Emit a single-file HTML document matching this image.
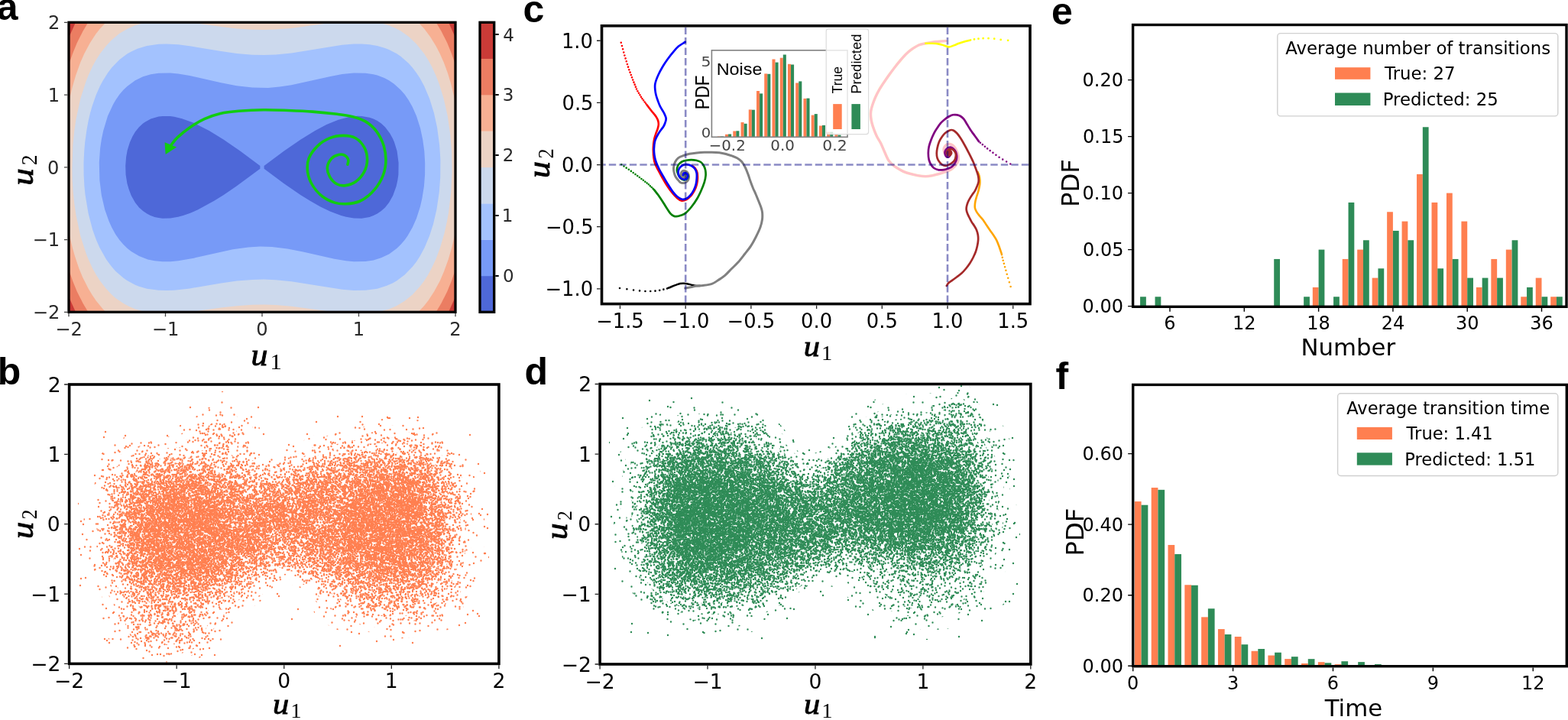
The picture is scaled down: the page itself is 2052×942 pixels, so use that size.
<!DOCTYPE html><html><head><meta charset="utf-8"><style>html,body{margin:0;padding:0;background:#fff}svg{display:block}</style></head><body><svg width="2052" height="942" viewBox="0 0 2052 942"><rect width="2052" height="942" fill="#fff"/>
<defs><path id="dt0" d="M36.5 0h0m77 4h0m-65 .5h0m13 0h0m-36 1.5h0m-6 1h0m-16.5 1h0m64 0h0m-62.5 1h0m72.5 1h0m34 3.5h0m7.5 0h0m-58.5 2h0m-57.5 .5h0m8.5 1h0m5.5 0h0m47 0h0m-36.5 .5h0m91 1h0m-57 .5h0m4.5 6.5h0m-20 1.5h0m-9.5 1.5h0m81.5 0h0m-105.5 .5h0m-8 1h0m101.5 1.5h0m-41 2h0m14.5 3.5h0m11.5 0h0m33.5 0h0m-122 1h0m131 0h0m-124 2h0m-9.5 1h0m131 0h0m-113.5 1h0m39.5 0h0m-18 3.5h0m-31.5 .5h0m80 1.5h0m-70 3.5h0m29.5 1h0m50.5 2.5h0m-1.5 3.5h0m-67 .5h0m59.5 5.5h0m3.5 1h0m-51 .5h0m-14 6h0m46 2h0m-46 1h0m18 0h0m-23.5 1h0m46 2h0m-6 2.5h0m46 1h0m-84.5 1h0m56 2h0m24.5 3h0m-21.5 .5h0m-78 1.5h0m101.5 0h0m-33 2.5h0m5.5 .5h0m-52.5 .5h0m-17 1.5h0m109.5 0h0m-7.5 .5h0m-92 4.5h0m-1 1h0m71 2h0m-57 2.5h0m-19.5 1.5h0m-7 1h0m124 1.5h0m-7 1.5h0m-80 2.5h0m-22 2h0m17 2.5h0"/><path id="dt1" d="M110 0h0m-46.5 1.5h0m-55 .5h0m102.5 0h0m-52.5 1h0m-.5 .5h0m41.5 0h0m-52.5 1h0m46.5 1h0m-94.5 2h0m127 0h0m-80.5 2.5h0m25 3.5h0m-13 1h0m10.5 0h0m3 0h0m-40.5 3h0m12.5 .5h0m24 .5h0m-29 .5h0m73.5 0h0m-42 1.5h0m-33 .5h0m79.5 1.5h0m-88 2h0m-22.5 1h0m73 2.5h0m-75 5h0m52 3h0m46 .5h0m-82 1h0m33.5 .5h0m11.5 2h0m14 1h0m-9.5 .5h0m7.5 0h0m-35 .5h0m-26 .5h0m82 1h0m-46 .5h0m5.5 0h0m-43 1h0m80.5 0h0m16.5 0h0m-64.5 1.5h0m-25 .5h0m-4 2.5h0m100.5 0h0m-111 .5h0m45.5 .5h0m62 0h0m-60 2h0m8.5 1.5h0m-14 1h0m33 0h0m-1 1.5h0m-29.5 1.5h0m-43.5 .5h0m104 .5h0m-47 1h0m58.5 2.5h0m-97 1h0m52.5 1.5h0m-46.5 .5h0m39.5 .5h0m-55 1h0m70.5 0h0m37 0h0m-.5 .5h0m-114 3h0m-1 3.5h0m43.5 .5h0m41 .5h0m-81.5 1h0m100.5 1.5h0m-13 .5h0m8.5 3h0m-88.5 .5h0m.5 3h0m57 0h0m17 0h0m-92.5 4.5h0m127 0h0m-117 1.5h0m90.5 0h0m-65 1h0m-33.5 1.5h0m106 5h0m-43.5 .5h0m-17 2h0m41.5 0h0m-20 1h0m15 .5h0m18 1h0m-98 .5h0m96 0h0m-12 2.5h0m5.5 0h0m-17.5 .5h0m-31.5 1.5h0m-13.5 1.5h0m63.5 0h0m14 3.5h0m-46.5 1.5h0m-55 .5h0m102.5 0h0"/><path id="dt2" d="M65 -2h0m-13.5 .5h0m-14.5 .5h0m12.5 2h0m1.5 0h0m72 1h0m-28 1.5h0m-52 .5h0m54 0h0m-43.5 1h0m70 .5h0m-57.5 1h0m53 1h0m-9.5 .5h0m-37.5 .5h0m42 0h0m-35 .5h0m50 0h0m-119.5 .5h0m41.5 1h0m42 .5h0m-76 .5h0m38.5 0h0m-13 .5h0m65 0h0m-99.5 .5h0m13 0h0m66 0h0m-48 1.5h0m84 .5h0m-14.5 1.5h0m-77 1h0m-26 .5h0m20 0h0m16.5 0h0m78 .5h0m-57 .5h0m6 0h0m17 .5h0m38.5 .5h0m-48.5 1.5h0m-44.5 .5h0m96.5 .5h0m2.5 0h0m-86 1h0m90 .5h0m-101.5 .5h0m99 0h0m-44 .5h0m-57.5 1.5h0m75.5 1.5h0m-93.5 1h0m61 0h0m18.5 0h0m5.5 0h0m24.5 0h0m-49.5 .5h0m34.5 0h0m-73 .5h0m27.5 0h0m9.5 .5h0m9 .5h0m38.5 .5h0m-7.5 .5h0m17 0h0m-106 2h0m40 0h0m47 0h0m-84 .5h0m68.5 0h0m-14 2h0m-9 1.5h0m-25.5 .5h0m.5 0h0m6.5 0h0m74.5 0h0m7 0h0m-111 1h0m22 .5h0m90 0h0m-69 .5h0m65.5 .5h0m-112 2h0m5.5 .5h0m67.5 0h0m-91.5 1.5h0m137 0h0m-88 1h0m32 2h0m34.5 0h0m-95 1h0m33 0h0m-13.5 .5h0m5 0h0m42 0h0m-34.5 1.5h0m-15.5 .5h0m-36 1.5h0m63.5 0h0m18.5 0h0m30 0h0m25 0h0m-78.5 2h0m44 0h0m-5 2h0m-68.5 2h0m14 .5h0m34.5 0h0m-72.5 1h0m91.5 .5h0m29 .5h0m-124 .5h0m89.5 0h0m4.5 .5h0m-27 1h0m-34 1h0m11 0h0m10.5 1h0m5 .5h0m69.5 0h0m-47.5 .5h0m26.5 0h0m-25.5 .5h0m-81 1h0m130 1.5h0m-41 .5h0m-23.5 1h0m-47.5 4h0m55.5 0h0m21 .5h0m-101 1h0m95.5 0h0m41.5 0h0m-121.5 .5h0m26 .5h0m71.5 0h0m3 .5h0m-93.5 .5h0m14.5 0h0m-29 1.5h0m47 .5h0m-14.5 1h0m-20 .5h0m101.5 0h0m-117.5 .5h0m118.5 0h0m-9 .5h0m-15 .5h0m13.5 2h0m5.5 1h0m6.5 2h0m-27 1h0m6.5 2.5h0m-87.5 .5h0m7.5 0h0m59.5 .5h0m2.5 0h0m3 0h0m-71 .5h0m117.5 0h0m-9.5 1.5h0m-94 .5h0m5.5 0h0m90.5 0h0m-123 1h0m.5 1h0m58 1.5h0m-21 1h0m3.5 0h0m41 0h0m-43 1.5h0m-13 1h0m23.5 0h0m26.5 .5h0m7 .5h0m-52 1h0m0 0h0m59 .5h0m29 0h0m-22.5 1.5h0m5 0h0m19.5 .5h0m-59 .5h0m-13.5 .5h0m-14.5 .5h0m12.5 2h0m1.5 0h0m72 1h0"/><path id="dt3" d="M19 -1.5h0m15 1h0m32.5 0h0m20.5 0h0m-52 .5h0m34 0h0m4.5 1h0m-13 1h0m28.5 0h0m-52 .5h0m27 .5h0m-33.5 1h0m9.5 0h0m-36.5 .5h0m14.5 0h0m-15.5 .5h0m6 1h0m-8 1.5h0m37 0h0m16 0h0m60 0h0m-28 .5h0m-74 .5h0m19 0h0m73 1h0m-41.5 1h0m2.5 1.5h0m11.5 0h0m-72.5 1.5h0m20.5 1.5h0m58.5 .5h0m-60 .5h0m77 0h0m-85 1.5h0m85 0h0m-63.5 .5h0m-21 .5h0m13 0h0m1.5 0h0m29.5 0h0m-15.5 .5h0m63 0h0m-13.5 1h0m-68.5 .5h0m10.5 0h0m-21 1h0m39.5 1h0m5.5 1h0m34 .5h0m-20.5 .5h0m10 .5h0m-72 1.5h0m80 0h0m5 1h0m-85 1h0m21 0h0m68.5 0h0m-86 2h0m5 .5h0m30.5 0h0m1.5 0h0m11 0h0m5.5 0h0m-53.5 .5h0m14 .5h0m54.5 0h0m-81 1h0m35 0h0m9.5 0h0m68.5 0h0m-67 .5h0m21 .5h0m-59 .5h0m55.5 0h0m-31.5 .5h0m32.5 0h0m-28 1h0m6.5 .5h0m2.5 0h0m-36 1h0m33.5 0h0m2.5 0h0m15 0h0m-56 .5h0m32.5 .5h0m53 .5h0m-63.5 .5h0m56.5 .5h0m-38 .5h0m47.5 0h0m4 2h0m-11.5 1h0m-29 1h0m6 0h0m27 .5h0m-80.5 .5h0m54 0h0m-6 .5h0m-54.5 .5h0m61 0h0m13 0h0m-16.5 .5h0m42 .5h0m-103.5 1h0m113 0h0m-63 .5h0m-23 1h0m-20 .5h0m61 0h0m-62 1h0m6.5 0h0m35 0h0m45 0h0m-64 .5h0m-19 .5h0m63 .5h0m-21.5 .5h0m31 0h0m-39.5 1h0m2 0h0m-35 .5h0m67.5 0h0m22.5 0h0m-37.5 .5h0m-.5 .5h0m5.5 1h0m36 0h0m-47.5 1.5h0m11 0h0m-61 2h0m80.5 0h0m-76.5 .5h0m52.5 1h0m45.5 0h0m-46.5 .5h0m11 1.5h0m-62 1.5h0m34.5 .5h0m-18 1h0m47 0h0m-41 .5h0m-7 .5h0m19 1h0m11 2h0m-15 1h0m19.5 .5h0m-26 1h0m50.5 0h0m-76.5 2h0m63.5 0h0m31.5 0h0m-36.5 .5h0m40.5 .5h0m-23.5 .5h0m22 1h0m5.5 0h0m-90 1h0m47 0h0m-9 .5h0m7 0h0m-53 1h0m58 0h0m-29.5 1h0m45 0h0m-47.5 .5h0m68.5 .5h0m-83.5 .5h0m2.5 0h0m51 .5h0m9 0h0m-43.5 1h0m-18 .5h0m66.5 0h0m-91 .5h0m13 0h0m63 0h0m2 0h0m35 0h0m-73 .5h0m39 0h0m11.5 2.5h0m-82 .5h0m101 0h0m-33 1h0m6.5 0h0m-72 .5h0m66 0h0m15 0h0m13 0h0m-53 1h0m-38.5 .5h0m37 0h0m4.5 .5h0m42.5 .5h0m-75 .5h0m49 0h0m27.5 0h0m-23.5 1h0m-68.5 .5h0m-2 2h0m29 0h0m43 0h0m8 .5h0m-37.5 .5h0m59 0h0m-24.5 .5h0m-81.5 1h0m90.5 0h0m22.5 0h0m-73.5 .5h0m14 0h0m22 0h0m-30 .5h0m-21 .5h0m52.5 0h0m24 0h0m8 .5h0m-41.5 .5h0m-59 .5h0m93 0h0m-53.5 1h0m2.5 .5h0m12.5 .5h0m2.5 0h0m-29.5 .5h0m-18.5 1.5h0m57 0h0m-49 1h0m-12.5 .5h0m15 1h0m56 0h0m-2.5 .5h0m-28 .5h0m33 .5h0m-62.5 1h0m7.5 0h0m33.5 0h0m32 0h0m9 0h0m-86 .5h0m18.5 0h0m-25 .5h0m16.5 .5h0m39 .5h0m8.5 .5h0m22 .5h0m-92.5 .5h0m9.5 .5h0m9 .5h0m51 0h0m-63 2h0m22.5 1h0m14 0h0m33.5 .5h0m-38 .5h0m2.5 0h0m13 1h0m-62.5 1.5h0m113 0h0m-83.5 .5h0m39 0h0m-37 .5h0m17.5 0h0m-43 .5h0m86 0h0m-29 .5h0m-2.5 1h0m-27 .5h0m32 1h0m-27.5 .5h0m-35 .5h0m32.5 0h0m80.5 0h0m-96 1.5h0m15 1h0m32.5 0h0m20.5 0h0m-52 .5h0m34 0h0m4.5 1h0m-13 1h0m28.5 0h0"/><path id="dt4" d="M30.5 -2h0m81 0h0m-51.5 .5h0m8.5 0h0m40 0h0m7.5 0h0m-38.5 .5h0m-79.5 .5h0m74 0h0m45 0h0m-.5 .5h0m-102.5 1h0m-14.5 .5h0m53.5 0h0m65.5 0h0m-88.5 .5h0m46 0h0m1.5 0h0m11.5 0h0m1.5 0h0m-48.5 .5h0m65.5 0h0m-90 .5h0m6 0h0m91 2h0m-47.5 .5h0m-36.5 .5h0m52 0h0m12 0h0m-60 1.5h0m35.5 0h0m-67 1h0m14 0h0m63 0h0m29 0h0m-89.5 .5h0m75.5 0h0m7.5 0h0m-24.5 .5h0m-56 1h0m8.5 0h0m80 0h0m5 .5h0m-95.5 .5h0m29 0h0m42.5 0h0m-39 .5h0m11.5 0h0m-17 .5h0m12 0h0m-23 .5h0m39 .5h0m14 1h0m6 0h0m-91.5 .5h0m51.5 0h0m53.5 0h0m-31.5 .5h0m-32 .5h0m39.5 0h0m-83 .5h0m119 0h0m-114.5 .5h0m86 0h0m-65.5 .5h0m88.5 .5h0m-3 .5h0m-14 .5h0m-85 .5h0m34 .5h0m-43 .5h0m60 0h0m-63 .5h0m45 0h0m74 0h0m-52 .5h0m-62.5 .5h0m28 0h0m32.5 0h0m1 0h0m21.5 .5h0m-68.5 1h0m13.5 0h0m2.5 1h0m28 0h0m38 0h0m-52 .5h0m-38 .5h0m44.5 0h0m-22 .5h0m53.5 0h0m-48 .5h0m-40 .5h0m34.5 0h0m38 0h0m7 0h0m39.5 0h0m-84.5 .5h0m61 0h0m-50.5 .5h0m49 0h0m-41.5 1.5h0m36.5 .5h0m-68.5 .5h0m-8 .5h0m42.5 0h0m36 0h0m-85 .5h0m-2 .5h0m61 .5h0m9 0h0m24 0h0m-73.5 .5h0m-15.5 .5h0m3 1h0m1.5 0h0m67 0h0m-23 .5h0m-48 .5h0m90.5 .5h0m-90 .5h0m4.5 0h0m41.5 0h0m34 0h0m16.5 0h0m-2.5 .5h0m-69 .5h0m35 0h0m38 0h0m-70 .5h0m9.5 2.5h0m3 0h0m57.5 0h0m0 0h0m-70 .5h0m63.5 0h0m-75 1h0m-20.5 .5h0m21 0h0m40.5 0h0m8 .5h0m-41 .5h0m52.5 0h0m-83.5 .5h0m20 0h0m5 0h0m27 0h0m-46 .5h0m-1 .5h0m-8.5 .5h0m119 0h0m-78 .5h0m16.5 .5h0m21 0h0m-63.5 .5h0m44 1h0m-26.5 .5h0m63.5 0h0m5.5 1h0m-91 1h0m7.5 0h0m76 0h0m15.5 .5h0m-65.5 .5h0m52.5 0h0m-55.5 .5h0m-26 .5h0m62 0h0m12.5 0h0m5 0h0m6.5 0h0m-49 .5h0m40 0h0m15 .5h0m-89.5 .5h0m14 0h0m-28 .5h0m37 .5h0m24 0h0m-37.5 .5h0m11.5 0h0m-8.5 .5h0m22.5 .5h0m-54 .5h0m10.5 0h0m98.5 0h0m5 0h0m5 0h0m-65.5 .5h0m46 0h0m11.5 0h0m-75.5 .5h0m12 0h0m2.5 0h0m12.5 .5h0m24.5 .5h0m-67.5 .5h0m53 0h0m34.5 0h0m5 0h0m-87 .5h0m87.5 .5h0m-56 .5h0m-39.5 .5h0m19.5 1h0m-11 .5h0m-8.5 1.5h0m11 0h0m28 0h0m-45.5 1h0m47.5 0h0m-12 .5h0m-13.5 .5h0m55.5 0h0m-56 .5h0m68 0h0m10 0h0m-107.5 .5h0m83 0h0m36 0h0m-109 .5h0m83.5 0h0m-85.5 1.5h0m100.5 .5h0m-31 .5h0m-54.5 .5h0m54.5 0h0m-63 .5h0m38 0h0m-47.5 .5h0m67.5 0h0m-67 .5h0m44.5 0h0m6 0h0m16.5 0h0m2 0h0m7 0h0m32.5 0h0m-106 .5h0m64.5 0h0m25.5 .5h0m-25 .5h0m-13.5 1h0m9 0h0m-16.5 1h0m59 .5h0m-33.5 .5h0m23 .5h0m-56 .5h0m48 0h0m-24.5 .5h0m-32.5 .5h0m1.5 0h0m40 1h0m0 .5h0m-51.5 .5h0m52.5 0h0m30 0h0m-88 1h0m78 0h0m-41.5 2h0m17.5 .5h0m-21.5 .5h0m-23.5 .5h0m24 0h0m-15 .5h0m14 0h0m34.5 0h0m-28.5 .5h0m-17 .5h0m61 0h0m13.5 0h0m-86.5 .5h0m36 0h0m9 0h0m-72.5 .5h0m78 0h0m-51.5 1.5h0m20.5 .5h0m20 0h0m-2.5 .5h0m7.5 0h0m7.5 .5h0m17 0h0m-43 .5h0m51.5 0h0m-80 .5h0m52.5 .5h0m-66.5 .5h0m10 .5h0m74.5 0h0m-50 1h0m24.5 1h0m25 0h0m-77 .5h0m55 0h0m21 0h0m10 .5h0m-92 .5h0m38.5 0h0m-32.5 .5h0m84.5 0h0m-30 1h0m28 0h0m-85.5 .5h0m36.5 1h0m24 0h0m7.5 0h0m-63 1h0m51.5 0h0m29 0h0m-37.5 .5h0m26 0h0m-36.5 .5h0m57.5 0h0m-100 .5h0m20.5 0h0m3.5 0h0m-23 .5h0m34 .5h0m-44 .5h0m3 0h0m3 0h0m5.5 0h0m62 0h0m38 .5h0m-14.5 .5h0m-86.5 .5h0m12 1h0m3.5 0h0m79.5 0h0m.5 0h0m-74 .5h0m30.5 .5h0m-36.5 1h0m66 0h0m-11 .5h0m-81.5 1h0m21.5 2h0m63 0h0m-54 .5h0m39 0h0m14 0h0m-62 .5h0m23.5 .5h0m33.5 0h0m-29 .5h0m-47.5 .5h0m78 .5h0m-43.5 .5h0m7.5 0h0m6 0h0m-54.5 .5h0m17.5 0h0m31.5 0h0m70 0h0m-109.5 .5h0m88 0h0m1.5 0h0m-76.5 2h0m34.5 .5h0m56.5 0h0m-55.5 1h0m13.5 1h0m-25 1.5h0m16.5 0h0m3 0h0m-45 .5h0m31 0h0m61 0h0m-14 1h0m-52 .5h0m-15 .5h0m81 0h0m-51.5 .5h0m8.5 0h0m40 0h0m7.5 0h0m-38.5 .5h0m-79.5 .5h0m74 0h0m45 0h0m-.5 .5h0m-102.5 1h0m-14.5 .5h0m53.5 0h0m65.5 0h0m-88.5 .5h0m46 0h0m1.5 0h0m11.5 0h0m1.5 0h0"/><path id="dt5" d="M50.5 -2h0m-20.5 .5h0m46.5 0h0m-65.5 1h0m1.5 .5h0m1 1h0m61 0h0m-3.5 1h0m1.5 0h0m4.5 0h0m4 0h0m-46 .5h0m-21.5 .5h0m7 0h0m8 1h0m-26.5 .5h0m41.5 0h0m17 0h0m50.5 0h0m-37 .5h0m-47.5 1h0m48 0h0m.5 0h0m-38 .5h0m23 0h0m6.5 0h0m-63 .5h0m33 0h0m25.5 0h0m30 0h0m-79.5 .5h0m6 0h0m29 0h0m28.5 0h0m15.5 0h0m-9 .5h0m16.5 0h0m-90.5 .5h0m36 0h0m-45.5 .5h0m91 0h0m18 0h0m-109 .5h0m51.5 0h0m8.5 0h0m32 0h0m14 0h0m3 0h0m-45.5 .5h0m12 0h0m-21.5 .5h0m25 0h0m-60.5 1.5h0m23 0h0m.5 0h0m21 .5h0m-56.5 .5h0m6 1h0m4 0h0m20.5 0h0m68 .5h0m-19 .5h0m3 0h0m-72 .5h0m27.5 0h0m7 0h0m-27.5 .5h0m42 0h0m32 0h0m-5 .5h0m3 0h0m-6 .5h0m-90 .5h0m17.5 0h0m33.5 0h0m35 0h0m19 0h0m4 0h0m-107 .5h0m109 0h0m-46 .5h0m10 0h0m32 0h0m-59 .5h0m9 1h0m18 0h0m7.5 .5h0m-38.5 .5h0m-33 .5h0m57 0h0m28.5 0h0m-34.5 1.5h0m15 0h0m-60.5 1h0m67 0h0m-73.5 .5h0m18.5 0h0m17.5 0h0m-35.5 .5h0m76 0h0m-56.5 .5h0m47.5 0h0m8 1h0m7 0h0m5 .5h0m-75 1h0m48.5 0h0m-41.5 1h0m29.5 0h0m30 0h0m8 0h0m6.5 .5h0m-97 1.5h0m75.5 0h0m-9 .5h0m28.5 0h0m-75.5 .5h0m8.5 0h0m36 0h0m16.5 0h0m-44.5 .5h0m4.5 0h0m26.5 .5h0m-53 .5h0m10 0h0m69.5 0h0m-92.5 .5h0m6 0h0m15.5 0h0m46.5 .5h0m-49.5 .5h0m33 0h0m1 0h0m44.5 0h0m2 0h0m-73 .5h0m30.5 0h0m18 .5h0m15.5 .5h0m10 0h0m-99 .5h0m99 0h0m-71.5 1.5h0m8 .5h0m59.5 0h0m-44.5 .5h0m18.5 0h0m11 0h0m-89.5 .5h0m109 0h0m-70.5 1h0m20 .5h0m48.5 0h0m-83 1h0m41.5 0h0m-20.5 .5h0m49 0h0m-26.5 .5h0m37.5 0h0m-65 .5h0m6.5 0h0m6.5 1h0m2.5 0h0m-40 1h0m1 .5h0m17.5 0h0m6.5 0h0m33.5 0h0m-3 .5h0m-15.5 .5h0m2.5 .5h0m22 0h0m-47.5 1h0m8 .5h0m38 0h0m-29 .5h0m-26 .5h0m25 0h0m-40.5 .5h0m1.5 0h0m14.5 0h0m7.5 0h0m21 .5h0m49.5 0h0m-84.5 .5h0m53 0h0m16 0h0m-71 .5h0m5 0h0m33 0h0m9.5 0h0m-27.5 .5h0m-25 .5h0m69 0h0m-57 .5h0m12.5 .5h0m56 .5h0m9 0h0m-52 1.5h0m3 0h0m16 .5h0m40.5 .5h0m-21.5 .5h0m-85.5 .5h0m20 0h0m21 0h0m11 0h0m57 0h0m-63 .5h0m53.5 0h0m-35.5 1h0m-53.5 .5h0m49 0h0m-27 .5h0m23.5 0h0m-28 .5h0m54.5 1h0m1.5 0h0m14.5 0h0m-79 .5h0m68.5 .5h0m-71 .5h0m5 .5h0m27 0h0m24 0h0m9.5 0h0m-55 1h0m55.5 0h0m-44.5 .5h0m42 0h0m25 0h0m-101.5 .5h0m8.5 .5h0m89.5 0h0m-102 .5h0m.5 0h0m7.5 0h0m13 0h0m88 0h0m.5 0h0m-83.5 1h0m61.5 0h0m-28.5 .5h0m21.5 0h0m-53.5 .5h0m6.5 0h0m16 0h0m3 0h0m32 0h0m-24 1h0m21.5 0h0m1.5 0h0m-22 1h0m-40 .5h0m4 .5h0m-16.5 .5h0m56.5 0h0m-32.5 .5h0m31 0h0m21.5 0h0m18.5 0h0m-37 2h0m30 .5h0m3 0h0m-97 .5h0m34.5 0h0m74.5 0h0m-95.5 1h0m-7 .5h0m68.5 0h0m-56.5 .5h0m12 .5h0m15.5 0h0m21.5 0h0m36.5 0h0m-93.5 .5h0m54 0h0m-16.5 .5h0m17 .5h0m-49 .5h0m87.5 0h0m-102 .5h0m-2.5 .5h0m4 0h0m105 0h0m-105.5 .5h0m.5 0h0m29.5 0h0m68 0h0m-12 .5h0m14 .5h0m-2 .5h0m-66 .5h0m-10.5 .5h0m36.5 0h0m38 0h0m-37 .5h0m21.5 0h0m-69 .5h0m53 0h0m-51 1h0m6.5 0h0m24.5 0h0m21.5 .5h0m-41 .5h0m-11.5 .5h0m-17.5 .5h0m13 0h0m96 0h0m-85.5 .5h0m74 0h0m-51 .5h0m18.5 0h0m23.5 .5h0m-63 .5h0m16.5 0h0m18 0h0m-45 .5h0m35.5 .5h0m-6 .5h0m20 0h0m23.5 0h0m-37 .5h0m43.5 0h0m-87.5 .5h0m0 0h0m78 .5h0m-47 .5h0m24 0h0m-10.5 .5h0m10.5 0h0m14 0h0m3.5 0h0m-63.5 .5h0m73.5 0h0m-54 1h0m23 0h0m27.5 0h0m-71.5 .5h0m33 0h0m6 0h0m-23 .5h0m37 .5h0m-45 .5h0m48 0h0m19 0h0m-6.5 .5h0m1 0h0m-83.5 .5h0m109 0h0m-74.5 1h0m49.5 0h0m-81 1h0m86 0h0m-27.5 .5h0m18.5 0h0m-28.5 .5h0m-49.5 1.5h0m35.5 0h0m35 0h0m-37 .5h0m25.5 0h0m-63.5 .5h0m48 0h0m61 0h0m-96.5 .5h0m9 .5h0m36.5 0h0m48.5 0h0m-8 .5h0m-17 .5h0m-34.5 .5h0m12.5 0h0m43.5 0h0m-50 .5h0m34.5 0h0m-77 .5h0m2.5 0h0m15.5 0h0m45 0h0m11.5 0h0m23 0h0m-73.5 .5h0m10 0h0m30 0h0m11 .5h0m-39.5 .5h0m25.5 0h0m14.5 0h0m-83 1h0m109 0h0m-15.5 .5h0m-73.5 .5h0m3 0h0m17.5 1h0m-5 .5h0m20 0h0m9.5 .5h0m22 0h0m17 0h0m-44.5 1h0m.5 0h0m22 0h0m17 0h0m-81.5 .5h0m11 0h0m3 0h0m4 .5h0m3.5 0h0m33.5 0h0m-63.5 .5h0m90 0h0m-12 2.5h0m5.5 0h0m-91 .5h0m18 0h0m12.5 0h0m69.5 0h0m-29 .5h0m-64 .5h0m15.5 0h0m54.5 0h0m7 0h0m-12 .5h0m3 0h0m-43.5 .5h0m14.5 0h0m12 0h0m-3.5 .5h0m29 0h0m-56 .5h0m12 0h0m16 0h0m45.5 0h0m-47.5 1.5h0m4 .5h0m-60 .5h0m4 0h0m2.5 0h0m102.5 0h0m-79 1.5h0m19.5 0h0m6.5 0h0m21.5 0h0m.5 1h0m28 0h0m-73 .5h0m2.5 0h0m30 0h0m-25.5 1h0m3.5 1.5h0m14.5 0h0m46 0h0m-95.5 .5h0m89.5 0h0m-39.5 .5h0m8 .5h0m-53 .5h0m3 0h0m20 0h0m15.5 0h0m-30.5 .5h0m10.5 0h0m18.5 1h0m0 1h0m-20.5 .5h0m46.5 0h0m-65.5 1h0m1.5 .5h0m1 1h0m61 0h0m-3.5 1h0m1.5 0h0m4.5 0h0m4 0h0"/><path id="dt6" d="M23.5 -2h0m106 0h0m-119 .5h0m102 0h0m22 0h0m-116.5 1h0m35 0h0m3.5 0h0m-38 .5h0m22 0h0m91.5 0h0m-129.5 .5h0m37.5 0h0m78 0h0m-85 .5h0m24 0h0m77 0h0m-109 .5h0m88 0h0m-106 .5h0m16.5 0h0m46 0h0m43 0h0m-28 .5h0m13 0h0m16.5 0h0m21 1h0m-98.5 .5h0m20 0h0m51.5 0h0m-40 .5h0m25.5 0h0m-95.5 1h0m133.5 0h0m5.5 0h0m-84.5 .5h0m63.5 0h0m-70 .5h0m36 0h0m-77.5 1h0m49 0h0m56.5 0h0m-64 .5h0m42 0h0m-87 .5h0m139 0h0m-133.5 .5h0m84.5 0h0m3.5 0h0m28.5 0h0m-113.5 .5h0m40.5 0h0m16 0h0m29.5 0h0m39.5 0h0m-131.5 .5h0m16 0h0m14.5 0h0m15 0h0m59 0h0m-104.5 .5h0m71 0h0m56.5 0h0m-75 .5h0m15 0h0m16 0h0m16.5 0h0m10 0h0m-115 .5h0m76.5 0h0m2 0h0m60.5 0h0m-118.5 .5h0m2 0h0m10 0h0m11 0h0m91 .5h0m-102 .5h0m14 0h0m4.5 0h0m32 0h0m50 0h0m-115.5 .5h0m41.5 0h0m5 .5h0m30.5 0h0m37.5 .5h0m-7 .5h0m7.5 0h0m-105.5 .5h0m-23.5 .5h0m130.5 0h0m8.5 0h0m-68.5 .5h0m8 0h0m8.5 0h0m45 0h0m-125 .5h0m117.5 0h0m-82 .5h0m81 0h0m-27.5 .5h0m-71 .5h0m27 0h0m61.5 0h0m-60 .5h0m34 0h0m-66.5 .5h0m23 0h0m14.5 0h0m18.5 0h0m41 0h0m3.5 0h0m7 0h0m-40.5 .5h0m12 0h0m-78 .5h0m80 0h0m13.5 0h0m10 0h0m-94.5 .5h0m102.5 0h0m-107 .5h0m2.5 0h0m56 0h0m5 0h0m-12 .5h0m29.5 0h0m15 0h0m-108.5 .5h0m15.5 0h0m14.5 0h0m47.5 0h0m-42.5 .5h0m31.5 0h0m-26.5 .5h0m37 1h0m-18 .5h0m13 0h0m2.5 .5h0m-36.5 .5h0m56.5 0h0m-15 .5h0m-82 .5h0m3.5 .5h0m26 0h0m-29.5 .5h0m45 0h0m-37 .5h0m12 0h0m22 0h0m2.5 0h0m32 0h0m46 0h0m-94 .5h0m16.5 0h0m48.5 0h0m15.5 0h0m3.5 .5h0m-123.5 .5h0m9.5 0h0m27 0h0m35.5 0h0m6.5 0h0m48.5 0h0m-119 .5h0m9.5 0h0m7.5 0h0m15.5 0h0m78 0h0m-119 .5h0m35 0h0m10 0h0m33.5 0h0m37 0h0m23.5 0h0m-134 .5h0m55.5 0h0m17 0h0m46.5 0h0m6.5 0h0m-124 .5h0m16 0h0m48.5 0h0m-47.5 .5h0m42.5 0h0m45.5 0h0m-25 .5h0m21.5 0h0m4 0h0m-55.5 .5h0m3 0h0m-34.5 .5h0m7.5 0h0m80.5 0h0m-87.5 .5h0m6.5 0h0m45 0h0m53 0h0m-119 .5h0m63 0h0m-25 .5h0m19.5 0h0m39 0h0m18.5 .5h0m-66 .5h0m8.5 0h0m33 0h0m-64.5 .5h0m25 0h0m56.5 0h0m-118.5 .5h0m139 0h0m-142.5 .5h0m22 0h0m32.5 0h0m44 0h0m40.5 0h0m-114 .5h0m63.5 0h0m-62.5 .5h0m31.5 0h0m49.5 0h0m9.5 .5h0m7.5 0h0m-102.5 .5h0m57 0h0m0 0h0m35 0h0m-22 .5h0m25 0h0m5.5 0h0m-103.5 .5h0m77.5 0h0m11.5 0h0m3.5 0h0m-111 .5h0m15.5 0h0m2.5 0h0m19.5 0h0m13.5 0h0m25.5 0h0m10.5 0h0m52 0h0m-94.5 .5h0m52.5 0h0m38 0h0m-68.5 .5h0m25 0h0m-83 .5h0m16.5 0h0m40.5 0h0m4.5 0h0m-3 .5h0m-20.5 .5h0m10 0h0m72 0h0m-108.5 .5h0m3.5 0h0m58.5 0h0m3.5 0h0m31 0h0m2.5 0h0m-73.5 .5h0m1.5 0h0m53 0h0m-50.5 .5h0m20.5 0h0m67.5 0h0m-116.5 .5h0m33 0h0m34 0h0m-22.5 .5h0m27 0h0m19 0h0m-95.5 .5h0m40.5 0h0m4.5 0h0m8.5 0h0m35.5 .5h0m-17 .5h0m-17 .5h0m11.5 0h0m45 0h0m-34.5 .5h0m28.5 0h0m-116 .5h0m49.5 0h0m23.5 0h0m-45 .5h0m59.5 0h0m-8.5 .5h0m.5 0h0m23.5 0h0m-78 .5h0m9 0h0m14 0h0m14 0h0m-58 .5h0m95.5 0h0m.5 0h0m-68.5 .5h0m23.5 .5h0m8 0h0m14 0h0m39 .5h0m-65.5 .5h0m62 0h0m-93 .5h0m72 0h0m25.5 0h0m2.5 0h0m-22.5 .5h0m7.5 0h0m-53 .5h0m39 0h0m25 0h0m-110 .5h0m10 0h0m21.5 0h0m-34.5 .5h0m11 0h0m7.5 0h0m.5 0h0m6.5 0h0m31 .5h0m49.5 0h0m2.5 0h0m-48.5 .5h0m2 0h0m34 0h0m-46 .5h0m16.5 1h0m1 0h0m13 0h0m-78.5 .5h0m25.5 0h0m6 0h0m3 0h0m13.5 0h0m36 .5h0m-90 .5h0m2 0h0m11 0h0m2.5 0h0m25 0h0m10.5 0h0m44.5 0h0m-58 .5h0m-37.5 .5h0m51.5 0h0m23.5 0h0m-65 .5h0m20 .5h0m74.5 0h0m-105 .5h0m17.5 0h0m121.5 0h0m-130 .5h0m29 0h0m9.5 0h0m78 0h0m-124 .5h0m6.5 0h0m12.5 0h0m37 0h0m1.5 0h0m-14.5 .5h0m81 0h0m-72.5 .5h0m-30 .5h0m18 0h0m4.5 0h0m41 0h0m15.5 0h0m28.5 0h0m-110.5 .5h0m54 0h0m.5 .5h0m-69 .5h0m41 0h0m48 0h0m9 0h0m-101.5 .5h0m23 0h0m107 0h0m-95.5 .5h0m28 0h0m-49 .5h0m25.5 0h0m18.5 0h0m19.5 0h0m35 0h0m7 0h0m-89 .5h0m16.5 0h0m28.5 0h0m5 0h0m14.5 0h0m9 0h0m-105.5 .5h0m121.5 0h0m17.5 0h0m-119 .5h0m28 0h0m-30.5 .5h0m20.5 0h0m7.5 0h0m38 0h0m43.5 0h0m-65.5 .5h0m28.5 0h0m41.5 0h0m-101 .5h0m1 0h0m31 0h0m28 0h0m44 0h0m-96.5 .5h0m23 0h0m-41 .5h0m47 0h0m31.5 0h0m34.5 0h0m-134.5 .5h0m14 0h0m32 0h0m22.5 0h0m70.5 0h0m-33 .5h0m1 0h0m24.5 0h0m-63.5 .5h0m8.5 0h0m9.5 0h0m9.5 0h0m13 0h0m-80 .5h0m1.5 0h0m30 0h0m-56 .5h0m19.5 0h0m9.5 .5h0m30 0h0m39.5 0h0m5.5 0h0m-105 .5h0m.5 0h0m42 0h0m4.5 .5h0m37 0h0m-34 .5h0m6.5 0h0m20.5 0h0m-82 .5h0m53 0h0m1.5 0h0m51.5 0h0m25 0h0m6.5 0h0m1.5 0h0m-86 .5h0m56.5 0h0m19 0h0m-54 1h0m-26 .5h0m-31.5 .5h0m.5 0h0m56 0h0m-17 .5h0m27 0h0m25 0h0m-75.5 .5h0m51 .5h0m46.5 0h0m-106 .5h0m16 0h0m5 0h0m-41 1h0m20 0h0m40 0h0m14.5 0h0m33 0h0m-34 .5h0m-57 .5h0m80.5 0h0m26.5 .5h0m8 0h0m-11.5 .5h0m2 0h0m-21.5 .5h0m2.5 .5h0m-92 .5h0m35 0h0m19 .5h0m20.5 0h0m-81 .5h0m27 0h0m87.5 0h0m-46.5 .5h0m42.5 0h0m-120 .5h0m34 0h0m60 0h0m45 0h0m-103.5 .5h0m33.5 0h0m67 0h0m-132.5 .5h0m2 0h0m0 0h0m5.5 0h0m81.5 0h0m50 0h0m-72 .5h0m9.5 0h0m13 0h0m42.5 0h0m-97 .5h0m70 0h0m-96.5 .5h0m13 0h0m75 0h0m16 .5h0m-96.5 1h0m64.5 0h0m28.5 0h0m23.5 0h0m-28.5 .5h0m-93 .5h0m5.5 0h0m.5 0h0m36.5 0h0m44.5 .5h0m11.5 0h0m20 0h0m-129 .5h0m121 0h0m18 0h0m-76.5 .5h0m33 0h0m-26.5 .5h0m21 0h0m-4.5 .5h0m-77 .5h0m6 0h0m102 0h0m2.5 0h0m-91.5 .5h0m83.5 0h0m19.5 0h0m-110.5 .5h0m91.5 0h0m8.5 .5h0m-54 .5h0m5.5 0h0m1.5 0h0m41 0h0m14 0h0m-132 .5h0m43 0h0m17 0h0m5.5 0h0m73.5 0h0m-130.5 .5h0m51 0h0m13 0h0m8.5 0h0m4.5 0h0m12 0h0m-70.5 .5h0m80.5 0h0m22 0h0m-75.5 .5h0m24.5 0h0m7.5 0h0m39 0h0m-98 .5h0m9 0h0m17 0h0m-46 .5h0m21 .5h0m65.5 0h0m8 0h0m-62 1h0m80 .5h0m-95 .5h0m50.5 0h0m4.5 0h0m37 0h0m-79.5 .5h0m89.5 0h0m-120.5 .5h0m1.5 0h0m95.5 0h0m2 0h0m-79.5 .5h0m106 0h0m-119 .5h0m102 0h0m22 0h0m-116.5 1h0m35 0h0m3.5 0h0m-38 .5h0m22 0h0m91.5 0h0m-129.5 .5h0m37.5 0h0m78 0h0m-85 .5h0m24 0h0m77 0h0m-109 .5h0m88 0h0m-106 .5h0m16.5 0h0m46 0h0m43 0h0"/><path id="dt7" d="M9 -2h0m22.5 .5h0m9 0h0m13 0h0m12 0h0m1 0h0m14.5 0h0m16.5 0h0m-81 .5h0m19.5 0h0m38 0h0m8.5 0h0m-79.5 .5h0m21.5 0h0m68 0h0m18.5 0h0m4 0h0m3.5 0h0m-61.5 .5h0m33 0h0m25.5 0h0m-94.5 .5h0m13.5 0h0m8.5 0h0m-33 .5h0m100 0h0m-88.5 .5h0m22.5 0h0m60 0h0m-105 1h0m54.5 0h0m2.5 0h0m30 0h0m36 0h0m-114.5 .5h0m81 0h0m28 0h0m-79.5 .5h0m46 0h0m-68.5 .5h0m36 0h0m26 0h0m11.5 0h0m6.5 0h0m15 0h0m-71.5 .5h0m20.5 0h0m25.5 0h0m12 0h0m7 0h0m9.5 0h0m-111 .5h0m33 0h0m90 0h0m-104 .5h0m3.5 0h0m14 0h0m13.5 0h0m-46.5 .5h0m75.5 .5h0m-71 .5h0m36.5 0h0m65.5 0h0m-44 .5h0m17 0h0m3.5 .5h0m-69.5 .5h0m13 0h0m15 0h0m52 0h0m-10.5 .5h0m1.5 0h0m19 0h0m-100.5 .5h0m57 0h0m52 0h0m1.5 0h0m2 0h0m-40 .5h0m34 0h0m-102 .5h0m51.5 0h0m4 0h0m43 0h0m-66 .5h0m7.5 0h0m32 0h0m13 0h0m-7.5 .5h0m6.5 0h0m12.5 0h0m-77.5 .5h0m86 0h0m-90.5 1h0m71.5 0h0m.5 0h0m-64 .5h0m6 0h0m18 0h0m52 0h0m-43 .5h0m41 0h0m-79.5 .5h0m1.5 0h0m13.5 0h0m14.5 0h0m1.5 0h0m3 0h0m-12.5 .5h0m10 0h0m-54.5 .5h0m70 0h0m5 0h0m-72 .5h0m36.5 0h0m29.5 0h0m13.5 0h0m15 0h0m2 0h0m6.5 0h0m-108 .5h0m20 0h0m8.5 0h0m-32 1.5h0m62.5 0h0m22.5 0h0m11 0h0m18.5 0h0m8.5 0h0m-103.5 .5h0m2.5 0h0m64 0h0m0 0h0m-80.5 .5h0m2 0h0m1 0h0m6.5 0h0m39 0h0m3.5 0h0m-16 .5h0m18.5 0h0m0 .5h0m2 0h0m46.5 0h0m-101.5 .5h0m74 0h0m-83.5 .5h0m16.5 0h0m71.5 0h0m35 0h0m-113 .5h0m18.5 .5h0m8 0h0m-33 .5h0m123 0h0m-110 .5h0m4 0h0m14 0h0m12 0h0m29.5 0h0m27 0h0m-56.5 .5h0m72 0h0m-96.5 .5h0m67 0h0m20.5 0h0m-108.5 .5h0m55.5 0h0m32 0h0m7 0h0m15 0h0m13.5 0h0m-85 .5h0m2 0h0m3.5 0h0m33 0h0m-66 .5h0m27 0h0m26 0h0m28 0h0m-33 .5h0m42 0h0m8.5 0h0m-108.5 .5h0m41 0h0m15.5 0h0m7 0h0m59.5 0h0m-107 .5h0m8 0h0m1.5 0h0m37.5 0h0m.5 0h0m34.5 0h0m-69.5 .5h0m19.5 0h0m-37.5 .5h0m43 0h0m21.5 0h0m27 0h0m-92 .5h0m25 0h0m41.5 0h0m-42.5 .5h0m79 0h0m-113.5 .5h0m36 0h0m60 0h0m27 0h0m-109 .5h0m52 0h0m9 0h0m-26 .5h0m46.5 0h0m-79 .5h0m7.5 0h0m18 0h0m26 0h0m1.5 0h0m11 0h0m16 0h0m-75.5 .5h0m11.5 0h0m38 0h0m-68 .5h0m44 0h0m7 0h0m36 0h0m36 0h0m-108 .5h0m7 0h0m11 0h0m52 0h0m-37.5 .5h0m46.5 0h0m-89.5 1h0m28.5 0h0m3 0h0m2 0h0m16.5 0h0m-21.5 .5h0m26.5 0h0m18 0h0m7.5 0h0m-25 .5h0m25.5 0h0m-52 .5h0m21.5 0h0m2.5 0h0m44.5 0h0m.5 0h0m9.5 0h0m-93.5 .5h0m11 0h0m68.5 0h0m3 .5h0m9.5 0h0m-108 .5h0m114.5 0h0m-105 .5h0m22 0h0m15 0h0m10.5 0h0m13 0h0m-46 .5h0m34.5 0h0m27 0h0m10.5 0h0m-52 .5h0m17 0h0m10.5 0h0m-44 .5h0m11 .5h0m69.5 0h0m6 0h0m-120.5 .5h0m32 0h0m28 0h0m63 0h0m-119.5 .5h0m123 0h0m-111.5 .5h0m12.5 0h0m-2 .5h0m66.5 0h0m1 0h0m12 0h0m11.5 0h0m-9 .5h0m-92.5 .5h0m35 0h0m13 0h0m-12 .5h0m16 0h0m33 0h0m20 0h0m-116.5 .5h0m4.5 0h0m27 0h0m8 0h0m65 0h0m18.5 0h0m-101.5 .5h0m1 0h0m0 .5h0m58 0h0m5 0h0m22.5 .5h0m-74 .5h0m18 0h0m10.5 0h0m4 0h0m4 0h0m1.5 0h0m-60 .5h0m12 0h0m10.5 0h0m15 0h0m1 0h0m29.5 0h0m37 0h0m-105 .5h0m6 0h0m38 0h0m20 0h0m8 0h0m32.5 0h0m-65.5 .5h0m5 0h0m8.5 0h0m12 0h0m23 0h0m7.5 0h0m-44.5 .5h0m21.5 0h0m11.5 0h0m-87 .5h0m5 0h0m30.5 0h0m56 0h0m-96 .5h0m55.5 0h0m16 0h0m40.5 0h0m-109.5 .5h0m93.5 0h0m-34.5 1h0m8 0h0m-19.5 .5h0m56.5 0h0m-49.5 .5h0m-27 .5h0m11.5 0h0m31 0h0m-57.5 .5h0m30.5 0h0m18.5 0h0m47.5 0h0m-109.5 .5h0m.5 0h0m39.5 0h0m-46.5 .5h0m33 0h0m19 0h0m44.5 0h0m26.5 0h0m-64.5 .5h0m-49 .5h0m108 0h0m-80 .5h0m72 0h0m5 0h0m-68.5 .5h0m54 0h0m16.5 0h0m3 0h0m-60.5 .5h0m24 0h0m11 0h0m8 0h0m-65 .5h0m34 0h0m15 0h0m21 0h0m-98 .5h0m22 0h0m20 0h0m37 0h0m30 0h0m-88.5 .5h0m60.5 0h0m23.5 0h0m-32 .5h0m19.5 0h0m11.5 0h0m-110 .5h0m70 0h0m-74 .5h0m27.5 0h0m1 0h0m37 0h0m6 0h0m22 0h0m29.5 0h0m-123.5 .5h0m60 0h0m32 0h0m8.5 0h0m21 0h0m1.5 0h0m-82 .5h0m15 0h0m18.5 0h0m21.5 0h0m13 0h0m-107.5 1h0m21.5 0h0m13 0h0m15 0h0m5.5 0h0m60.5 0h0m7.5 0h0m-104 .5h0m1 0h0m14 0h0m8.5 0h0m-26.5 .5h0m10.5 0h0m15.5 0h0m35.5 0h0m-44.5 .5h0m49.5 0h0m15 0h0m-35.5 .5h0m40 0h0m-87 .5h0m90.5 0h0m-94.5 .5h0m73.5 0h0m-83 .5h0m26 0h0m66 0h0m31 0h0m-18.5 .5h0m5.5 0h0m-74.5 .5h0m35 0h0m6 0h0m-24.5 .5h0m5 0h0m22.5 0h0m-23.5 1h0m60 0h0m-119 .5h0m32 0h0m6.5 0h0m17 0h0m21 0h0m31.5 0h0m15 0h0m-77 .5h0m37 0h0m-50.5 .5h0m3 0h0m46.5 0h0m11.5 0h0m27 0h0m-117 .5h0m11.5 0h0m21 .5h0m2 0h0m4.5 0h0m12 0h0m22.5 0h0m42 0h0m-90.5 .5h0m49.5 0h0m32 0h0m-83.5 .5h0m20.5 0h0m68 0h0m-89.5 .5h0m87 0h0m-57 .5h0m24 0h0m5.5 0h0m30.5 0h0m-6 .5h0m-59.5 .5h0m59 .5h0m-43 .5h0m21 0h0m-73 .5h0m70 0h0m9 0h0m-93 .5h0m3 0h0m102.5 0h0m17.5 0h0m3 0h0m-95.5 .5h0m44 0h0m-70 .5h0m15 0h0m58.5 0h0m8 .5h0m13.5 0h0m-71.5 .5h0m2.5 0h0m70 0h0m-58 .5h0m72.5 0h0m5 0h0m-3.5 .5h0m4 0h0m-105 .5h0m2.5 0h0m87.5 0h0m11.5 0h0m-87.5 .5h0m51.5 0h0m37.5 0h0m-95.5 .5h0m9 0h0m9.5 0h0m18 0h0m36.5 0h0m-23.5 .5h0m30 0h0m-86 .5h0m18 0h0m40 0h0m19.5 0h0m-88.5 .5h0m96.5 0h0m-33.5 .5h0m2.5 0h0m5.5 0h0m-68 .5h0m19 0h0m68.5 0h0m0 0h0m-80.5 1h0m14.5 0h0m38.5 0h0m37.5 0h0m-82.5 .5h0m10.5 0h0m74 0h0m-105 .5h0m123 0h0m-100 .5h0m15 0h0m1 0h0m47.5 0h0m-20 .5h0m10 0h0m-76 .5h0m52 0h0m7 0h0m16.5 0h0m9.5 0h0m19 .5h0m-98 .5h0m18.5 0h0m7 0h0m7.5 0h0m50.5 .5h0m-16 .5h0m32.5 0h0m10 0h0m-111 .5h0m35 0h0m20.5 0h0m-46 .5h0m16.5 0h0m-6 .5h0m32.5 0h0m5.5 0h0m-34.5 .5h0m0 0h0m39.5 0h0m-66 .5h0m52.5 0h0m14 0h0m17 0h0m4 0h0m-92.5 .5h0m28.5 0h0m17 0h0m14.5 0h0m19 0h0m16.5 0h0m11 0h0m.5 0h0m1 0h0m10.5 0h0m4.5 0h0m-86 .5h0m8 0h0m25 0h0m31 0h0m-75 .5h0m5.5 0h0m18.5 0h0m19.5 0h0m8 0h0m-48 .5h0m27 0h0m8.5 0h0m38.5 0h0m-74 .5h0m26.5 0h0m30 0h0m19 0h0m-49 .5h0m52 0h0m12.5 0h0m-82 .5h0m46 0h0m-43.5 .5h0m9.5 0h0m3.5 0h0m18.5 0h0m6 .5h0m4.5 0h0m-35 .5h0m37.5 0h0m-66 .5h0m63 0h0m2.5 .5h0m-28.5 .5h0m24 0h0m-.5 .5h0m17 0h0m-39 1h0m13 0h0m5.5 0h0m-47.5 .5h0m3 0h0m-27.5 .5h0m24 0h0m23.5 0h0m-25.5 .5h0m75 .5h0m3.5 0h0m-103 .5h0m3 0h0m55.5 0h0m1.5 0h0m16 0h0m37.5 0h0m9.5 0h0m-66.5 .5h0m24 0h0m21.5 0h0m-91 .5h0m106 0h0m-64 .5h0m47 0h0m-29 .5h0m22.5 0h0m20 0h0m-117 .5h0m60.5 0h0m4 0h0m58.5 0h0m-119.5 .5h0m37 0h0m14 0h0m72 0h0m-62.5 .5h0m30 0h0m23 0h0m-50 .5h0m25 0h0m2 0h0m-88 .5h0m61 0h0m7.5 0h0m6 0h0m26 0h0m-84 .5h0m66 0h0m13 0h0m-85 .5h0m6 0h0m-6.5 .5h0m33 0h0m32 0h0m8 0h0m29.5 0h0m-95.5 .5h0m60.5 0h0m.5 0h0m13.5 0h0m-59 .5h0m1.5 0h0m45.5 0h0m5.5 0h0m23.5 0h0m-59.5 .5h0m10.5 0h0m50.5 0h0m-85 .5h0m44 0h0m1 0h0m-5.5 .5h0m-17 .5h0m5.5 0h0m1 0h0m42 0h0m1.5 0h0m-49 .5h0m-18.5 .5h0m56.5 0h0m2 0h0m6 0h0m4.5 .5h0m-11.5 .5h0m-14 .5h0m22 0h0m8 0h0m-73.5 .5h0m30 0h0m-64 .5h0m18.5 0h0m80.5 0h0m19.5 0h0m4.5 0h0m-20.5 .5h0m-67.5 .5h0m34 0h0m27.5 0h0m-96.5 .5h0m50 0h0m14.5 0h0m16.5 0h0m26.5 0h0m15.5 0h0m-122 .5h0m51.5 0h0m71.5 0h0m-114 .5h0m6.5 0h0m46 0h0m21 0h0m7.5 0h0m-79 .5h0m10.5 0h0m58 0h0m4.5 0h0m-73 .5h0m40 0h0m19.5 0h0m15.5 0h0m-5 .5h0m7.5 0h0m-57 .5h0m63 .5h0m6 0h0m12 0h0m-106.5 .5h0m10.5 0h0m65.5 0h0m12.5 0h0m-97.5 .5h0m39.5 0h0m64.5 0h0m19 0h0m-74.5 .5h0m8 0h0m23 0h0m-68.5 .5h0m22.5 .5h0m9 0h0m13 0h0m12 0h0m1 0h0m14.5 0h0m16.5 0h0m-81 .5h0m19.5 0h0m38 0h0m8.5 0h0m-79.5 .5h0m21.5 0h0m68 0h0m18.5 0h0m4 0h0m3.5 0h0m-61.5 .5h0m33 0h0m25.5 0h0m-94.5 .5h0m13.5 0h0m8.5 0h0m-33 .5h0m100 0h0m-88.5 .5h0m22.5 0h0m60 0h0"/><path id="dt8" d="M27 -2h0m56 0h0m6.5 0h0m-40.5 .5h0m51.5 0h0m-90.5 .5h0m10 0h0m21 0h0m4 0h0m35.5 0h0m29.5 0h0m-109 .5h0m23 0h0m94 0h0m-96 .5h0m25 0h0m47 0h0m-57 .5h0m29.5 0h0m14.5 0h0m22 0h0m-104 .5h0m24.5 0h0m92.5 0h0m-94.5 .5h0m-22.5 .5h0m29 0h0m1 0h0m1.5 0h0m24.5 0h0m32.5 0h0m28.5 0h0m-112.5 .5h0m39 0h0m3 0h0m5.5 0h0m45.5 0h0m-44.5 .5h0m11 0h0m30 0h0m-87.5 .5h0m76 0h0m-60 .5h0m13.5 0h0m33 0h0m2 0h0m18.5 0h0m16 0h0m5.5 0h0m1 0h0m-82 .5h0m25 0h0m4 0h0m18.5 0h0m20.5 0h0m-69.5 .5h0m6 0h0m33.5 0h0m23 0h0m-54 .5h0m17.5 0h0m26.5 0h0m-49 .5h0m28.5 0h0m15.5 0h0m20.5 0h0m-45 .5h0m62 0h0m-105 .5h0m34 0h0m.5 0h0m55.5 0h0m-80.5 .5h0m14.5 0h0m6 0h0m18.5 0h0m1 0h0m2.5 0h0m16.5 0h0m37.5 0h0m-98 .5h0m24 0h0m1 0h0m8.5 0h0m29.5 0h0m10.5 0h0m7 0h0m18.5 0h0m-61 .5h0m11.5 0h0m5 0h0m-69 .5h0m31.5 0h0m11 0h0m16.5 0h0m8 0h0m15 0h0m35 0h0m-98 .5h0m2.5 0h0m2 0h0m20 0h0m15 0h0m2 0h0m9 0h0m3.5 0h0m10.5 0h0m25 0h0m-99.5 .5h0m16.5 0h0m41.5 0h0m37.5 0h0m-95.5 .5h0m10.5 0h0m60 0h0m-79 .5h0m2.5 0h0m43 0h0m6.5 0h0m28 0h0m37 0h0m-99.5 .5h0m8.5 0h0m4 0h0m14 0h0m55.5 0h0m-40.5 .5h0m2.5 0h0m-16 .5h0m11 0h0m10 0h0m41 0h0m-78.5 .5h0m18.5 0h0m25 0h0m11 0h0m17 0h0m1.5 0h0m-63 .5h0m0 0h0m65.5 0h0m8.5 0h0m-107.5 .5h0m2 0h0m35 0h0m46.5 0h0m2.5 0h0m11.5 0h0m6.5 0h0m-101 .5h0m5 0h0m17 0h0m73 0h0m3 0h0m5.5 0h0m-71 .5h0m1 0h0m8 0h0m26 0h0m-62 .5h0m32.5 0h0m39.5 0h0m-7.5 .5h0m18.5 0h0m5.5 0h0m-17.5 .5h0m-80.5 .5h0m3.5 0h0m42 0h0m-44.5 .5h0m15.5 0h0m9 0h0m20.5 0h0m4.5 0h0m54 0h0m-89 .5h0m39 0h0m11.5 0h0m15 0h0m1.5 0h0m-39.5 .5h0m19.5 0h0m6 0h0m34.5 0h0m-102.5 .5h0m4 0h0m49 0h0m18 0h0m25.5 0h0m5.5 0h0m4 0h0m-84.5 .5h0m22 0h0m45.5 0h0m-21.5 .5h0m-40 .5h0m63.5 0h0m-83.5 .5h0m7 0h0m81.5 0h0m.5 0h0m4 0h0m-14 .5h0m16.5 0h0m-92.5 .5h0m.5 0h0m2.5 0h0m92.5 0h0m-104.5 1h0m6.5 0h0m5.5 0h0m47 .5h0m42 0h0m-91 .5h0m11.5 0h0m-4 .5h0m15 0h0m6.5 0h0m19.5 0h0m11.5 0h0m5 0h0m0 0h0m18 0h0m-28.5 .5h0m2 0h0m-35 .5h0m21 0h0m11 0h0m14 0h0m8 0h0m-90.5 .5h0m50.5 0h0m7 0h0m25 .5h0m-83 .5h0m8 0h0m26 0h0m6 0h0m11.5 0h0m25 0h0m2 0h0m22.5 0h0m-98 .5h0m38 0h0m12 0h0m9 0h0m18 0h0m22 0h0m7 0h0m-106.5 .5h0m75 0h0m-45 .5h0m31.5 0h0m23.5 0h0m4.5 0h0m-91 .5h0m29 0h0m4.5 0h0m0 0h0m49.5 0h0m-67 .5h0m5 0h0m3.5 0h0m12 0h0m31 0h0m9.5 0h0m1 0h0m-83.5 .5h0m5.5 0h0m69.5 0h0m18.5 0h0m10 0h0m13.5 0h0m-111 .5h0m33.5 0h0m8.5 0h0m0 0h0m-43 .5h0m7.5 0h0m25 0h0m31.5 0h0m12 0h0m25 0h0m1 0h0m6.5 0h0m-92 .5h0m9 0h0m14.5 0h0m8 0h0m8 0h0m6.5 0h0m24 .5h0m11.5 0h0m-92 .5h0m31 0h0m32 0h0m32 0h0m9 0h0m-104 .5h0m11 0h0m23 0h0m-16.5 .5h0m31.5 0h0m5.5 0h0m29 0h0m-81.5 .5h0m14.5 0h0m1 0h0m33.5 0h0m4.5 0h0m13 0h0m14.5 0h0m20 0h0m-94 .5h0m32 0h0m28.5 0h0m-49.5 .5h0m5 0h0m14 0h0m11 0h0m1.5 .5h0m17.5 0h0m29 0h0m-96.5 .5h0m9 0h0m31.5 0h0m-41.5 .5h0m63 0h0m1.5 0h0m23.5 0h0m-59 .5h0m71 0h0m4.5 0h0m-94 .5h0m1 0h0m6.5 0h0m7.5 0h0m4.5 0h0m50 0h0m-19 .5h0m-32.5 .5h0m36 0h0m4.5 0h0m22 0h0m-98 .5h0m-1.5 .5h0m27 0h0m3.5 0h0m21 0h0m65.5 0h0m-111.5 .5h0m23 0h0m33.5 0h0m1.5 0h0m-53.5 .5h0m15 0h0m-25.5 .5h0m21.5 0h0m32.5 0h0m17 0h0m7.5 0h0m18 0h0m2.5 0h0m1.5 0h0m16.5 0h0m-86.5 .5h0m24 .5h0m13.5 0h0m8.5 0h0m0 0h0m-8 .5h0m21.5 0h0m3 0h0m6 0h0m-65.5 .5h0m1 0h0m9 0h0m33 0h0m6.5 0h0m-62 .5h0m79.5 0h0m-95.5 .5h0m24.5 0h0m12.5 0h0m8.5 0h0m14.5 0h0m46.5 0h0m-102 .5h0m52.5 0h0m30 0h0m0 0h0m16 0h0m-95.5 .5h0m26.5 0h0m30.5 .5h0m11.5 0h0m8.5 0h0m-79 .5h0m29.5 0h0m13.5 0h0m17 0h0m-42 .5h0m24.5 0h0m23.5 0h0m11 0h0m-89 .5h0m25.5 0h0m4.5 0h0m87 0h0m-111.5 .5h0m.5 0h0m19.5 0h0m29.5 0h0m44.5 0h0m-71.5 .5h0m14 0h0m17 0h0m55.5 0h0m-112.5 .5h0m.5 0h0m68 0h0m21 0h0m27.5 0h0m.5 0h0m-120.5 .5h0m54.5 0h0m5.5 0h0m57 0h0m-47 .5h0m-61 .5h0m24 0h0m15.5 0h0m23.5 0h0m9.5 0h0m-81 .5h0m37.5 0h0m33.5 0h0m36.5 0h0m4.5 0h0m1.5 0h0m3.5 0h0m-112.5 .5h0m13.5 0h0m53.5 0h0m27.5 0h0m-65 .5h0m22.5 0h0m3.5 0h0m17.5 0h0m-71.5 .5h0m88 0h0m-53 .5h0m14.5 0h0m39.5 0h0m1 0h0m4 0h0m-98 .5h0m7 0h0m.5 0h0m19 0h0m35 0h0m35 0h0m20.5 0h0m-102.5 .5h0m19.5 0h0m54 0h0m-64.5 .5h0m27 0h0m30.5 0h0m17 0h0m-68 .5h0m-3.5 .5h0m44 0h0m30 0h0m-83.5 .5h0m50.5 0h0m15.5 0h0m21 0h0m3 0h0m-16 1h0m6.5 0h0m-57 1h0m14 0h0m8.5 0h0m5 0h0m9.5 0h0m3.5 0h0m-57 .5h0m44.5 0h0m29.5 0h0m-100.5 .5h0m13 0h0m34.5 0h0m6 0h0m3.5 0h0m35 0h0m7.5 0h0m17.5 0h0m-105 .5h0m49 0h0m9.5 0h0m36 0h0m-32 .5h0m34.5 0h0m-84 .5h0m59 0h0m30.5 0h0m-108.5 .5h0m4.5 0h0m5.5 0h0m6 0h0m79 0h0m-95 .5h0m63.5 0h0m8 0h0m-57.5 .5h0m39 0h0m28 0h0m11 0h0m.5 0h0m-90.5 .5h0m7.5 0h0m8.5 0h0m19 0h0m1.5 0h0m25.5 0h0m2.5 0h0m25.5 0h0m-95.5 .5h0m66.5 0h0m0 0h0m29.5 0h0m14 0h0m7 0h0m-113.5 .5h0m27.5 0h0m14 0h0m45.5 0h0m19 0h0m-105 .5h0m12.5 0h0m69.5 0h0m24.5 0h0m-98 .5h0m37.5 0h0m23 0h0m4 0h0m1.5 0h0m31.5 0h0m1 0h0m-84.5 .5h0m3 0h0m25 0h0m52 0h0m-91 .5h0m29.5 0h0m4 0h0m-37 .5h0m62 0h0m-69.5 .5h0m35 0h0m64.5 .5h0m2 0h0m-91.5 .5h0m3 0h0m19.5 0h0m6.5 0h0m36.5 0h0m-37.5 .5h0m11.5 0h0m44 0h0m12.5 0h0m-81.5 .5h0m5 0h0m.5 0h0m-4 1h0m10.5 0h0m29 0h0m-20.5 .5h0m54 0h0m-71 .5h0m13 0h0m16 0h0m25 0h0m0 0h0m-29 .5h0m37 0h0m-64 .5h0m69 0h0m0 0h0m-97 .5h0m32 0h0m20.5 0h0m5 0h0m24.5 0h0m-80.5 .5h0m9 0h0m1 0h0m67 0h0m8.5 0h0m15.5 0h0m-58 .5h0m11.5 0h0m2.5 0h0m13 0h0m23 0h0m.5 0h0m-92.5 .5h0m5.5 0h0m18.5 0h0m26.5 0h0m38.5 0h0m-79.5 .5h0m6.5 0h0m7 0h0m13 0h0m14 0h0m28.5 0h0m17.5 0h0m-77.5 .5h0m4.5 0h0m2.5 0h0m1 0h0m40 0h0m5.5 0h0m1.5 0h0m5 0h0m-23.5 .5h0m8.5 0h0m-11.5 .5h0m27.5 0h0m15 0h0m-.5 .5h0m-44 .5h0m6.5 0h0m29.5 0h0m-51 .5h0m6.5 0h0m-19.5 .5h0m10 0h0m44.5 0h0m-83 .5h0m13 0h0m16.5 0h0m60 0h0m19.5 0h0m8 0h0m-103 .5h0m12.5 0h0m68 0h0m-91 .5h0m38.5 0h0m15 0h0m4 0h0m44.5 0h0m2.5 0h0m-48.5 .5h0m23 0h0m21.5 0h0m-103.5 .5h0m117 0h0m-110.5 .5h0m33 0h0m32 0h0m8 0h0m11.5 0h0m-40 .5h0m12.5 0h0m3.5 0h0m23.5 0h0m23.5 0h0m-111.5 .5h0m21.5 0h0m.5 0h0m28 0h0m43 0h0m-61 .5h0m18 0h0m6.5 0h0m22 0h0m-77.5 .5h0m32.5 0h0m31.5 0h0m22.5 0h0m-86.5 .5h0m5.5 0h0m15.5 0h0m23 0h0m-40.5 .5h0m13 0h0m.5 .5h0m61.5 0h0m2 0h0m18 0h0m2.5 0h0m1 0h0m-106.5 .5h0m84.5 0h0m14.5 0h0m.5 0h0m17.5 0h0m-99 .5h0m4.5 0h0m-5 .5h0m39 0h0m19.5 0h0m23.5 0h0m-67.5 .5h0m5 0h0m2 0h0m-34.5 .5h0m43.5 0h0m17 0h0m18.5 0h0m16 0h0m-95.5 .5h0m5 0h0m20 0h0m42.5 0h0m3.5 0h0m15.5 0h0m-51 .5h0m20 0h0m14 0h0m-58 .5h0m7 0h0m37 0h0m3 0h0m9.5 0h0m24 0h0m-24 .5h0m1.5 0h0m-47 .5h0m18.5 0h0m56 0h0m-84 .5h0m32.5 0h0m34.5 0h0m5 0h0m-78 .5h0m10.5 0h0m4.5 0h0m9 0h0m1.5 0h0m45 .5h0m33 .5h0m-106 .5h0m16 0h0m5.5 0h0m61.5 0h0m1 0h0m9.5 0h0m-84 .5h0m8.5 0h0m64.5 0h0m16 0h0m-104 .5h0m13 0h0m7.5 0h0m78.5 0h0m18 0h0m-119.5 .5h0m29.5 0h0m12 0h0m75.5 0h0m-97 .5h0m13.5 0h0m68 0h0m-102.5 .5h0m13 0h0m14.5 0h0m50 0h0m9 0h0m4 0h0m26.5 0h0m-85.5 .5h0m0 0h0m19.5 0h0m10 0h0m21.5 .5h0m-14.5 .5h0m7 0h0m14 0h0m26.5 0h0m-97.5 .5h0m26.5 0h0m9 0h0m5 0h0m36 0h0m10.5 0h0m-95 .5h0m84 0h0m3.5 0h0m-80 1h0m2 0h0m35 0h0m15.5 0h0m6 0h0m18.5 0h0m-71 .5h0m.5 0h0m6 0h0m-28.5 .5h0m3.5 0h0m16 0h0m2.5 0h0m25.5 0h0m59 0h0m5.5 0h0m1.5 0h0m3.5 0h0m-110 .5h0m20 0h0m36 0h0m40.5 0h0m-100.5 .5h0m32.5 0h0m2.5 0h0m24.5 0h0m6.5 0h0m6.5 0h0m9.5 0h0m5.5 0h0m16.5 0h0m-37 .5h0m.5 0h0m1 0h0m6 0h0m-64.5 .5h0m16.5 0h0m58 0h0m-32 .5h0m-35.5 .5h0m90 0h0m-60.5 .5h0m40 0h0m-83 .5h0m14.5 0h0m2 0h0m35.5 0h0m-57 .5h0m36.5 0h0m26 0h0m13.5 0h0m37 0h0m4 0h0m-105.5 .5h0m17 0h0m10.5 0h0m37 0h0m-63 .5h0m5.5 0h0m2 0h0m45 0h0m18.5 0h0m24.5 0h0m-88.5 .5h0m50.5 0h0m4.5 0h0m25 0h0m-91.5 .5h0m59 0h0m2 0h0m-69 .5h0m2 0h0m62.5 0h0m.5 0h0m18 0h0m19 0h0m15 0h0m-92.5 .5h0m39.5 0h0m44.5 0h0m-101.5 .5h0m2 0h0m86.5 0h0m-38 .5h0m24 0h0m-59 .5h0m45 0h0m15 0h0m14 0h0m10 0h0m-70.5 .5h0m26.5 0h0m43 .5h0m-76.5 .5h0m59 0h0m-16 .5h0m23 0h0m9.5 0h0m-102.5 .5h0m27 0h0m25.5 0h0m12.5 0h0m29 0h0m2 0h0m10.5 0h0m-82 .5h0m22.5 0h0m17.5 0h0m31 0h0m14.5 0h0m-91.5 .5h0m8 0h0m5 0h0m1.5 0h0m41.5 0h0m27 0h0m8 0h0m-101.5 .5h0m68 0h0m2.5 0h0m18 0h0m-95.5 .5h0m58 0h0m-16 .5h0m-24.5 .5h0m7 0h0m15 0h0m27.5 0h0m30 0h0m-67.5 .5h0m77.5 0h0m-74 .5h0m28.5 0h0m3.5 0h0m40.5 0h0m-75.5 .5h0m-8 .5h0m8.5 0h0m14 0h0m19.5 0h0m6.5 .5h0m2 0h0m-76.5 .5h0m5 0h0m7.5 0h0m36 0h0m6 0h0m15 0h0m30.5 0h0m17 0h0m-47 .5h0m28 0h0m-91.5 .5h0m10 0h0m35.5 0h0m-45.5 .5h0m103 0h0m-88 .5h0m27.5 0h0m7.5 0h0m11 0h0m2.5 0h0m-27 .5h0m10 .5h0m14 0h0m-31 .5h0m57 .5h0m7.5 .5h0m-103.5 .5h0m24.5 0h0m23.5 0h0m26.5 0h0m12.5 0h0m30 0h0m-73.5 .5h0m37.5 0h0m4 0h0m5.5 0h0m16 0h0m-64.5 .5h0m3.5 0h0m2.5 0h0m26.5 0h0m1.5 0h0m-63 .5h0m9.5 0h0m46.5 0h0m5.5 0h0m-62 .5h0m4.5 0h0m41 0h0m49.5 0h0m5 0h0m-91 .5h0m71 0h0m18 0h0m-109 .5h0m34 0h0m4.5 0h0m1 0h0m77.5 0h0m-113 .5h0m47 0h0m1.5 0h0m-13 .5h0m2.5 0h0m21 0h0m35 0h0m-85.5 .5h0m29.5 0h0m2 0h0m22.5 0h0m21.5 0h0m-75 .5h0m67.5 0h0m24 0h0m-106 .5h0m117 0h0m-106.5 .5h0m29.5 0h0m4 0h0m12 0h0m45.5 0h0m2 0h0m-100.5 .5h0m2 0h0m32 0h0m12 0h0m8.5 0h0m62.5 0h0m-114 .5h0m98 0h0m-82 .5h0m16.5 .5h0m15.5 0h0m11.5 .5h0m44 0h0m-82 .5h0m32.5 0h0m6.5 0h0m47 0h0m1.5 0h0m-104.5 .5h0m23 0h0m29 0h0m-62 .5h0m49 0h0m66.5 0h0m1.5 0h0m-88.5 .5h0m56 0h0m6.5 0h0m-40.5 .5h0m51.5 0h0m-90.5 .5h0m10 0h0m21 0h0m4 0h0m35.5 0h0m29.5 0h0m-109 .5h0m23 0h0m94 0h0m-96 .5h0m25 0h0m47 0h0m-57 .5h0m29.5 0h0m14.5 0h0m22 0h0m-104 .5h0m24.5 0h0m92.5 0h0m-94.5 .5h0m-22.5 .5h0m29 0h0m1 0h0m1.5 0h0m24.5 0h0m32.5 0h0m28.5 0h0"/><path id="dt9" d="M9 -2h0m67 0h0m11.5 0h0m-73 .5h0m23 0h0m-9.5 .5h0m34.5 0h0m25.5 0h0m5 0h0m2 0h0m1.5 0h0m9 0h0m-83 .5h0m.5 0h0m64 0h0m37 0h0m-98 .5h0m15 0h0m19.5 0h0m37.5 0h0m18 0h0m-106.5 .5h0m7 0h0m8 0h0m11.5 0h0m4 0h0m3 0h0m4.5 0h0m30.5 0h0m12 0h0m-82 .5h0m12 0h0m29.5 0h0m34.5 0h0m34.5 0h0m-100 .5h0m33 0h0m12.5 0h0m4 0h0m4.5 0h0m-72.5 .5h0m13 0h0m10.5 0h0m31 0h0m8.5 0h0m43.5 0h0m7 0h0m15.5 0h0m-122 .5h0m7 0h0m6 0h0m1 0h0m1.5 0h0m28 0h0m28 0h0m38.5 0h0m9.5 0h0m-118 .5h0m1.5 0h0m0 0h0m20 0h0m38 0h0m3 0h0m-53.5 .5h0m6 0h0m27 0h0m49 0h0m-90.5 .5h0m1 0h0m8.5 0h0m7 0h0m14 0h0m48.5 0h0m0 0h0m35 0h0m-57.5 .5h0m53.5 0h0m2 0h0m2 0h0m-100 .5h0m10.5 0h0m29 0h0m1 0h0m29 0h0m12.5 0h0m21 0h0m-97 .5h0m23.5 0h0m60.5 0h0m-113 .5h0m1 0h0m51 0h0m17.5 0h0m16 0h0m43.5 0h0m1 0h0m-111 .5h0m33.5 0h0m1 0h0m3 0h0m-47.5 .5h0m36.5 0h0m18.5 0h0m24.5 0h0m26 0h0m-107 .5h0m60 0h0m14.5 0h0m30 0h0m-80.5 .5h0m40.5 0h0m38 0h0m.5 0h0m-93 .5h0m11 0h0m14 0h0m15.5 0h0m33.5 0h0m1 0h0m22 0h0m-65.5 .5h0m40 0h0m-89.5 .5h0m78.5 0h0m4.5 0h0m13.5 0h0m15 0h0m4.5 0h0m10 0h0m3 0h0m-128 .5h0m6.5 0h0m9.5 0h0m23.5 0h0m84.5 0h0m5 0h0m-105 .5h0m16.5 0h0m14.5 0h0m27.5 0h0m17 0h0m-81.5 .5h0m19.5 0h0m22.5 0h0m30 0h0m7 0h0m2.5 0h0m8.5 0h0m-91 .5h0m16.5 0h0m0 0h0m3.5 0h0m76.5 0h0m9.5 0h0m-119.5 .5h0m0 0h0m38 0h0m6 0h0m2.5 0h0m3 0h0m6 0h0m4.5 0h0m62 0h0m-109.5 .5h0m1 0h0m38.5 0h0m24.5 0h0m-72.5 .5h0m19 0h0m17 0h0m10.5 0h0m3.5 0h0m22 0h0m7.5 0h0m13 0h0m4 0h0m10 0h0m8.5 0h0m3 0h0m-126.5 .5h0m18 0h0m0 0h0m26 0h0m55 0h0m0 0h0m6 0h0m4 0h0m9 0h0m3.5 0h0m7.5 0h0m-121.5 .5h0m68.5 0h0m25 0h0m-61.5 .5h0m18.5 0h0m49 0h0m3.5 0h0m15 0h0m-123.5 .5h0m95 0h0m0 0h0m11 0h0m14.5 0h0m8.5 0h0m-125 .5h0m7 0h0m2.5 0h0m3 0h0m40 0h0m23.5 0h0m14 0h0m20.5 0h0m-105 .5h0m0 0h0m81.5 0h0m26 0h0m-113 .5h0m4.5 0h0m4.5 0h0m10.5 0h0m63 0h0m21 0h0m-90 .5h0m55 0h0m12.5 0h0m6.5 0h0m18.5 0h0m-109 .5h0m.5 0h0m42 0h0m0 0h0m7.5 0h0m24 0h0m11.5 0h0m17.5 0h0m19 0h0m.5 0h0m-73.5 .5h0m-45 .5h0m15 0h0m35 0h0m15.5 0h0m14 0h0m31.5 0h0m-115 .5h0m46.5 0h0m8.5 0h0m18.5 0h0m24 0h0m-44 .5h0m-50.5 .5h0m58 0h0m42 0h0m7 0h0m9 0h0m-117.5 .5h0m5 0h0m12 0h0m61 0h0m6 0h0m16.5 0h0m18 0h0m3 0h0m-104.5 .5h0m8 0h0m48 0h0m37 0h0m2 0h0m-80.5 .5h0m7.5 0h0m33.5 0h0m19 0h0m23 0h0m-117 .5h0m42.5 0h0m18.5 0h0m2 0h0m0 0h0m14 0h0m9 0h0m2 0h0m41 0h0m-131.5 .5h0m85.5 0h0m19.5 0h0m16 0h0m8 0h0m-128.5 .5h0m56 0h0m15.5 0h0m0 0h0m57.5 0h0m-72.5 .5h0m3 0h0m4 0h0m-58 .5h0m2.5 0h0m32 0h0m24.5 0h0m5.5 0h0m9.5 0h0m15 0h0m1 0h0m5.5 0h0m7.5 0h0m-82.5 .5h0m9 0h0m47 0h0m13.5 0h0m23 0h0m-106 .5h0m5 0h0m3.5 0h0m4 0h0m78 0h0m3.5 0h0m15.5 0h0m-115 .5h0m7 0h0m24.5 0h0m1.5 0h0m28.5 0h0m12 0h0m12.5 0h0m6 .5h0m6 0h0m-10.5 .5h0m10.5 0h0m.5 0h0m-62 .5h0m13 0h0m16 0h0m43 0h0m-97.5 .5h0m21 0h0m36.5 0h0m20 0h0m-93 .5h0m94 0h0m35 0h0m-117 .5h0m8.5 0h0m2.5 0h0m9.5 0h0m4.5 0h0m3.5 0h0m29 0h0m1 0h0m2 0h0m.5 0h0m3.5 0h0m2.5 0h0m42.5 0h0m-52.5 .5h0m4.5 0h0m4.5 0h0m8.5 0h0m32 0h0m3.5 0h0m-92 .5h0m19.5 0h0m22 0h0m22.5 0h0m-83 .5h0m6.5 0h0m6.5 0h0m28 0h0m20.5 0h0m-31 .5h0m35 0h0m37.5 0h0m-101.5 .5h0m33 0h0m-41.5 .5h0m1.5 0h0m27 0h0m5 0h0m21 0h0m20 0h0m7 0h0m25 0h0m-92.5 .5h0m13.5 0h0m2.5 0h0m-32 .5h0m.5 0h0m3 0h0m11.5 0h0m34.5 0h0m31 0h0m-77.5 .5h0m17 0h0m10.5 0h0m4 0h0m10.5 0h0m11 0h0m39 0h0m27.5 0h0m-79 .5h0m4 0h0m29.5 0h0m5.5 0h0m33 0h0m-92 .5h0m58.5 0h0m3 0h0m30.5 0h0m1 0h0m6 0h0m-98 .5h0m12 0h0m1.5 0h0m22.5 0h0m47 0h0m-112.5 .5h0m36 0h0m93 0h0m-119 .5h0m28 0h0m.5 0h0m13.5 0h0m6.5 0h0m40 0h0m23.5 0h0m-84 .5h0m24.5 0h0m17.5 0h0m-70.5 .5h0m13 0h0m11.5 0h0m13.5 0h0m5.5 0h0m37 0h0m18.5 0h0m6.5 0h0m3 0h0m-114 .5h0m18 0h0m24 0h0m4.5 0h0m13.5 0h0m11.5 0h0m6.5 0h0m30.5 0h0m7 0h0m4 0h0m-101.5 .5h0m8 0h0m46.5 0h0m10.5 0h0m18.5 0h0m18.5 0h0m-91.5 .5h0m1.5 0h0m16.5 0h0m21.5 0h0m0 0h0m1.5 0h0m20.5 0h0m-81.5 .5h0m36 .5h0m-49.5 .5h0m23.5 0h0m10 0h0m4 0h0m16 0h0m4.5 0h0m10.5 0h0m40.5 0h0m2 0h0m8.5 0h0m9.5 0h0m-103.5 .5h0m35.5 0h0m9.5 0h0m1.5 0h0m12 0h0m24 0h0m-107.5 .5h0m10 0h0m69 0h0m24 0h0m26 0h0m-126 .5h0m27 0h0m22 0h0m1 0h0m0 0h0m38.5 0h0m9.5 0h0m31 0h0m-107 .5h0m1.5 0h0m1.5 0h0m2 0h0m30 0h0m55 0h0m-110 .5h0m5 0h0m92 0h0m0 0h0m-80 .5h0m48.5 0h0m1.5 0h0m34.5 0h0m-104 .5h0m6.5 0h0m9.5 0h0m2 0h0m91.5 0h0m19.5 0h0m-105.5 .5h0m11.5 0h0m34.5 0h0m15.5 0h0m12.5 0h0m-63 .5h0m18.5 0h0m39.5 0h0m-85 .5h0m1.5 0h0m41.5 0h0m-47 .5h0m4.5 0h0m3.5 0h0m5 0h0m71.5 0h0m.5 0h0m1 0h0m19.5 0h0m1 0h0m-100.5 .5h0m4.5 0h0m28 0h0m1 0h0m12.5 0h0m5 0h0m-58 .5h0m9.5 0h0m2.5 0h0m57 0h0m5 0h0m30 0h0m15 0h0m-86.5 .5h0m6 0h0m78.5 0h0m-115 .5h0m97.5 0h0m15 0h0m-50 .5h0m6 0h0m35.5 0h0m.5 0h0m15 0h0m-125 .5h0m10.5 0h0m5 0h0m38 0h0m10 0h0m3.5 0h0m11 0h0m4 0h0m.5 0h0m9 0h0m37.5 0h0m-112.5 .5h0m16.5 0h0m24 0h0m11.5 0h0m5 0h0m-42.5 .5h0m7 0h0m4.5 0h0m29.5 0h0m22.5 0h0m11 0h0m1 0h0m18.5 0h0m-94 .5h0m9 0h0m29 0h0m3 0h0m11 0h0m2 0h0m16.5 0h0m4 0h0m1.5 0h0m2.5 0h0m4 0h0m-69 .5h0m21.5 0h0m59 0h0m-85 .5h0m4 0h0m4.5 0h0m22.5 0h0m.5 0h0m45 0h0m2 0h0m-96 .5h0m4.5 0h0m7.5 0h0m21 0h0m5 0h0m12.5 0h0m17.5 0h0m13 0h0m3 0h0m1.5 0h0m4 0h0m4 0h0m2.5 0h0m-83 .5h0m47.5 0h0m7.5 0h0m11.5 0h0m-98 .5h0m45.5 0h0m6 0h0m1 0h0m56.5 0h0m1 0h0m-85.5 .5h0m74 0h0m6.5 0h0m2.5 0h0m14.5 0h0m-97.5 .5h0m7 0h0m19.5 0h0m64 0h0m6 0h0m-86.5 .5h0m2.5 0h0m4 0h0m1 0h0m26.5 0h0m39.5 0h0m-104 .5h0m34.5 0h0m11 0h0m12 0h0m8 0h0m5 0h0m-21 .5h0m56.5 0h0m-109 .5h0m56.5 0h0m5 0h0m27 0h0m31 0h0m-117 .5h0m24 0h0m-15 .5h0m4.5 0h0m9 0h0m66 0h0m24 0h0m5 0h0m-81 .5h0m1.5 0h0m29.5 0h0m43 0h0m6 0h0m-83 .5h0m0 0h0m45.5 0h0m36 0h0m-105.5 .5h0m24 0h0m52 0h0m-58 .5h0m32.5 0h0m41.5 0h0m15.5 0h0m-103.5 .5h0m5.5 0h0m68.5 0h0m.5 0h0m11 0h0m1.5 0h0m11.5 0h0m-72.5 .5h0m1.5 0h0m54.5 0h0m0 0h0m16 0h0m-101.5 1h0m3 0h0m21 0h0m54.5 0h0m28 0h0m-114.5 .5h0m19 0h0m65 0h0m0 0h0m4 0h0m-99.5 .5h0m2 0h0m12.5 0h0m4.5 0h0m85.5 0h0m12.5 0h0m12 0h0m2 0h0m-36 .5h0m19 0h0m-106.5 .5h0m31 0h0m44 0h0m-66 .5h0m15.5 0h0m3 0h0m72.5 0h0m-58.5 .5h0m-15.5 .5h0m2.5 0h0m57.5 0h0m23 0h0m-104.5 .5h0m65 0h0m25.5 0h0m-102 .5h0m4 0h0m5 0h0m1 0h0m5.5 0h0m37.5 0h0m76 0h0m-104.5 1h0m43 0h0m-64.5 .5h0m8.5 0h0m39 0h0m26.5 0h0m16 0h0m3 0h0m10 0h0m26 0h0m-100.5 .5h0m32 0h0m5 0h0m18 0h0m-85 .5h0m29.5 0h0m18 0h0m24.5 0h0m4 0h0m16.5 0h0m6 0h0m21.5 0h0m9 0h0m-68 .5h0m-15 .5h0m4 0h0m-39 .5h0m47.5 0h0m1 0h0m6 0h0m13 0h0m-74 .5h0m9.5 0h0m40 0h0m3 0h0m67.5 0h0m-111.5 .5h0m14.5 0h0m9 0h0m31 0h0m1.5 0h0m33.5 0h0m13.5 0h0m-83.5 .5h0m19.5 0h0m.5 0h0m16.5 0h0m3 0h0m-55.5 .5h0m99.5 0h0m3 0h0m-113.5 .5h0m19 0h0m56.5 0h0m33 0h0m-97.5 .5h0m58.5 0h0m17 0h0m.5 0h0m-55 .5h0m55 0h0m30 0h0m-124 .5h0m16.5 0h0m6.5 0h0m55.5 0h0m23.5 0h0m27 0h0m-68 .5h0m10.5 0h0m21 0h0m2 0h0m7 0h0m-91 .5h0m15.5 0h0m0 0h0m24 0h0m5.5 0h0m25.5 0h0m4 0h0m7.5 0h0m20.5 0h0m-101.5 .5h0m8 0h0m27 0h0m5 0h0m24.5 0h0m23.5 0h0m8.5 0h0m-92 .5h0m10.5 0h0m33.5 0h0m21 0h0m2.5 0h0m11.5 0h0m4.5 0h0m-44.5 .5h0m2.5 0h0m19.5 0h0m-52.5 .5h0m7.5 0h0m21 0h0m68 0h0m-118 .5h0m26 0h0m2 0h0m12 0h0m0 0h0m0 0h0m65.5 0h0m23.5 0h0m-118 .5h0m11.5 0h0m30.5 0h0m26 0h0m14.5 0h0m3 0h0m-72 .5h0m48.5 0h0m2.5 0h0m6.5 0h0m33 0h0m7 0h0m-120.5 .5h0m4 0h0m11.5 0h0m23 0h0m2 0h0m77.5 0h0m-95 .5h0m15 0h0m8 0h0m31.5 0h0m30 0h0m13.5 0h0m-98.5 .5h0m2.5 0h0m52 0h0m36.5 0h0m5.5 0h0m-121 .5h0m11 0h0m10 0h0m95.5 0h0m2 0h0m10.5 0h0m-58.5 .5h0m-43.5 .5h0m21 0h0m15.5 0h0m46 0h0m3.5 0h0m-14 .5h0m8.5 0h0m14.5 0h0m-110 .5h0m0 0h0m29 0h0m48.5 0h0m20.5 0h0m-100 .5h0m24.5 0h0m12.5 0h0m18 0h0m12 0h0m19 0h0m3.5 0h0m25 0h0m-105.5 .5h0m20 0h0m.5 0h0m22.5 0h0m1 0h0m30 0h0m12 0h0m13.5 0h0m1 0h0m-102 .5h0m3 0h0m74 0h0m12.5 0h0m-98.5 .5h0m3 0h0m45 0h0m52.5 0h0m-101.5 .5h0m4.5 0h0m18 0h0m4 0h0m73.5 0h0m7 0h0m6 0h0m4.5 0h0m-125 .5h0m0 0h0m72 0h0m37.5 0h0m3 0h0m6 0h0m1.5 0h0m9 0h0m0 0h0m-82 .5h0m37.5 0h0m2.5 0h0m37 0h0m-74 .5h0m1 0h0m21 0h0m28 0h0m2 0h0m22 0h0m-23 .5h0m10 0h0m5.5 0h0m-75.5 .5h0m48 0h0m9 0h0m-98 .5h0m.5 0h0m13.5 0h0m71.5 0h0m8.5 0h0m14 0h0m10.5 0h0m10.5 0h0m.5 0h0m-126.5 .5h0m57 0h0m50.5 0h0m-113 .5h0m25 0h0m8 0h0m16 0h0m60.5 0h0m19.5 0h0m-92.5 .5h0m5 0h0m22.5 0h0m17 0h0m3.5 0h0m-76.5 .5h0m1.5 0h0m.5 0h0m2.5 0h0m20.5 0h0m11 0h0m62 0h0m19 0h0m-117 .5h0m.5 0h0m67 0h0m34.5 0h0m-67 .5h0m60.5 0h0m-88 .5h0m19.5 0h0m38.5 0h0m3 0h0m4.5 0h0m9 0h0m11 0h0m-44 .5h0m35.5 0h0m7.5 0h0m-93 .5h0m19 0h0m20.5 0h0m17 0h0m22.5 0h0m14.5 0h0m6 0h0m-84 .5h0m5.5 0h0m18 0h0m5 0h0m44.5 0h0m-95 .5h0m7 0h0m2 0h0m1 0h0m67 0h0m36.5 0h0m15.5 0h0m-76.5 .5h0m20 0h0m13 0h0m9.5 0h0m12 0h0m12.5 0h0m-82.5 .5h0m12.5 0h0m22.5 0h0m14 0h0m-12 .5h0m25.5 0h0m2 0h0m8 0h0m4 0h0m-66 .5h0m2 0h0m37.5 0h0m34.5 0h0m-41.5 .5h0m10.5 0h0m-86 .5h0m16 0h0m13.5 0h0m57.5 0h0m1.5 0h0m16.5 0h0m5 0h0m-92.5 .5h0m20 0h0m69 0h0m-110.5 .5h0m43.5 0h0m65 0h0m10 0h0m10.5 0h0m-71 .5h0m29 0h0m2.5 0h0m32 0h0m-116.5 .5h0m11.5 0h0m3 0h0m13.5 0h0m1 0h0m26.5 0h0m51.5 0h0m-87.5 .5h0m.5 0h0m54 0h0m30 0h0m5 0h0m-95 .5h0m32 0h0m37 0h0m28.5 0h0m-118 .5h0m98 0h0m3 0h0m2 0h0m26 0h0m-117.5 .5h0m8 0h0m16 0h0m14 0h0m36.5 0h0m16 0h0m26.5 0h0m-127 .5h0m4 0h0m5.5 0h0m19 0h0m12.5 0h0m1 0h0m35.5 0h0m31 0h0m4.5 0h0m16 0h0m-102.5 .5h0m14 0h0m19.5 0h0m58 0h0m-105.5 .5h0m42.5 0h0m.5 0h0m15 0h0m5.5 0h0m16 0h0m34.5 0h0m-108.5 .5h0m5.5 0h0m72 0h0m-82 .5h0m7.5 0h0m78.5 0h0m16.5 0h0m-106.5 .5h0m55 0h0m-58 .5h0m3.5 0h0m14 0h0m102.5 0h0m-104.5 .5h0m17.5 0h0m21.5 0h0m13.5 0h0m2 0h0m7.5 0h0m-47.5 .5h0m10 0h0m3 0h0m32.5 0h0m0 0h0m6.5 0h0m3.5 .5h0m2 0h0m12 0h0m-92.5 .5h0m13.5 0h0m36 0h0m37 0h0m25.5 0h0m-43 .5h0m11 0h0m9 0h0m-98.5 .5h0m2 0h0m6.5 0h0m12.5 0h0m2 0h0m2.5 0h0m-13.5 .5h0m6.5 0h0m13 0h0m1.5 0h0m72 0h0m-86.5 .5h0m34 0h0m12.5 0h0m9.5 0h0m15.5 0h0m11.5 0h0m10 0h0m-95.5 .5h0m65 0h0m9 0h0m10.5 0h0m.5 0h0m.5 0h0m8 0h0m-102.5 .5h0m5 0h0m9 0h0m25.5 0h0m56.5 0h0m5.5 0h0m-92.5 .5h0m2.5 0h0m10.5 0h0m64 0h0m8.5 0h0m-86.5 .5h0m66.5 0h0m1 0h0m1 0h0m38 0h0m-116 .5h0m67 0h0m11.5 0h0m-73 .5h0m23 0h0m-9.5 .5h0m34.5 0h0m25.5 0h0m5 0h0m2 0h0m1.5 0h0m9 0h0m-83 .5h0m.5 0h0m64 0h0m37 0h0m-98 .5h0m15 0h0m19.5 0h0m37.5 0h0m18 0h0m-106.5 .5h0m7 0h0m8 0h0m11.5 0h0m4 0h0m3 0h0m4.5 0h0m30.5 0h0m12 0h0m-82 .5h0m12 0h0m29.5 0h0m34.5 0h0m34.5 0h0m-100 .5h0m33 0h0m12.5 0h0m4 0h0m4.5 0h0m-72.5 .5h0m13 0h0m10.5 0h0m31 0h0m8.5 0h0m43.5 0h0m7 0h0m15.5 0h0"/><path id="dt10" d="M4 -2h0m29 0h0m45 0h0m0 0h0m20.5 0h0m-96 .5h0m1.5 0h0m9.5 0h0m31.5 0h0m-46 .5h0m44 0h0m6.5 0h0m8 0h0m52.5 0h0m-95.5 .5h0m13 0h0m8.5 0h0m34 0h0m14.5 0h0m7.5 0h0m-79.5 .5h0m15.5 0h0m29.5 0h0m23 0h0m12 0h0m13.5 0h0m-97.5 .5h0m15 0h0m0 0h0m17.5 0h0m11.5 0h0m47.5 0h0m-69 .5h0m7 0h0m37 0h0m6 0h0m19 0h0m5 0h0m-96 .5h0m11 0h0m6.5 0h0m55.5 0h0m15 0h0m-96.5 .5h0m4.5 0h0m65 0h0m5.5 0h0m12 0h0m8.5 0h0m2.5 0h0m13 0h0m-113.5 .5h0m1.5 0h0m109.5 0h0m1.5 0h0m-112.5 .5h0m35 0h0m1 0h0m24 0h0m.5 0h0m19.5 0h0m22 0h0m8.5 0h0m.5 0h0m-90.5 .5h0m38 0h0m14 0h0m5.5 0h0m12.5 0h0m-89.5 .5h0m15 0h0m13.5 0h0m9.5 0h0m22.5 0h0m10.5 0h0m12.5 0h0m1.5 0h0m21.5 0h0m4.5 0h0m-52.5 .5h0m23.5 0h0m1 0h0m-79.5 .5h0m4 0h0m10.5 0h0m19 0h0m46.5 0h0m14 0h0m-62 .5h0m23 0h0m51 0h0m-107.5 .5h0m8.5 0h0m13.5 0h0m18 0h0m23 0h0m21 0h0m1.5 0h0m18 0h0m7.5 0h0m-99 .5h0m46.5 0h0m5.5 0h0m8 0h0m14.5 0h0m-52.5 .5h0m69.5 0h0m3 0h0m-109.5 .5h0m95 0h0m16 0h0m-102 .5h0m16 0h0m12 0h0m12 0h0m38.5 0h0m3.5 0h0m-79.5 .5h0m7.5 0h0m6 0h0m11 0h0m14.5 0h0m26 0h0m-72 .5h0m12.5 0h0m23.5 0h0m33.5 0h0m12 0h0m19.5 0h0m-75 .5h0m24 0h0m39 0h0m4 0h0m1.5 0h0m-91.5 .5h0m72.5 0h0m-80 .5h0m5.5 0h0m17 0h0m5 0h0m11.5 0h0m9 0h0m33 0h0m4.5 0h0m4.5 0h0m14.5 0h0m.5 0h0m6 0h0m-103.5 .5h0m6.5 0h0m24.5 0h0m16.5 0h0m9 0h0m3.5 0h0m4 0h0m4 0h0m0 0h0m25.5 0h0m-94 .5h0m16 0h0m70.5 0h0m-92 .5h0m2.5 0h0m1.5 0h0m20 0h0m16.5 0h0m6 0h0m33 0h0m14.5 0h0m3.5 0h0m13.5 0h0m2.5 0h0m-73 .5h0m4 0h0m39.5 0h0m1.5 0h0m12 0h0m6 0h0m-58.5 .5h0m35.5 0h0m9 0h0m8.5 0h0m11 0h0m-104 .5h0m1 0h0m19.5 0h0m36 0h0m17 0h0m-48.5 .5h0m7.5 0h0m21.5 0h0m12 0h0m24.5 0h0m-70.5 .5h0m9.5 0h0m31.5 0h0m8 0h0m7 0h0m18.5 0h0m2.5 0h0m1.5 0h0m-86 .5h0m1 0h0m4 0h0m19.5 0h0m9 0h0m10.5 0h0m3 0h0m0 0h0m8.5 0h0m17 0h0m5.5 0h0m-95.5 .5h0m17 0h0m52.5 0h0m6 0h0m32.5 0h0m3 0h0m-107 .5h0m13 0h0m24.5 0h0m51 0h0m14 0h0m-105.5 .5h0m34.5 0h0m30 0h0m15 0h0m3.5 0h0m28 0h0m-105.5 .5h0m8 0h0m38 0h0m12 0h0m11 0h0m-69.5 .5h0m4 0h0m2.5 0h0m7.5 0h0m32 0h0m.5 0h0m6.5 0h0m47.5 0h0m-66 .5h0m49 0h0m-90 .5h0m26.5 0h0m.5 0h0m28 0h0m8 0h0m1.5 0h0m3 0h0m7 0h0m17 0h0m10 0h0m8 0h0m1.5 0h0m-95.5 .5h0m3 0h0m4.5 0h0m33.5 0h0m3.5 0h0m29.5 0h0m-50 .5h0m2 0h0m26 0h0m12.5 0h0m8 0h0m16.5 0h0m-88 .5h0m3 0h0m3.5 0h0m43 0h0m4.5 0h0m23 0h0m-73 .5h0m15.5 0h0m34.5 0h0m37.5 0h0m-105.5 .5h0m70 0h0m6 0h0m11.5 0h0m11.5 0h0m5.5 0h0m6.5 0h0m-108 .5h0m15 0h0m2.5 0h0m17 0h0m9 0h0m-6.5 .5h0m7.5 0h0m31.5 0h0m-73.5 .5h0m2.5 0h0m51.5 0h0m28.5 0h0m6 0h0m1.5 0h0m-88 .5h0m2.5 0h0m.5 0h0m22.5 0h0m13.5 0h0m20 0h0m21 0h0m2 0h0m14.5 0h0m-68.5 .5h0m1 0h0m.5 0h0m2 0h0m12.5 0h0m20.5 0h0m17.5 0h0m17 0h0m-93.5 .5h0m6 0h0m5.5 0h0m14.5 0h0m11.5 0h0m45.5 0h0m-92.5 .5h0m4.5 0h0m3 0h0m.5 0h0m4 0h0m4 0h0m25.5 0h0m30 0h0m.5 0h0m4.5 0h0m-77 .5h0m39 0h0m28.5 0h0m10.5 0h0m7 0h0m7.5 0h0m-96 .5h0m31.5 0h0m.5 0h0m32 0h0m47 0h0m-111 .5h0m0 0h0m22.5 0h0m18 0h0m55.5 0h0m15 0h0m0 0h0m-96.5 .5h0m34 0h0m6 0h0m10.5 0h0m16 0h0m2.5 0h0m-85 .5h0m2.5 0h0m19.5 0h0m3.5 0h0m36 0h0m1.5 0h0m24.5 0h0m12 0h0m9 0h0m2.5 0h0m2.5 0h0m-80 .5h0m9 0h0m41 0h0m6.5 0h0m-79.5 .5h0m9.5 0h0m0 0h0m7 0h0m0 0h0m3.5 0h0m75.5 0h0m-83.5 .5h0m67 0h0m-82 .5h0m5 0h0m.5 0h0m31.5 0h0m4 0h0m11 0h0m25 0h0m1 0h0m-58.5 .5h0m4.5 0h0m11.5 0h0m5.5 0h0m20 0h0m22.5 0h0m9 0h0m1.5 0h0m-100.5 .5h0m3.5 0h0m12.5 0h0m.5 0h0m1 0h0m1 0h0m53.5 0h0m39 0h0m-83 .5h0m10 0h0m25.5 0h0m26.5 0h0m13 0h0m-89 .5h0m11.5 0h0m47.5 0h0m14 0h0m-86 .5h0m12.5 0h0m85 0h0m4.5 0h0m9 0h0m-114.5 .5h0m33 0h0m7 0h0m29 0h0m38.5 0h0m3.5 0h0m-77.5 .5h0m18 0h0m12 0h0m25.5 0h0m9 0h0m-96 .5h0m5.5 0h0m23.5 0h0m51 0h0m8 0h0m23 0h0m-92 .5h0m14 0h0m4 0h0m54.5 0h0m-71.5 .5h0m.5 0h0m3.5 0h0m12 0h0m8 0h0m5.5 0h0m18 0h0m-59.5 .5h0m4 0h0m24 0h0m-17.5 .5h0m3.5 0h0m3 0h0m4.5 0h0m0 0h0m2.5 0h0m.5 0h0m15 0h0m7 0h0m50.5 0h0m-101 .5h0m31 0h0m27 0h0m32 0h0m-43.5 .5h0m7 0h0m17 0h0m16 0h0m3.5 0h0m-86 .5h0m3.5 0h0m35.5 0h0m16 0h0m15 0h0m20 0h0m-85.5 .5h0m1 0h0m46.5 0h0m0 0h0m22 0h0m7.5 0h0m10.5 0h0m-89 .5h0m10 0h0m3.5 0h0m1 0h0m32.5 0h0m30 0h0m11.5 0h0m-88.5 .5h0m2 0h0m23 0h0m5.5 0h0m24.5 0h0m5 0h0m-32 .5h0m2 0h0m32 0h0m12 0h0m-58 .5h0m3.5 0h0m2 0h0m14.5 0h0m17 0h0m-60 .5h0m27.5 0h0m12.5 0h0m6.5 0h0m28.5 0h0m6.5 0h0m4 0h0m-53.5 .5h0m23.5 0h0m19 0h0m21 0h0m8 0h0m-65.5 .5h0m6.5 0h0m23 0h0m14.5 0h0m15 0h0m-98.5 .5h0m36.5 0h0m15 0h0m11.5 0h0m1.5 0h0m9 0h0m5 0h0m3.5 0h0m8 0h0m-87 .5h0m32.5 0h0m22 0h0m-60.5 .5h0m10 0h0m17 0h0m6 0h0m15 0h0m15.5 0h0m5.5 0h0m11.5 0h0m.5 0h0m10 0h0m20 0h0m-106.5 .5h0m22 0h0m11 0h0m6 0h0m35.5 0h0m-61.5 .5h0m5.5 0h0m4 0h0m13 0h0m68 0h0m-108.5 .5h0m69.5 0h0m2.5 0h0m22 0h0m17 0h0m-108.5 .5h0m36 0h0m8.5 0h0m34 0h0m8.5 0h0m17.5 0h0m6.5 0h0m-104.5 .5h0m6 0h0m16 0h0m23.5 0h0m13.5 0h0m20.5 0h0m11 0h0m6 0h0m-106 .5h0m.5 0h0m12 0h0m8.5 0h0m12.5 0h0m67.5 0h0m7.5 0h0m2.5 0h0m.5 0h0m-39.5 .5h0m9.5 0h0m-76 .5h0m8.5 0h0m3.5 0h0m7.5 0h0m7 0h0m4.5 0h0m9 0h0m28.5 0h0m-66 .5h0m37 0h0m6 0h0m20 0h0m10 0h0m-51 .5h0m12.5 0h0m19.5 0h0m32.5 0h0m-35 .5h0m27.5 0h0m13 0h0m2.5 0h0m-79.5 .5h0m5.5 0h0m10.5 0h0m5 0h0m23.5 0h0m-37.5 .5h0m14 0h0m10 0h0m2 0h0m7 0h0m-55.5 .5h0m5 0h0m24 0h0m10.5 0h0m34 0h0m2 0h0m1.5 0h0m11.5 0h0m13.5 0h0m-92.5 .5h0m7 0h0m14.5 0h0m13 0h0m28.5 0h0m2 0h0m13.5 0h0m-83 .5h0m26 0h0m11 0h0m13.5 0h0m5 0h0m2 0h0m8 0h0m3 0h0m27.5 0h0m1 0h0m-79 .5h0m36.5 0h0m15 0h0m6 0h0m1 0h0m8 0h0m9.5 0h0m-58.5 .5h0m-26 .5h0m40 0h0m10 0h0m14.5 0h0m-28 .5h0m45 0h0m5 0h0m-103.5 .5h0m9.5 0h0m11 0h0m9 0h0m24 0h0m15.5 0h0m18 0h0m-60 .5h0m23 0h0m5.5 0h0m33 0h0m7 0h0m-91.5 .5h0m22.5 0h0m23 0h0m2 0h0m3.5 0h0m25.5 0h0m8.5 0h0m12 0h0m-96.5 .5h0m2.5 0h0m10.5 0h0m15.5 0h0m6.5 0h0m14 0h0m13 0h0m-70.5 .5h0m24.5 0h0m4 0h0m8.5 0h0m74 0h0m-53.5 .5h0m2 0h0m17.5 0h0m8 0h0m-86 .5h0m8.5 0h0m18 0h0m24 0h0m6 0h0m25.5 0h0m5.5 0h0m5 0h0m1 0h0m15 0h0m2.5 0h0m-85.5 .5h0m35.5 .5h0m38 0h0m-46.5 .5h0m20.5 0h0m4.5 0h0m15.5 0h0m3.5 0h0m3 0h0m-66 .5h0m35 0h0m-68.5 .5h0m11 0h0m.5 0h0m18 0h0m17.5 0h0m.5 0h0m6.5 0h0m26.5 0h0m20.5 0h0m10 0h0m-31 .5h0m-57.5 .5h0m19.5 0h0m-4.5 .5h0m69 0h0m-76.5 .5h0m40 0h0m39 0h0m0 0h0m-106.5 .5h0m28 0h0m31 0h0m25 0h0m10 0h0m12.5 0h0m4.5 0h0m-102.5 .5h0m33 0h0m11 0h0m2.5 0h0m30.5 0h0m10 0h0m-65 .5h0m32.5 0h0m21.5 0h0m-72 .5h0m6.5 0h0m18 0h0m28.5 0h0m8.5 0h0m23.5 0h0m-51.5 .5h0m12.5 0h0m1 0h0m8.5 0h0m0 0h0m22.5 0h0m0 0h0m2.5 0h0m14 0h0m-101 .5h0m29 0h0m11 0h0m26.5 0h0m9 0h0m8 0h0m-84 .5h0m15 0h0m3.5 0h0m1 0h0m1.5 0h0m37.5 0h0m42.5 0h0m-97.5 .5h0m2 0h0m17 0h0m3.5 0h0m-16.5 .5h0m45 0h0m12 0h0m20.5 0h0m11 0h0m-91.5 .5h0m28 0h0m34 0h0m28.5 0h0m-93.5 .5h0m2 0h0m5.5 0h0m21.5 0h0m22.5 0h0m16 0h0m11 0h0m1.5 0h0m-78.5 .5h0m17.5 0h0m21.5 0h0m3 0h0m-38.5 .5h0m4 0h0m7 0h0m2.5 0h0m2 0h0m37.5 0h0m7.5 0h0m5 0h0m-82 .5h0m4 0h0m40 0h0m38 0h0m29 0h0m-87.5 .5h0m4.5 0h0m23 0h0m14.5 0h0m27 0h0m5 0h0m-75 .5h0m6.5 0h0m3 0h0m22 0h0m32 0h0m-75.5 .5h0m17.5 0h0m6.5 0h0m45 0h0m4 0h0m4 0h0m22.5 0h0m-80 .5h0m46.5 0h0m.5 0h0m19 0h0m2.5 0h0m-71.5 .5h0m12.5 0h0m15 0h0m53.5 0h0m-75 .5h0m5.5 0h0m11 0h0m27.5 0h0m10.5 0h0m1 0h0m-65 .5h0m8.5 0h0m12 0h0m19 0h0m16 0h0m13.5 0h0m4 0h0m10.5 0h0m-107.5 .5h0m16 0h0m11.5 0h0m21 0h0m24 0h0m3 0h0m8 0h0m4 0h0m23.5 0h0m-108 .5h0m14 0h0m3.5 0h0m39 0h0m8 0h0m20 0h0m26.5 0h0m-98.5 .5h0m44 0h0m12 0h0m7.5 0h0m-64.5 .5h0m4 0h0m15.5 0h0m10.5 0h0m11 0h0m-12.5 .5h0m15.5 0h0m13.5 0h0m34.5 0h0m-79 .5h0m14.5 0h0m20.5 0h0m29 0h0m7.5 0h0m-88 .5h0m31 0h0m6.5 0h0m10 0h0m10.5 0h0m21.5 0h0m10.5 0h0m-68.5 .5h0m4.5 0h0m27.5 0h0m20 0h0m-62 .5h0m27.5 0h0m12 0h0m4.5 0h0m16.5 0h0m13.5 0h0m-90 .5h0m13.5 0h0m17 0h0m20 0h0m19 0h0m19 0h0m3 0h0m-88.5 .5h0m4 0h0m39.5 0h0m6 0h0m-19 .5h0m37.5 0h0m-65 .5h0m12.5 0h0m1 0h0m19 0h0m2 0h0m8.5 0h0m17 0h0m23 0h0m15 0h0m-110.5 .5h0m5 0h0m45.5 0h0m16.5 0h0m44 0h0m-106.5 .5h0m6.5 0h0m30 0h0m18 0h0m25.5 0h0m.5 0h0m12 0h0m-89 .5h0m16 0h0m37 0h0m17.5 0h0m19 0h0m-35 .5h0m10.5 0h0m4 0h0m-73 .5h0m20.5 0h0m26 0h0m7 0h0m5 0h0m10 0h0m31.5 0h0m11 0h0m-110.5 .5h0m11.5 0h0m1.5 0h0m6 0h0m63 0h0m9.5 0h0m2 0h0m-59.5 .5h0m-5.5 .5h0m5 0h0m19 0h0m46 0h0m4 0h0m-101 .5h0m23.5 0h0m39 0h0m32 0h0m6.5 0h0m0 0h0m-35 .5h0m4.5 0h0m22.5 0h0m-87.5 .5h0m5 0h0m24 0h0m2 0h0m4.5 0h0m-47 .5h0m2.5 0h0m11 0h0m.5 0h0m20 0h0m7 0h0m41.5 0h0m28.5 0h0m2.5 0h0m-105 .5h0m26 0h0m5 0h0m19.5 0h0m6 0h0m9 0h0m13.5 0h0m20 0h0m-97.5 .5h0m17 0h0m8.5 0h0m32 0h0m37 0h0m-62 .5h0m11 0h0m5.5 0h0m27 0h0m22 0h0m-75 .5h0m16.5 0h0m9 0h0m6 0h0m-33 .5h0m16 0h0m40.5 0h0m1 0h0m5.5 0h0m3.5 0h0m-72.5 .5h0m17 0h0m7 0h0m7.5 0h0m15.5 0h0m28 0h0m3 0h0m0 0h0m-62.5 .5h0m13 0h0m34.5 0h0m-80.5 .5h0m14 0h0m36.5 0h0m39.5 0h0m11.5 0h0m-82 .5h0m11 0h0m6 0h0m1.5 0h0m3 0h0m18 0h0m26 0h0m12.5 0h0m-90 .5h0m29 0h0m-31 .5h0m23.5 0h0m3 0h0m8 0h0m24 0h0m4.5 0h0m9.5 0h0m14.5 0h0m9.5 0h0m-97 .5h0m24.5 0h0m37 0h0m14.5 0h0m12.5 0h0m3 0h0m-27 .5h0m2.5 0h0m13.5 0h0m1.5 0h0m-81.5 .5h0m2 0h0m10 0h0m4.5 0h0m3.5 0h0m22.5 0h0m24.5 0h0m11 0h0m1 0h0m7 0h0m6 0h0m-104 .5h0m11.5 0h0m26.5 0h0m10 0h0m11.5 0h0m15.5 0h0m36 0h0m-112.5 .5h0m5 0h0m24 0h0m28 0h0m36.5 0h0m17.5 0h0m-109.5 .5h0m21 0h0m8 0h0m.5 0h0m11.5 0h0m14 0h0m19 0h0m10.5 0h0m26.5 0h0m-85.5 .5h0m5 0h0m19 0h0m10.5 0h0m20 0h0m26.5 0h0m-45.5 .5h0m21.5 0h0m6 0h0m13 0h0m-49 .5h0m-51 .5h0m36.5 0h0m5.5 0h0m12.5 0h0m56.5 0h0m-97.5 .5h0m4 0h0m5 0h0m1 0h0m13.5 0h0m46.5 0h0m-53 .5h0m24.5 0h0m6.5 0h0m9 0h0m6 0h0m3 0h0m14 0h0m-86 .5h0m2.5 0h0m44 0h0m4.5 0h0m1.5 0h0m39 0h0m-95 .5h0m2 0h0m17 0h0m7.5 0h0m57.5 0h0m6 0h0m12.5 0h0m-108.5 .5h0m49 0h0m40 0h0m22 0h0m-93.5 .5h0m40.5 0h0m12 0h0m-57.5 .5h0m43.5 0h0m3.5 0h0m2.5 0h0m16 0h0m2 0h0m-76.5 .5h0m7 0h0m42.5 0h0m52.5 0h0m-23 .5h0m9 0h0m5.5 0h0m10 0h0m-101.5 .5h0m14.5 0h0m38.5 0h0m8 0h0m1 0h0m11.5 0h0m11 0h0m1.5 0h0m-55.5 .5h0m22.5 0h0m15 0h0m1 0h0m16.5 0h0m9.5 0h0m4.5 0h0m-13 .5h0m4.5 0h0m6 0h0m6.5 0h0m-61.5 .5h0m19 0h0m6 0h0m4.5 0h0m24 0h0m-69 .5h0m8.5 0h0m11.5 0h0m2 0h0m8 0h0m7 0h0m14 0h0m18.5 0h0m-56 .5h0m19.5 0h0m4 0h0m9 0h0m4.5 0h0m5.5 0h0m-85.5 .5h0m15 0h0m77.5 0h0m1 0h0m2.5 0h0m9.5 0h0m5.5 0h0m-92 .5h0m9 0h0m0 0h0m1.5 0h0m9 0h0m56.5 0h0m-98.5 .5h0m37.5 0h0m5 0h0m20 0h0m29.5 0h0m12 0h0m7 0h0m-106 .5h0m19.5 0h0m22.5 0h0m38 0h0m12.5 0h0m-71 .5h0m12 0h0m24 0h0m25 0h0m-83.5 .5h0m11 0h0m15 0h0m49.5 0h0m.5 0h0m12 0h0m23 0h0m-90.5 .5h0m19 0h0m20.5 0h0m3.5 0h0m26.5 0h0m5 0h0m7.5 0h0m-92.5 .5h0m15.5 0h0m25.5 0h0m20 0h0m15.5 0h0m-76.5 .5h0m.5 0h0m28.5 0h0m6 0h0m23.5 0h0m-67.5 .5h0m29.5 0h0m16.5 0h0m5 .5h0m29 0h0m3.5 0h0m-76 .5h0m3.5 0h0m42.5 0h0m13.5 0h0m28 0h0m8.5 0h0m-92 .5h0m3.5 0h0m2.5 0h0m22 0h0m35 0h0m7.5 0h0m9 0h0m3.5 0h0m-91.5 .5h0m.5 0h0m24.5 0h0m-13.5 .5h0m12.5 0h0m48 0h0m2 0h0m-37 .5h0m30 0h0m25.5 0h0m-76.5 .5h0m-24 .5h0m10 0h0m27.5 0h0m1.5 0h0m24 0h0m13.5 0h0m10.5 0h0m.5 0h0m23.5 0h0m-100 .5h0m14.5 0h0m6.5 0h0m13.5 0h0m5.5 0h0m17 0h0m7 0h0m25 0h0m.5 0h0m2.5 0h0m6 0h0m-87.5 .5h0m27 0h0m-16 .5h0m29.5 0h0m16 0h0m17.5 0h0m10 0h0m-58 .5h0m33 0h0m-79.5 .5h0m3 0h0m8 0h0m19.5 0h0m21.5 0h0m5 0h0m5 0h0m28 0h0m21 0h0m3 0h0m-105 .5h0m8.5 0h0m6 0h0m2.5 0h0m7 0h0m6.5 0h0m12.5 0h0m2 0h0m10.5 0h0m6 0h0m15 0h0m-85 .5h0m6.5 0h0m26 0h0m56 0h0m22.5 0h0m-75 .5h0m19 0h0m19.5 .5h0m6.5 0h0m28 0h0m-96.5 .5h0m41 0h0m25.5 0h0m-65 .5h0m5 0h0m9 0h0m3 0h0m8 0h0m29 0h0m23.5 0h0m17.5 0h0m-81 .5h0m4.5 0h0m19.5 0h0m7.5 0h0m3.5 0h0m12.5 0h0m11.5 0h0m-59 .5h0m10 0h0m26 0h0m-43 .5h0m47 0h0m37.5 0h0m-104.5 .5h0m51.5 0h0m1.5 0h0m23 0h0m13 0h0m4.5 0h0m17.5 0h0m-105.5 .5h0m20.5 0h0m52 0h0m5.5 0h0m.5 0h0m15.5 0h0m-102 .5h0m22 0h0m74.5 0h0m7.5 0h0m.5 0h0m6.5 0h0m-110.5 .5h0m2 0h0m21 0h0m1.5 0h0m84 0h0m2.5 0h0m2 0h0m-83.5 .5h0m26 0h0m18.5 0h0m13.5 0h0m8.5 0h0m-73 .5h0m0 0h0m9 0h0m41.5 0h0m18 0h0m14 0h0m-86 .5h0m6.5 0h0m31.5 0h0m1.5 0h0m-16.5 .5h0m16.5 0h0m13 0h0m9 0h0m16.5 0h0m-90.5 .5h0m40.5 0h0m7.5 0h0m22 0h0m-66.5 .5h0m4 0h0m84 0h0m3 0h0m-99 .5h0m23 0h0m14 0h0m39.5 0h0m19 0h0m9 0h0m6.5 0h0m-99.5 .5h0m71 0h0m14 0h0m1.5 0h0m-92.5 .5h0m63 0h0m.5 0h0m.5 0h0m-21 .5h0m8.5 0h0m28.5 0h0m22 0h0m-106.5 .5h0m6 0h0m8 0h0m5.5 0h0m7.5 0h0m3 0h0m2 0h0m9.5 0h0m20.5 0h0m14.5 0h0m11.5 0h0m4 0h0m19 0h0m-99.5 .5h0m2.5 0h0m15.5 0h0m29.5 0h0m13.5 0h0m16.5 0h0m-91.5 .5h0m11.5 0h0m0 0h0m6 0h0m13 0h0m6 0h0m14.5 0h0m29.5 0h0m6.5 0h0m5 0h0m8 0h0m11 0h0m-82.5 .5h0m2.5 0h0m26 0h0m2 0h0m6 0h0m34.5 0h0m3.5 0h0m5 0h0m.5 0h0m-97 .5h0m18.5 0h0m5 0h0m5 0h0m8.5 0h0m34.5 0h0m1.5 0h0m6 0h0m11.5 0h0m5.5 0h0m-103 .5h0m29 0h0m45 0h0m0 0h0m20.5 0h0m-96 .5h0m1.5 0h0m9.5 0h0m31.5 0h0m-46 .5h0m44 0h0m6.5 0h0m8 0h0m52.5 0h0m-95.5 .5h0m13 0h0m8.5 0h0m34 0h0m14.5 0h0m7.5 0h0m-79.5 .5h0m15.5 0h0m29.5 0h0m23 0h0m12 0h0m13.5 0h0m-97.5 .5h0m15 0h0m0 0h0m17.5 0h0m11.5 0h0m47.5 0h0m-69 .5h0m7 0h0m37 0h0m6 0h0m19 0h0m5 0h0m-96 .5h0m11 0h0m6.5 0h0m55.5 0h0m15 0h0m-96.5 .5h0m4.5 0h0m65 0h0m5.5 0h0m12 0h0m8.5 0h0m2.5 0h0m13 0h0"/><path id="dt11" d="M13 -2h0m6 0h0m-19.5 .5h0m12 0h0m4.5 0h0m6 0h0m22.5 0h0m39.5 0h0m5 0h0m4 0h0m25 0h0m3 0h0m2.5 0h0m9 0h0m-115 .5h0m2.5 0h0m1 0h0m2.5 0h0m9 0h0m48 0h0m21 0h0m14.5 0h0m-63.5 .5h0m11.5 0h0m20 0h0m1.5 0h0m8.5 0h0m29 0h0m-90 .5h0m45.5 0h0m1 0h0m3.5 0h0m16.5 0h0m25.5 0h0m5 0h0m-117.5 .5h0m27 0h0m13.5 0h0m13.5 0h0m27.5 0h0m2.5 0h0m2 0h0m31 0h0m-111 .5h0m60 0h0m4 0h0m5 0h0m31.5 0h0m.5 0h0m-120.5 .5h0m0 0h0m2 0h0m38.5 0h0m14 0h0m40 0h0m30 0h0m4 0h0m4.5 0h0m0 0h0m2 0h0m-95.5 .5h0m35 0h0m9 0h0m11.5 0h0m30 0h0m1 0h0m-95 .5h0m12 0h0m12 0h0m33.5 0h0m21.5 0h0m5.5 0h0m-91 .5h0m.5 0h0m5 0h0m2.5 0h0m8.5 0h0m13 0h0m8 0h0m6.5 0h0m6.5 0h0m-76 .5h0m4 0h0m35.5 0h0m17 0h0m38 0h0m10.5 0h0m0 0h0m8.5 0h0m6 0h0m5.5 0h0m6.5 0h0m1.5 0h0m4 0h0m-121.5 .5h0m11 0h0m3.5 0h0m5 0h0m2 0h0m8 0h0m15.5 0h0m18.5 0h0m1.5 0h0m2.5 0h0m0 0h0m.5 0h0m9 0h0m16.5 0h0m0 0h0m18 0h0m-119.5 .5h0m15.5 0h0m46 0h0m0 0h0m3.5 0h0m17 0h0m22.5 0h0m-103.5 .5h0m5.5 0h0m11 0h0m24.5 0h0m49.5 0h0m5.5 0h0m-95.5 .5h0m16.5 0h0m5.5 0h0m4 0h0m44.5 0h0m11.5 0h0m14.5 0h0m1 0h0m10 0h0m-102 .5h0m52.5 0h0m5.5 0h0m1.5 0h0m8 0h0m27.5 0h0m.5 0h0m-109.5 .5h0m4 0h0m19.5 0h0m5.5 0h0m22.5 0h0m62.5 0h0m10 0h0m6.5 0h0m2.5 0h0m-133.5 .5h0m83 0h0m23 0h0m8 0h0m2 0h0m17 0h0m-49 .5h0m30.5 0h0m2.5 0h0m-85 .5h0m16.5 0h0m20 0h0m19.5 0h0m20.5 0h0m12 0h0m-72 .5h0m5 0h0m19 0h0m7 0h0m-46.5 .5h0m1 0h0m2 0h0m.5 0h0m1.5 0h0m7.5 0h0m26.5 0h0m13.5 0h0m8.5 0h0m36.5 0h0m-92.5 .5h0m22 0h0m10 0h0m5 0h0m2.5 0h0m8 0h0m35.5 0h0m3.5 0h0m-84 .5h0m48.5 0h0m-84 .5h0m3 0h0m4.5 0h0m19 0h0m3.5 0h0m9.5 0h0m15.5 0h0m5.5 0h0m11 0h0m34 0h0m3 0h0m1 0h0m3 0h0m-77.5 .5h0m5 0h0m32 0h0m6 0h0m8 0h0m1 0h0m8 0h0m9.5 0h0m12.5 0h0m6.5 0h0m-108.5 .5h0m56.5 0h0m5 0h0m-61 .5h0m42 0h0m5 0h0m26 0h0m11.5 0h0m3.5 0h0m-106.5 .5h0m7 0h0m10 0h0m23 0h0m7 0h0m13.5 0h0m7 0h0m8 0h0m26 0h0m5.5 0h0m15.5 0h0m10.5 0h0m-122.5 .5h0m1.5 0h0m18 0h0m6 0h0m9.5 0h0m51.5 0h0m-98.5 .5h0m7 0h0m27 0h0m6.5 0h0m22 0h0m21 0h0m13 0h0m27.5 0h0m1 0h0m8 0h0m-131 .5h0m20 0h0m7 0h0m9.5 0h0m56.5 0h0m8 0h0m13 0h0m1.5 0h0m4.5 0h0m.5 0h0m12.5 0h0m-128 .5h0m.5 0h0m11.5 0h0m1.5 0h0m50.5 0h0m3 0h0m2.5 0h0m15 0h0m16.5 0h0m7.5 0h0m4.5 0h0m-92 .5h0m6.5 0h0m56 0h0m1.5 0h0m14.5 0h0m2 0h0m21 0h0m-129.5 .5h0m5.5 0h0m36 0h0m6 0h0m5 0h0m7 0h0m1 0h0m25 0h0m14 0h0m24.5 0h0m9 0h0m-130.5 .5h0m28.5 0h0m13 0h0m12.5 0h0m14 0h0m7.5 0h0m10.5 0h0m.5 0h0m6 0h0m40.5 0h0m-134 .5h0m5 0h0m38.5 0h0m36 0h0m26 0h0m4.5 0h0m11 0h0m.5 0h0m0 0h0m11.5 0h0m-125 .5h0m2.5 0h0m9.5 0h0m28 0h0m6.5 0h0m12.5 0h0m5.5 0h0m15 0h0m8.5 0h0m6.5 0h0m3.5 0h0m-106.5 .5h0m11 0h0m6 0h0m16.5 0h0m18 0h0m6.5 0h0m.5 0h0m2.5 0h0m25.5 0h0m4.5 0h0m34.5 0h0m7.5 0h0m-134 .5h0m8 0h0m1 0h0m4 0h0m5 0h0m23 0h0m24 0h0m13 0h0m5 0h0m.5 0h0m7 0h0m28.5 0h0m14 0h0m-113 .5h0m3.5 0h0m7.5 0h0m8.5 0h0m44.5 0h0m11 0h0m6.5 0h0m2.5 0h0m16 0h0m-118.5 .5h0m2 0h0m5 0h0m20 0h0m3 0h0m5 0h0m9.5 0h0m11 0h0m9 0h0m15.5 0h0m6.5 0h0m9 0h0m3 0h0m10.5 0h0m24 0h0m2 0h0m-134.5 .5h0m39 0h0m6.5 0h0m20 0h0m53.5 0h0m14 0h0m-128.5 .5h0m48.5 0h0m2.5 0h0m.5 0h0m0 0h0m10 0h0m1.5 0h0m13.5 0h0m2 0h0m1 0h0m3 0h0m3.5 0h0m33.5 0h0m-119 .5h0m4.5 0h0m5.5 0h0m9.5 0h0m10.5 0h0m15.5 0h0m12 0h0m15 0h0m5.5 0h0m26.5 0h0m16 0h0m-120 .5h0m1 0h0m75.5 0h0m.5 0h0m15 0h0m17 0h0m-103.5 .5h0m16.5 0h0m8.5 0h0m34 0h0m2 0h0m16 0h0m6.5 0h0m25.5 0h0m-112 .5h0m0 0h0m8 0h0m10.5 0h0m3 0h0m8 0h0m21.5 0h0m45.5 0h0m-102.5 .5h0m12 0h0m2 0h0m39.5 0h0m10 0h0m27 0h0m24.5 0h0m4 0h0m1 0h0m-104.5 .5h0m40.5 0h0m18.5 0h0m35.5 0h0m16 0h0m-98.5 .5h0m15 0h0m10 0h0m45 0h0m19.5 0h0m2 0h0m4.5 0h0m-118 .5h0m3.5 0h0m23.5 0h0m5 0h0m28.5 0h0m18 0h0m4.5 0h0m4 0h0m10.5 0h0m3.5 0h0m14 0h0m-114 .5h0m3.5 0h0m13.5 0h0m38 0h0m8.5 0h0m16 0h0m25.5 0h0m3 0h0m-76.5 .5h0m52 0h0m2.5 0h0m14 0h0m15 0h0m.5 0h0m-115 .5h0m21.5 0h0m2.5 0h0m7 0h0m1.5 0h0m15 0h0m4.5 0h0m.5 0h0m8 0h0m21 0h0m36.5 0h0m-122.5 .5h0m3 0h0m4.5 0h0m9.5 0h0m15 0h0m11 0h0m6.5 0h0m47 0h0m28.5 0h0m.5 0h0m-58 .5h0m5 0h0m23 0h0m1.5 0h0m7 0h0m1.5 0h0m9.5 0h0m-111 .5h0m5 0h0m10.5 0h0m5.5 0h0m22.5 0h0m6.5 0h0m9.5 0h0m17.5 0h0m12.5 0h0m-94 .5h0m9.5 0h0m1.5 0h0m7 0h0m2 0h0m17 0h0m18.5 0h0m.5 0h0m18.5 0h0m6.5 0h0m29 0h0m-116.5 .5h0m8.5 0h0m28.5 0h0m15.5 0h0m1.5 0h0m2.5 0h0m41.5 0h0m15 0h0m1.5 0h0m2 0h0m16.5 0h0m-46 .5h0m1 0h0m-42.5 .5h0m16 0h0m35 0h0m34.5 0h0m-73 .5h0m7 0h0m16.5 0h0m2 0h0m34 0h0m11.5 0h0m-114.5 .5h0m20 0h0m8 0h0m4 0h0m15.5 0h0m28.5 0h0m-75.5 .5h0m45.5 0h0m7.5 0h0m1 0h0m3.5 0h0m9 0h0m3.5 0h0m30.5 0h0m-110 .5h0m57.5 0h0m55.5 0h0m-16.5 .5h0m9 0h0m5 0h0m4.5 0h0m11.5 0h0m-117.5 .5h0m0 0h0m30 0h0m4.5 0h0m9.5 0h0m19.5 0h0m19 0h0m1 0h0m-94.5 .5h0m2 0h0m11 0h0m8 0h0m9.5 0h0m1.5 0h0m19.5 0h0m4.5 0h0m5.5 0h0m9 0h0m1.5 0h0m1.5 0h0m3 0h0m38.5 0h0m18 0h0m-124 .5h0m26.5 0h0m4 0h0m10 0h0m.5 0h0m2.5 0h0m18 0h0m1.5 0h0m5 0h0m9 0h0m10.5 0h0m9 0h0m-98.5 .5h0m91.5 0h0m-100 .5h0m2.5 0h0m4.5 0h0m26.5 0h0m27.5 0h0m29.5 0h0m1.5 0h0m7 0h0m14.5 0h0m.5 0h0m19 0h0m-111 .5h0m28.5 0h0m4 0h0m9 0h0m31 0h0m3 0h0m.5 0h0m.5 0h0m17 0h0m-116.5 .5h0m10.5 0h0m10 0h0m24 0h0m8 0h0m14 0h0m7 0h0m6.5 0h0m40.5 0h0m8.5 0h0m4 0h0m-127 .5h0m2 0h0m4.5 0h0m21 0h0m5.5 0h0m1.5 0h0m4 0h0m0 0h0m2.5 0h0m1 0h0m5.5 0h0m38.5 0h0m5.5 0h0m1.5 0h0m7.5 0h0m19.5 0h0m-105 .5h0m14.5 0h0m16.5 0h0m16 0h0m14.5 0h0m3 0h0m5.5 0h0m11 0h0m-96 .5h0m21 0h0m15.5 0h0m9 0h0m1 0h0m14.5 0h0m37 0h0m12 0h0m11 0h0m-121 .5h0m3 0h0m39.5 0h0m12.5 0h0m64 0h0m4.5 0h0m-125 .5h0m2.5 0h0m5.5 0h0m1.5 0h0m25 0h0m9.5 0h0m12 0h0m24.5 0h0m42.5 0h0m-124.5 .5h0m15.5 0h0m10.5 0h0m82.5 0h0m11.5 0h0m.5 0h0m12.5 0h0m-134.5 .5h0m11 0h0m25 0h0m16 0h0m9 0h0m34 0h0m5.5 0h0m25.5 0h0m7 0h0m-129 .5h0m12 0h0m16 0h0m57 0h0m18.5 0h0m-87.5 .5h0m6 0h0m7.5 0h0m13 0h0m2.5 0h0m14 0h0m36 0h0m4.5 0h0m26 0h0m-112 .5h0m6 0h0m1 0h0m6 0h0m29.5 0h0m6.5 0h0m0 0h0m1 0h0m2.5 0h0m11 0h0m19.5 0h0m4.5 0h0m-107.5 .5h0m18.5 0h0m25 0h0m23 0h0m4 0h0m8 0h0m17.5 0h0m3.5 0h0m15 0h0m6.5 0h0m12 0h0m-132 .5h0m16 0h0m4 0h0m18 0h0m45.5 0h0m25.5 0h0m22 0h0m2 0h0m-103 .5h0m8 0h0m13.5 0h0m36 0h0m16 0h0m26.5 0h0m1.5 0h0m-127.5 .5h0m42.5 0h0m12.5 0h0m13.5 0h0m47.5 0h0m9.5 0h0m2 0h0m-129.5 .5h0m3.5 0h0m42 0h0m5.5 0h0m30 0h0m3 0h0m14 0h0m13.5 0h0m21.5 0h0m-55 .5h0m6 0h0m25.5 0h0m12 0h0m1.5 0h0m4.5 0h0m1.5 0h0m-98 .5h0m25.5 0h0m21 0h0m.5 0h0m7.5 0h0m6 0h0m2.5 0h0m-70.5 .5h0m38 0h0m22.5 0h0m17.5 0h0m12 0h0m2 0h0m9 0h0m-122.5 .5h0m31 0h0m47 0h0m14 0h0m8.5 0h0m1 0h0m18 0h0m4.5 0h0m-111 .5h0m10 0h0m28 0h0m14 0h0m23 0h0m12 0h0m16 0h0m5 0h0m-27 .5h0m.5 0h0m.5 0h0m13 0h0m5 0h0m-87.5 .5h0m.5 0h0m5.5 0h0m21.5 0h0m14.5 0h0m4.5 0h0m24.5 0h0m1.5 0h0m18 0h0m-105.5 .5h0m8.5 0h0m7.5 0h0m20.5 0h0m26 0h0m10.5 0h0m10.5 0h0m19.5 0h0m5.5 0h0m-111.5 .5h0m1 0h0m6.5 0h0m21.5 0h0m15 0h0m16 0h0m36 0h0m11.5 0h0m-103.5 .5h0m8.5 0h0m2 0h0m16 0h0m65 0h0m5 0h0m2 0h0m-102.5 .5h0m5 0h0m1.5 0h0m2 0h0m16.5 0h0m10.5 0h0m3 0h0m18 0h0m38 0h0m-104 .5h0m2 0h0m11.5 0h0m14 0h0m11.5 0h0m45.5 0h0m25.5 0h0m4 0h0m5.5 0h0m2 0h0m6 0h0m5.5 0h0m-108 .5h0m10.5 0h0m6.5 0h0m4 0h0m27.5 0h0m4.5 0h0m8 0h0m11.5 0h0m9.5 0h0m9 0h0m7.5 0h0m-114 .5h0m32.5 0h0m22 0h0m10.5 0h0m15.5 0h0m-91.5 .5h0m16 0h0m4.5 0h0m1.5 0h0m36.5 0h0m59.5 0h0m15 0h0m-133 .5h0m9.5 0h0m25.5 0h0m74 0h0m.5 0h0m20 0h0m3.5 0h0m-106 .5h0m19 0h0m15 0h0m3 0h0m5.5 0h0m24 0h0m-76.5 .5h0m1.5 0h0m2.5 0h0m1.5 0h0m5.5 0h0m29.5 0h0m.5 0h0m17.5 0h0m24.5 0h0m14 0h0m6 0h0m10.5 0h0m-123.5 .5h0m1.5 0h0m5.5 0h0m15.5 0h0m9.5 0h0m16 0h0m37 0h0m9 0h0m19.5 0h0m-111.5 .5h0m5 0h0m27 0h0m8.5 0h0m15 0h0m16.5 0h0m48.5 0h0m-130.5 .5h0m4.5 0h0m18 0h0m43.5 0h0m5 0h0m2.5 0h0m3.5 0h0m31.5 0h0m15 0h0m2.5 0h0m1 0h0m6 0h0m-127.5 .5h0m.5 0h0m15 0h0m1.5 0h0m3 0h0m1.5 0h0m24.5 0h0m9 0h0m11 0h0m1 0h0m9.5 0h0m6 0h0m3 0h0m1 0h0m4.5 0h0m31.5 0h0m4 0h0m-101 .5h0m26.5 0h0m18 0h0m15 0h0m13 0h0m4.5 0h0m.5 0h0m-87.5 .5h0m4 0h0m28 0h0m8 0h0m2.5 0h0m7 0h0m28.5 0h0m.5 0h0m.5 0h0m1.5 0h0m24.5 0h0m-122 .5h0m9.5 0h0m1 0h0m8.5 0h0m2.5 0h0m24 0h0m3 0h0m14 0h0m16 0h0m-79 .5h0m10 0h0m69 0h0m5 0h0m11.5 0h0m1.5 0h0m8.5 0h0m27.5 0h0m-126 .5h0m8.5 0h0m15.5 0h0m2 0h0m16 0h0m11.5 0h0m11 0h0m1 0h0m30.5 0h0m23 0h0m-127.5 .5h0m17 0h0m6 0h0m53.5 0h0m14 0h0m3 0h0m10.5 0h0m29 0h0m-134 .5h0m.5 0h0m6 0h0m23.5 0h0m13.5 0h0m8.5 0h0m1 0h0m40.5 0h0m21 0h0m7 0h0m11.5 0h0m.5 0h0m-126.5 .5h0m14 0h0m7.5 0h0m38 0h0m6.5 0h0m11.5 0h0m13 0h0m5 0h0m0 0h0m16.5 0h0m-107 .5h0m52 0h0m-14 .5h0m9.5 0h0m2.5 0h0m1 0h0m30 0h0m5 0h0m23 0h0m-122 .5h0m1.5 0h0m3.5 0h0m19 0h0m10 0h0m10 0h0m13.5 0h0m15.5 0h0m41 0h0m19 0h0m1.5 0h0m-123.5 .5h0m14.5 0h0m3.5 0h0m20 0h0m43 0h0m12 0h0m14.5 0h0m-107.5 .5h0m10 0h0m99.5 0h0m-94 .5h0m16.5 0h0m17 0h0m9 0h0m2 0h0m7 0h0m6 0h0m41 0h0m5.5 0h0m-126.5 .5h0m2.5 0h0m36.5 0h0m5.5 0h0m9.5 0h0m45 0h0m-98.5 .5h0m9 0h0m28 0h0m4 0h0m13.5 0h0m19 0h0m6 0h0m12.5 0h0m.5 0h0m15 0h0m18.5 0h0m-119 .5h0m32.5 0h0m7.5 0h0m0 0h0m4.5 0h0m24.5 0h0m10 0h0m-65 .5h0m14.5 0h0m10.5 0h0m5.5 0h0m23.5 0h0m4.5 0h0m3 0h0m40 0h0m-116 .5h0m2 0h0m17.5 0h0m14.5 0h0m12.5 0h0m7.5 0h0m32 0h0m17 0h0m.5 0h0m-113.5 .5h0m81.5 0h0m12.5 0h0m19 0h0m20 0h0m-120.5 .5h0m1 0h0m20 0h0m42 0h0m53 0h0m2 0h0m-113.5 .5h0m30.5 0h0m7.5 0h0m.5 0h0m27.5 0h0m42.5 0h0m-116.5 .5h0m20 0h0m10 0h0m31.5 0h0m48.5 0h0m-112.5 .5h0m18 0h0m3 0h0m7.5 0h0m12.5 0h0m9.5 0h0m3.5 0h0m0 0h0m14 0h0m7.5 0h0m14.5 0h0m26.5 0h0m7 0h0m-117 .5h0m51.5 0h0m3 0h0m17 0h0m10 0h0m9 0h0m13.5 0h0m5 0h0m1 0h0m-106.5 .5h0m0 0h0m27.5 0h0m32 0h0m54 0h0m-109.5 .5h0m8 0h0m2 0h0m18 0h0m10.5 0h0m5 0h0m21 0h0m10.5 0h0m10 0h0m7.5 0h0m-66.5 .5h0m32.5 0h0m5.5 0h0m14.5 0h0m-65 .5h0m3.5 .5h0m10 0h0m5 0h0m2.5 0h0m5 0h0m11 0h0m9 0h0m3.5 0h0m42.5 0h0m-126 .5h0m7 0h0m1.5 0h0m6.5 0h0m5.5 0h0m.5 0h0m4.5 0h0m32.5 0h0m16 0h0m11.5 0h0m1.5 0h0m5.5 0h0m5.5 0h0m0 0h0m35 0h0m-134.5 .5h0m25.5 0h0m17 0h0m59 0h0m1 0h0m13.5 0h0m7 0h0m10 0h0m-73.5 .5h0m.5 0h0m23.5 0h0m24 0h0m-102.5 .5h0m13 0h0m25 0h0m14 0h0m20.5 0h0m9 0h0m-83.5 .5h0m15 0h0m13.5 0h0m7 0h0m1 0h0m30.5 0h0m7 0h0m14.5 0h0m44.5 0h0m-130.5 .5h0m3.5 0h0m49 0h0m24 0h0m17.5 0h0m23.5 0h0m-113 .5h0m3 0h0m41 0h0m34.5 0h0m1.5 0h0m2 0h0m5 0h0m-97 .5h0m20 0h0m15.5 0h0m14 0h0m10 0h0m50 0h0m11.5 0h0m12 0h0m-95 .5h0m5.5 0h0m3.5 0h0m16 0h0m18 0h0m20.5 0h0m19.5 0h0m-106.5 .5h0m3.5 0h0m13.5 0h0m4.5 0h0m8.5 0h0m3 0h0m26.5 0h0m13.5 0h0m12 0h0m11 0h0m3.5 0h0m-88.5 .5h0m11.5 0h0m9 0h0m15 0h0m47 0h0m-93.5 .5h0m1.5 0h0m16.5 0h0m23 0h0m1.5 0h0m19 0h0m2 0h0m13 0h0m3.5 0h0m35 0h0m-129 .5h0m.5 0h0m5.5 0h0m15 0h0m8 0h0m13.5 0h0m14 0h0m18 0h0m13.5 0h0m13 0h0m20 0h0m12 0h0m.5 0h0m-129.5 .5h0m5 0h0m21 0h0m45.5 0h0m8 0h0m16.5 0h0m5 0h0m1.5 0h0m2.5 0h0m16 0h0m-120 .5h0m.5 0h0m8.5 0h0m7 0h0m18 0h0m2.5 0h0m1.5 0h0m15 0h0m4.5 0h0m7 0h0m6 0h0m35.5 0h0m16.5 0h0m3 0h0m-114.5 .5h0m22 0h0m20.5 0h0m0 0h0m3.5 0h0m0 0h0m1 0h0m42.5 0h0m15.5 0h0m-101 .5h0m3.5 0h0m38 0h0m.5 0h0m13 0h0m23 0h0m8.5 0h0m0 0h0m14.5 0h0m-120.5 .5h0m1.5 0h0m4 0h0m13 0h0m.5 0h0m16.5 0h0m12.5 0h0m5 0h0m77 0h0m3 0h0m1.5 0h0m-134 .5h0m9 0h0m1 0h0m4 0h0m93 0h0m0 0h0m2 0h0m1 0h0m3.5 0h0m2.5 0h0m17 0h0m-111.5 .5h0m17 0h0m5.5 0h0m23 0h0m28.5 0h0m14.5 0h0m15 0h0m-90 .5h0m20.5 0h0m33 0h0m29.5 0h0m11 0h0m-124 .5h0m35 0h0m10 0h0m39 0h0m7.5 0h0m4 0h0m25 0h0m-93 .5h0m6.5 0h0m17 0h0m4 0h0m52 0h0m8 0h0m-117.5 .5h0m11.5 0h0m14 0h0m20.5 0h0m24.5 0h0m0 0h0m20 0h0m42.5 0h0m-130.5 .5h0m4.5 0h0m33.5 0h0m24 0h0m8.5 0h0m.5 0h0m4.5 0h0m-78 .5h0m46 0h0m12 0h0m9.5 0h0m3 0h0m3 0h0m23 0h0m1 0h0m35.5 0h0m-112 .5h0m27 0h0m24 0h0m17.5 0h0m8 0h0m13.5 0h0m10.5 0h0m2 0h0m-106 .5h0m9.5 0h0m36 0h0m12.5 0h0m8 0h0m2 0h0m17.5 0h0m1 0h0m-107.5 .5h0m26.5 0h0m4 0h0m17.5 0h0m46.5 0h0m38.5 0h0m-104 .5h0m19 0h0m15.5 0h0m38 0h0m.5 0h0m5 0h0m-58.5 .5h0m3 0h0m10 0h0m1.5 0h0m21.5 0h0m2 0h0m5.5 0h0m5 0h0m3 0h0m5.5 0h0m11.5 0h0m-86.5 .5h0m11 0h0m20.5 0h0m21.5 0h0m10.5 0h0m33 0h0m2 0h0m-126 .5h0m1.5 0h0m69 0h0m24.5 0h0m38 0h0m-111.5 .5h0m7.5 0h0m25 0h0m.5 0h0m3 0h0m14.5 0h0m19.5 0h0m6 0h0m4.5 0h0m-88 .5h0m14.5 0h0m1.5 0h0m22 0h0m26.5 0h0m6.5 0h0m35.5 0h0m-118 .5h0m10 0h0m27 0h0m10 0h0m11 0h0m2.5 0h0m.5 0h0m41.5 0h0m19.5 0h0m4.5 0h0m-117.5 .5h0m37 0h0m37 0h0m5 0h0m2 0h0m24.5 0h0m-104.5 .5h0m15.5 0h0m24.5 0h0m9 0h0m1.5 0h0m1 0h0m22 0h0m11 0h0m23 0h0m-108.5 .5h0m6 0h0m44 0h0m7 0h0m0 0h0m41 0h0m-96 .5h0m3.5 0h0m26.5 0h0m7 0h0m52.5 0h0m9 0h0m3 0h0m-105 .5h0m22 0h0m2.5 0h0m.5 0h0m4.5 0h0m18 0h0m6.5 0h0m4 0h0m2 0h0m17.5 0h0m7.5 0h0m6 0h0m-102.5 .5h0m7.5 0h0m26 0h0m25.5 0h0m32 0h0m1.5 0h0m17 0h0m.5 0h0m3 0h0m1.5 0h0m2.5 0h0m16 0h0m-89 .5h0m21.5 0h0m18.5 0h0m.5 0h0m14.5 0h0m-80.5 .5h0m20.5 0h0m25 0h0m9 0h0m24.5 0h0m1 0h0m5 0h0m5 0h0m3.5 0h0m12.5 0h0m-104.5 .5h0m1.5 0h0m1.5 0h0m15.5 0h0m5 0h0m20 0h0m1 0h0m10.5 0h0m9.5 0h0m4 0h0m-42.5 .5h0m15 0h0m7.5 0h0m6 0h0m1.5 0h0m0 0h0m17 0h0m7 0h0m6.5 0h0m4.5 0h0m7.5 0h0m5.5 0h0m-109 .5h0m8.5 0h0m33 0h0m38 0h0m29 0h0m-121 .5h0m3.5 0h0m56.5 0h0m20.5 0h0m27.5 0h0m2 0h0m12 0h0m-118.5 .5h0m37.5 0h0m3.5 0h0m10.5 0h0m.5 0h0m14 0h0m9 0h0m1.5 0h0m.5 0h0m42.5 0h0m-70 .5h0m2 0h0m51.5 0h0m-96 .5h0m40.5 0h0m19 0h0m14.5 0h0m-70.5 .5h0m33.5 0h0m.5 0h0m6.5 0h0m19.5 0h0m6.5 0h0m10 0h0m29 0h0m-108.5 .5h0m14.5 0h0m.5 0h0m1.5 0h0m3 0h0m18.5 0h0m0 0h0m10 0h0m23.5 0h0m-73.5 .5h0m5 0h0m13.5 0h0m1 0h0m14.5 0h0m18.5 0h0m2.5 0h0m15 0h0m36 0h0m-109 .5h0m37.5 0h0m4 0h0m40 0h0m30 0h0m-107.5 .5h0m24.5 0h0m25 0h0m26.5 0h0m22.5 0h0m-107 .5h0m2.5 0h0m7.5 0h0m45.5 0h0m21.5 0h0m17 0h0m12 0h0m.5 0h0m3 0h0m3 0h0m.5 0h0m0 0h0m8.5 0h0m-126.5 .5h0m29.5 0h0m0 0h0m25 0h0m4 0h0m25 0h0m12.5 0h0m1.5 0h0m3.5 0h0m9.5 0h0m9.5 0h0m13 0h0m-133.5 .5h0m40 0h0m21 0h0m21.5 0h0m2 0h0m20.5 0h0m7.5 0h0m20.5 0h0m-129.5 .5h0m63.5 0h0m57 0h0m12.5 0h0m-130 .5h0m18 0h0m8 0h0m28 0h0m14.5 0h0m7.5 0h0m-52 .5h0m.5 0h0m5.5 0h0m19 0h0m24 0h0m.5 0h0m20.5 0h0m6.5 0h0m-106 .5h0m6 0h0m49 0h0m31 0h0m47 0h0m-134.5 .5h0m27 0h0m12.5 0h0m52.5 0h0m8 0h0m5.5 0h0m5 0h0m5 0h0m8 0h0m2 0h0m3.5 0h0m4 0h0m-114 .5h0m4.5 0h0m40.5 0h0m7 0h0m23 0h0m.5 0h0m35.5 0h0m-129.5 .5h0m1 0h0m19 0h0m5 0h0m12 0h0m0 0h0m2 0h0m19.5 0h0m21 0h0m3.5 0h0m15 0h0m11.5 0h0m2.5 0h0m8 0h0m13 0h0m1 0h0m-115 .5h0m49.5 0h0m56 0h0m7 0h0m-121 .5h0m14.5 0h0m12 0h0m10 0h0m10 0h0m14.5 0h0m2 0h0m1.5 0h0m5 0h0m2.5 0h0m2 0h0m22.5 0h0m6 0h0m5.5 0h0m2.5 0h0m-120.5 .5h0m18.5 0h0m.5 0h0m29 0h0m17.5 0h0m.5 0h0m.5 0h0m33.5 0h0m7 0h0m2 0h0m7.5 0h0m16.5 0h0m-131 .5h0m4.5 0h0m6.5 0h0m2 0h0m38 0h0m34.5 0h0m10 0h0m12.5 0h0m8.5 0h0m9.5 0h0m7 0h0m-117.5 .5h0m25.5 0h0m37.5 0h0m23 0h0m.5 0h0m10 0h0m12 0h0m-124.5 .5h0m5.5 0h0m4 0h0m2.5 0h0m5 0h0m20.5 0h0m1 0h0m36 0h0m4 0h0m37.5 0h0m17 0h0m-119 .5h0m31 0h0m36.5 0h0m12.5 0h0m10.5 0h0m25.5 0h0m-121.5 .5h0m19 0h0m6 0h0m5.5 0h0m13.5 0h0m1 0h0m2 0h0m27.5 0h0m2 0h0m-76 .5h0m32 0h0m10.5 0h0m32 0h0m11 0h0m26.5 0h0m-110 .5h0m13.5 0h0m2 0h0m25 0h0m13 0h0m.5 0h0m0 0h0m27.5 0h0m26.5 0h0m5.5 0h0m-121 .5h0m14 0h0m7.5 0h0m16 0h0m11.5 0h0m11 0h0m1 0h0m6 0h0m11 0h0m7.5 0h0m-85 .5h0m23 0h0m8 0h0m5 0h0m1.5 0h0m14 0h0m5.5 0h0m17 0h0m32 0h0m-85 .5h0m28 0h0m27 0h0m-79.5 .5h0m6.5 0h0m29.5 0h0m4.5 0h0m2.5 0h0m90 0h0m-123.5 .5h0m9.5 0h0m10 0h0m5.5 0h0m11.5 0h0m1 0h0m66 0h0m-92 .5h0m28 0h0m1 0h0m57 0h0m-98 .5h0m22.5 0h0m60 0h0m9 0h0m1.5 0h0m.5 0h0m12.5 0h0m-97.5 .5h0m11 0h0m5 0h0m16 0h0m7 0h0m14.5 0h0m2 0h0m3 0h0m16.5 0h0m16.5 0h0m.5 0h0m4.5 0h0m7 0h0m-118 .5h0m26 0h0m4.5 0h0m14 0h0m17 0h0m32.5 0h0m-64.5 .5h0m12.5 0h0m3 0h0m1.5 0h0m4.5 0h0m0 0h0m46 0h0m3.5 0h0m-89.5 .5h0m14.5 0h0m8.5 0h0m15.5 0h0m7 0h0m8.5 0h0m9.5 0h0m1 0h0m48 0h0m-110.5 .5h0m12 0h0m44 0h0m-35.5 .5h0m35.5 0h0m15 0h0m16.5 0h0m4.5 0h0m-59.5 .5h0m11 0h0m6 0h0m14 0h0m43.5 0h0m-109.5 .5h0m47.5 0h0m.5 0h0m4.5 0h0m.5 0h0m10 0h0m6 0h0m4.5 0h0m1.5 0h0m19.5 0h0m7.5 0h0m-98 .5h0m10.5 0h0m35.5 0h0m14 0h0m2 0h0m31 0h0m-111.5 .5h0m6 0h0m9.5 0h0m5 0h0m2.5 0h0m13.5 0h0m4.5 0h0m16.5 0h0m1 0h0m8 0h0m15 0h0m13 0h0m22.5 0h0m16 0h0m-100 .5h0m31 0h0m8.5 0h0m2 0h0m10.5 0h0m17.5 0h0m8 0h0m-111.5 .5h0m10 0h0m9.5 0h0m11.5 0h0m4 0h0m3.5 0h0m0 0h0m3.5 0h0m9 0h0m7.5 0h0m10.5 0h0m17 0h0m12.5 0h0m10 0h0m19 0h0m0 0h0m5.5 0h0m-117 .5h0m70 0h0m.5 0h0m1.5 0h0m-74 .5h0m6 0h0m-19.5 .5h0m12 0h0m4.5 0h0m6 0h0m22.5 0h0m39.5 0h0m5 0h0m4 0h0m25 0h0m3 0h0m2.5 0h0m9 0h0m-115 .5h0m2.5 0h0m1 0h0m2.5 0h0m9 0h0m48 0h0m21 0h0m14.5 0h0m-63.5 .5h0m11.5 0h0m20 0h0m1.5 0h0m8.5 0h0m29 0h0m-90 .5h0m45.5 0h0m1 0h0m3.5 0h0m16.5 0h0m25.5 0h0m5 0h0m-117.5 .5h0m27 0h0m13.5 0h0m13.5 0h0m27.5 0h0m2.5 0h0m2 0h0m31 0h0m-111 .5h0m60 0h0m4 0h0m5 0h0m31.5 0h0m.5 0h0m-120.5 .5h0m0 0h0m2 0h0m38.5 0h0m14 0h0m40 0h0m30 0h0m4 0h0m4.5 0h0m0 0h0m2 0h0m-95.5 .5h0m35 0h0m9 0h0m11.5 0h0m30 0h0m1 0h0"/><pattern id="pb0" patternUnits="userSpaceOnUse" width="131" height="117"><use href="#dt0" stroke="#ff7f50" stroke-width="2.4" stroke-linecap="round" fill="none"/></pattern><pattern id="pb1" patternUnits="userSpaceOnUse" width="127" height="113"><use href="#dt1" stroke="#ff7f50" stroke-width="2.4" stroke-linecap="round" fill="none"/></pattern><pattern id="pb2" patternUnits="userSpaceOnUse" width="137" height="109"><use href="#dt2" stroke="#ff7f50" stroke-width="2.4" stroke-linecap="round" fill="none"/></pattern><pattern id="pb3" patternUnits="userSpaceOnUse" width="113" height="131"><use href="#dt3" stroke="#ff7f50" stroke-width="2.4" stroke-linecap="round" fill="none"/></pattern><pattern id="pb4" patternUnits="userSpaceOnUse" width="119" height="127"><use href="#dt4" stroke="#ff7f50" stroke-width="2.4" stroke-linecap="round" fill="none"/></pattern><pattern id="pb5" patternUnits="userSpaceOnUse" width="109" height="137"><use href="#dt5" stroke="#ff7f50" stroke-width="2.4" stroke-linecap="round" fill="none"/></pattern><pattern id="pb6" patternUnits="userSpaceOnUse" width="139" height="107"><use href="#dt6" stroke="#ff7f50" stroke-width="2.4" stroke-linecap="round" fill="none"/></pattern><pattern id="pb7" patternUnits="userSpaceOnUse" width="123" height="121"><use href="#dt7" stroke="#ff7f50" stroke-width="2.4" stroke-linecap="round" fill="none"/></pattern><pattern id="pb8" patternUnits="userSpaceOnUse" width="117" height="133"><use href="#dt8" stroke="#ff7f50" stroke-width="2.4" stroke-linecap="round" fill="none"/></pattern><pattern id="pb9" patternUnits="userSpaceOnUse" width="129" height="111"><use href="#dt9" stroke="#ff7f50" stroke-width="2.4" stroke-linecap="round" fill="none"/></pattern><pattern id="pb10" patternUnits="userSpaceOnUse" width="111" height="129"><use href="#dt10" stroke="#ff7f50" stroke-width="2.4" stroke-linecap="round" fill="none"/></pattern><pattern id="pb11" patternUnits="userSpaceOnUse" width="133" height="119"><use href="#dt11" stroke="#ff7f50" stroke-width="2.4" stroke-linecap="round" fill="none"/></pattern><pattern id="pd0" patternUnits="userSpaceOnUse" width="131" height="117"><use href="#dt0" stroke="#2e8b57" stroke-width="2.4" stroke-linecap="round" fill="none"/></pattern><pattern id="pd1" patternUnits="userSpaceOnUse" width="127" height="113"><use href="#dt1" stroke="#2e8b57" stroke-width="2.4" stroke-linecap="round" fill="none"/></pattern><pattern id="pd2" patternUnits="userSpaceOnUse" width="137" height="109"><use href="#dt2" stroke="#2e8b57" stroke-width="2.4" stroke-linecap="round" fill="none"/></pattern><pattern id="pd3" patternUnits="userSpaceOnUse" width="113" height="131"><use href="#dt3" stroke="#2e8b57" stroke-width="2.4" stroke-linecap="round" fill="none"/></pattern><pattern id="pd4" patternUnits="userSpaceOnUse" width="119" height="127"><use href="#dt4" stroke="#2e8b57" stroke-width="2.4" stroke-linecap="round" fill="none"/></pattern><pattern id="pd5" patternUnits="userSpaceOnUse" width="109" height="137"><use href="#dt5" stroke="#2e8b57" stroke-width="2.4" stroke-linecap="round" fill="none"/></pattern><pattern id="pd6" patternUnits="userSpaceOnUse" width="139" height="107"><use href="#dt6" stroke="#2e8b57" stroke-width="2.4" stroke-linecap="round" fill="none"/></pattern><pattern id="pd7" patternUnits="userSpaceOnUse" width="123" height="121"><use href="#dt7" stroke="#2e8b57" stroke-width="2.4" stroke-linecap="round" fill="none"/></pattern><pattern id="pd8" patternUnits="userSpaceOnUse" width="117" height="133"><use href="#dt8" stroke="#2e8b57" stroke-width="2.4" stroke-linecap="round" fill="none"/></pattern><pattern id="pd9" patternUnits="userSpaceOnUse" width="129" height="111"><use href="#dt9" stroke="#2e8b57" stroke-width="2.4" stroke-linecap="round" fill="none"/></pattern><pattern id="pd10" patternUnits="userSpaceOnUse" width="111" height="129"><use href="#dt10" stroke="#2e8b57" stroke-width="2.4" stroke-linecap="round" fill="none"/></pattern><pattern id="pd11" patternUnits="userSpaceOnUse" width="133" height="119"><use href="#dt11" stroke="#2e8b57" stroke-width="2.4" stroke-linecap="round" fill="none"/></pattern></defs>
<defs><clipPath id="clipA"><rect x="90" y="29.3" width="506" height="379"/></clipPath></defs>
<g clip-path="url(#clipA)"><rect x="90" y="29.3" width="506" height="379" fill="#ca3b37"/>
<path fill="#eb7d62" fill-rule="evenodd" d="M99 408.3l488 0 9-20 0-339 -9-20 -488 0 -9 20 0 339z"/>
<path fill="#f7b093" fill-rule="evenodd" d="M115.4 408.3l455.2 0 6.9-11.5 7.7-15.3 5.7-13.9 5.1-14.8 0-268 -5.1-14.8 -5.7-13.9 -7.7-15.3 -6.9-11.5 -455.2 0 -6.9 11.5 -7.7 15.3 -5.7 13.9 -5.1 14.8 0 235.4 0 32.6 5.1 14.8 5.7 13.9 7.7 15.3z"/>
<path fill="#ecd3c5" fill-rule="evenodd" d="M134.8 404.5l3.8 3.8 408.8 0 7.7-8.3 5.5-7 7.5-11.5 7.5-13.8 5.1-11.6 6-16.7 4.5-15.3 4.8-20.6 0-169.4 -5.8-24.4 -4.4-14.4 -5.1-13.8 -5.1-11.6 -5.2-10 -7.1-11.5 -8.2-10.8 -7.7-8.3 -408.8 0 -7.7 8.3 -5.5 7 -7.5 11.5 -7.5 13.8 -5.1 11.6 -6 16.7 -4.5 15.3 -4.8 20.6 0 169.4 4.8 20.6 3.3 11.5 5.2 15.3 4.7 11.5 7.6 15.2 5.1 8.5 5.1 7.4z"/>
<path fill="#ccd9ed" fill-rule="evenodd" d="M177.1 404.5l13.8 3.8 58 0 40.4-5.7 20.5-2.4 20.4-1.4 15.4-.2 15.3 .5 20.4 1.6 55.8 7.6 58 0 14-3.9 10.2-4.5 10.3-6.1 10.2-8.4 10.2-11.1 5.1-6.9 5.1-8 5.1-9.4 4.9-10.6 5.8-15.3 5.6-19.2 3.4-15.3 2.1-11.5 3.2-26.8 1.3-26.8 -.5-26.8 -2-22.9 -3.3-23 -5.2-23 -5.9-19.1 -4.3-11 -5.1-11.1 -5.1-9.4 -5.1-8 -10.2-12.8 -10.2-9.7 -10.3-7.2 -6.5-3.5 -8.8-3.8 -14-3.9 -58 0 -55.8 7.6 -20.4 1.6 -15.3 .5 -15.4-.2 -20.4-1.4 -20.5-2.4 -40.4-5.7 -58 0 -14 3.9 -10.2 4.5 -10.3 6.1 -10.2 8.4 -7.3 7.7 -8 10.3 -5.1 8 -4.7 8.5 -5.3 11.5 -3.1 7.7 -7.4 23 -5.7 26.7 -2.3 15.3 -1.9 19.2 -1 30.6 .3 15.3 1 15.3 1.6 15.4 2.3 15.3 5.7 26.7 7.4 23 3.1 7.7 5.3 11.5 4.7 8.5 5.1 8 8 10.3 7.3 7.7 5.1 4.5 10.3 7.2 6.5 3.5z"/>
<path fill="#a3c2fe" fill-rule="evenodd" d="M192.2 377.7l15.4 2.1 10.2 .3 10.2-.4 20.4-2.3 40.9-6.9 20.5-2.9 20.4-1.7 15.4-.3 15.3 .6 20.4 2 66.5 10.6 15.3 1.2 15.3-.2 15.4-2.1 12.4-3.9 8-3.6 5.1-2.9 10.3-7.7 10.2-10.5 5.1-6.7 4.5-6.8 6.2-11.5 6.4-15.3 4.9-15.3 4.5-19.2 3.4-23 1.4-19.1 .2-23 -1.2-19.1 -3.1-23 -4.1-19.1 -6-19.2 -6.9-16.3 -5.7-10.5 -4.5-6.8 -5.1-6.7 -5.1-5.7 -10.3-9 -5.1-3.5 -10.2-5.4 -5.1-2 -10.2-3 -10.2-1.7 -10.3-.7 -10.2 .1 -15.3 1.2 -66.5 10.6 -20.4 2 -15.3 .6 -15.4-.3 -20.4-1.7 -20.5-2.9 -40.9-6.9 -15.3-1.9 -15.3-.8 -10.2 .3 -15.4 2.1 -12.4 3.9 -8 3.6 -5.1 2.9 -10.3 7.7 -10.2 10.5 -5.1 6.7 -6.7 10.7 -3.5 6.6 -5.1 11.5 -5.1 14.5 -2.7 9.5 -2.4 10.3 -2.3 12.6 -2.1 15.4 -1 11.4 -.7 15.4 .1 15.3 .8 15.2 1.2 11.6 4 24.1 5.7 21.8 4.5 12.5 4.6 10.5 8.7 15.3 7.1 9.7 5 5.6 10.4 9.1 5.1 3.5 10.2 5.4 5.1 2z"/>
<path fill="#779af7" fill-rule="evenodd" d="M193.4 339.4l9 1.9 10.3 1 10.2-.1 10.2-1 20.5-3.5 51.1-11.4 20.4-2.9 15.3-.8 15.4 .4 20.4 2.4 20.5 4 40.9 9.3 15.3 2.5 10.2 1 15.3-.3 10.3-1.5 10.2-3.1 10.2-4.9 10.2-7.5 5.1-4.9 5.2-6 3.7-5.2 6.5-11.2 5.2-11.8 4.9-15.3 2.6-11.5 2.4-15.3 1.2-15.3 .1-15.3 -.9-15.4 -2.1-15.3 -3.2-14.8 -5-15.8 -5.2-11.8 -5.1-9.1 -5.1-7.3 -5.4-6.2 -8.5-7.7 -6.6-4.5 -6.1-3.2 -9.2-3.5 -5.1-1.3 -10.3-1.5 -15.3-.3 -15.3 1.7 -15.4 2.8 -51.1 11.4 -15.3 2.3 -15.3 1.3 -20.5-.3 -20.4-2.4 -20.5-4 -40.9-9.3 -15.3-2.5 -10.2-1 -15.3 .3 -10.3 1.5 -10.2 3.1 -10.2 4.9 -10.2 7.5 -5.1 4.9 -5.2 6 -5.1 7.3 -3.2 5.6 -7.1 15.3 -5.8 19.1 -2.4 11.5 -1.7 11.5 -1.3 19.2 .6 22.9 2.4 19.2 4.4 19.1 5.4 15.3 3.6 8 5.1 9.1 5.1 7.3 5.2 6 5.1 4.9 5.1 4.1 10.2 6.1z"/>
<path fill="#4e68d8" fill-rule="evenodd" d="M197 282l5.4 1.9 5.2 1.2 5.1 .6 10.2-.2 10.2-1.8 6.5-1.7 8.8-3.1 10.3-4.4 21.5-11.7 12.2-7.6 16.8-11.5 31.2-23 0-3.8 -25.8-19.2 -22.2-15.3 -18.7-11.5 -20.1-10.1 -15.4-5.6 -10.2-2.4 -5.1-.7 -10.2-.2 -5.1 .6 -10.3 3 -7.2 4 -3 2 -5.1 4.7 -5.1 6.4 -3.5 6 -3.5 7.7 -3.2 10.3 -1.6 8.8 -.9 11.5 .4 11.5 1.8 11.5 2.2 7.6 3.2 8.4 5.1 9.1 5.1 6.4 5.1 4.7 5.1 3.5zM446.4 282l6.5 1.7 10.2 1.8 10.2 .2 10.3-1.8 5.1-1.8 5.1-2.5 5.1-3.5 5.1-4.7 5.1-6.4 5.1-9.1 4.4-12.2 1.7-7.7 1.1-7.6 .2-15.3 -2-15.4 -3.5-11.4 -1.9-4.6 -3.8-6.9 -6.4-8.6 -5.1-4.7 -5.1-3.5 -5.1-2.5 -5.1-1.8 -10.3-1.8 -5.1-.1 -10.2 1 -15.3 4 -15.4 6.3 -15 7.8 -18.7 11.5 -22.2 15.3 -25.8 19.2 0 3.8 25.8 19.2 22.2 15.3 12.2 7.6 13.5 7.7 13.1 6.3z"/></g>
<path d="M454.9 215.2C455.03 214.13 456.37 210.8 455.7 208.8C455.03 206.8 453.05 204.27 450.9 203.2C448.75 202.13 445.62 201.73 442.8 202.4C439.98 203.07 436.4 204.52 434 207.2C431.6 209.88 428.8 214.48 428.4 218.5C428 222.52 429.47 227.55 431.6 231.3C433.73 235.05 437.72 239.12 441.2 241C444.68 242.88 448.47 243.13 452.5 242.6C456.53 242.07 461.38 240.75 465.4 237.8C469.42 234.85 474.07 229.73 476.6 224.9C479.13 220.07 480.6 214.17 480.6 208.8C480.6 203.43 479.13 197.38 476.6 192.7C474.07 188.02 469.95 183.25 465.4 180.7C460.85 178.15 454.93 177.4 449.3 177.4C443.67 177.4 437.23 178.42 431.6 180.7C425.97 182.98 420.07 186.68 415.5 191.1C410.93 195.52 406.35 201.57 404.2 207.2C402.05 212.83 401.78 219 402.6 224.9C403.42 230.8 405.88 237.25 409.1 242.6C412.32 247.95 417.08 253.25 421.9 257C426.72 260.75 432.9 263.48 438 265.1C443.1 266.72 447.13 266.97 452.5 266.7C457.87 266.43 464.57 265.92 470.2 263.5C475.83 261.08 481.48 257.03 486.3 252.2C491.12 247.37 496.02 240.93 499.1 234.5C502.18 228.07 504.27 220.83 504.8 213.6C505.33 206.37 504.32 198.07 502.3 191.1C500.28 184.13 496.72 177.17 492.7 171.8C488.68 166.43 483.57 162.12 478.2 158.9C472.83 155.68 466.67 154.1 460.5 152.5C454.33 150.9 449.77 150.37 441.2 149.3C432.63 148.23 419.82 146.9 409.1 146.1C398.38 145.3 387.63 144.9 376.9 144.5C366.17 144.1 355.42 143.57 344.7 143.7C333.98 143.83 321.97 144.5 312.6 145.3C303.23 146.1 296.02 146.77 288.5 148.5C280.98 150.23 274.22 152.62 267.5 155.7C260.78 158.78 254.08 162.97 248.2 167C242.32 171.03 236.15 176.22 232.2 179.9C228.25 183.58 225.78 187.57 224.5 189.1" fill="none" stroke="#11cc11" stroke-width="3.6" stroke-linecap="round"/>
<path d="M216.6 201.9L215.6 186.2L231.2 192.6Z" fill="#11cc11"/>
<rect x="90" y="29.3" width="506" height="379" fill="none" stroke="#000" stroke-width="3.3"/>
<path d="M90 409.9V414.3M88.4 408.3H84M216.5 409.9V414.3M88.4 313.55H84M343 409.9V414.3M88.4 218.8H84M469.5 409.9V414.3M88.4 124.05H84M596 409.9V414.3M88.4 29.3H84" stroke="#444" stroke-width="1.3" fill="none"/>
<text x="90" y="438.8" text-anchor="middle" style="font-family:'DejaVu Sans', sans-serif;font-size:24.2px" fill="#2a2a2a">−2</text>
<text x="42.63" y="417.1" style="font-family:'DejaVu Sans', sans-serif;font-size:24.2px;" fill="#2a2a2a">−2</text>
<text x="216.5" y="438.8" text-anchor="middle" style="font-family:'DejaVu Sans', sans-serif;font-size:24.2px" fill="#2a2a2a">−1</text>
<text x="42.38" y="322.35" style="font-family:'DejaVu Sans', sans-serif;font-size:24.2px;" fill="#2a2a2a">−1</text>
<text x="343" y="438.8" text-anchor="middle" style="font-family:'DejaVu Sans', sans-serif;font-size:24.2px" fill="#2a2a2a">0</text>
<text x="62.11" y="227.6" style="font-family:'DejaVu Sans', sans-serif;font-size:24.2px;" fill="#2a2a2a">0</text>
<text x="469.5" y="438.8" text-anchor="middle" style="font-family:'DejaVu Sans', sans-serif;font-size:24.2px" fill="#2a2a2a">1</text>
<text x="62.71" y="132.85" style="font-family:'DejaVu Sans', sans-serif;font-size:24.2px;" fill="#2a2a2a">1</text>
<text x="596" y="438.8" text-anchor="middle" style="font-family:'DejaVu Sans', sans-serif;font-size:24.2px" fill="#2a2a2a">2</text>
<text x="62.95" y="38.1" style="font-family:'DejaVu Sans', sans-serif;font-size:24.2px;" fill="#2a2a2a">2</text>
<rect x="628" y="360.93" width="18.7" height="47.67" fill="#4e68d8"/>
<rect x="628" y="313.55" width="18.7" height="47.67" fill="#779af7"/>
<rect x="628" y="266.18" width="18.7" height="47.67" fill="#a3c2fe"/>
<rect x="628" y="218.8" width="18.7" height="47.67" fill="#ccd9ed"/>
<rect x="628" y="171.43" width="18.7" height="47.67" fill="#ecd3c5"/>
<rect x="628" y="124.05" width="18.7" height="47.67" fill="#f7b093"/>
<rect x="628" y="76.68" width="18.7" height="47.67" fill="#eb7d62"/>
<rect x="628" y="29.3" width="18.7" height="47.67" fill="#ca3b37"/>
<rect x="628" y="29.3" width="18.7" height="379" fill="none" stroke="#000" stroke-width="3.3"/>
<text x="657.9" y="369.3" style="font-family:'DejaVu Sans', sans-serif;font-size:23px;" fill="#2a2a2a">0</text>
<text x="656.87" y="290.35" style="font-family:'DejaVu Sans', sans-serif;font-size:23px;" fill="#2a2a2a">1</text>
<text x="657.67" y="211.4" style="font-family:'DejaVu Sans', sans-serif;font-size:23px;" fill="#2a2a2a">2</text>
<text x="657.67" y="132.45" style="font-family:'DejaVu Sans', sans-serif;font-size:23px;" fill="#2a2a2a">3</text>
<text x="658.25" y="53.5" style="font-family:'DejaVu Sans', sans-serif;font-size:23px;" fill="#2a2a2a">4</text>
<path d="M648.3 360.9H652.7M648.3 281.95H652.7M648.3 203H652.7M648.3 124.05H652.7M648.3 45.1H652.7" stroke="#000" stroke-width="2" fill="none"/>
<defs><clipPath id="clip_pb"><rect x="92.39999999999999" y="504.8" width="558.6999999999999" height="361.79999999999995"/></clipPath><filter id="soft_pb" x="0" y="0" width="1" height="1"><feGaussianBlur stdDeviation="0.45"/></filter></defs><g filter="url(#soft_pb)"><g clip-path="url(#clip_pb)">
<path fill="url(#pb0)" d="M276.6 523l12-1.7 12 1 12 3.8 11.2 6.9 7.7 8 5.8 10 2.4 8 1.7 16 1.6 6 1.6 2.4 4 3 8 2.3 10-.1 13.8-3.6 38.2-19.4 24-9.6 18-4.5 24-3 40-.9 32 2.4 14 3.3 12 4.6 10 5.5 8 5.9 6.1 5.7 6.8 8 6.3 10 3.9 8 3.6 10 3 12 2 12 1.6 18 .3 56 -2.2 30 -10.9 52 -2.9 8 -5.4 8 -9 8 -11.2 6.5 -16 6.2 -16 4 -18 2.6 -24 1.5 -20-.3 -22-2.1 -16-3.1 -10-2.8 -10-3.7 -12-6.2 -6.6-4.6 -6.4-6 -4.6-6 -8.2-14 -7.4-8 -6-4 -4.8-2.2 -6-1.5 -6.6-.3 -9.1 2 -8.3 3.9 -19.5 14.1 -20 16 -8.4 8 -4.6 6 -9.8 16 -9.7 10.9 -12 8.7 -16 7.2 -10 2.9 -12.9 2.3 -33.1-.5 -12-2.5 -12-4.1 -12-6 -9.6-6.9 -9.2-10 -5.5-10 -2.6-8 -4.5-20 -13.4-30 -3.7-12 -2.4-12 -2.4-30 .3-52 2.4-24 2-10 3.7-12 5.5-12 8.1-12 9.3-9.6 10-7.3 16-7.8 14-4.1 14-2.2 26-1.8 10-2.5 6.7-4.7 11.3-14.3 8-7.8 10-6.3z"/>
<path fill="url(#pb1)" d="M278.1 531l10.5-1.6 10 .7 10 3.2 10 6.3 6.7 7.4 4.2 8 2.3 10 1.1 16 1.7 4.8 2.5 3.2 3.5 2.5 6 2.5 6 1.3 12 .2 12-2.5 10.5-4 35.5-17 22-7.9 18-4 22-2.6 40-.9 20 1.1 12 1.6 10 2.5 10 3.8 10 5.5 7.9 5.9 6.2 6 6.4 8 5.9 10 4.2 10 3.1 10 2.7 14 2.1 28 0 48 -1 16 -1.8 14 -3.2 14 -9.6 32 -4.2 10 -4.2 6 -8.5 7.7 -10 5.8 -14 5.5 -16 3.8 -18 2.3 -20 .9 -20-.6 -18-2.2 -20-4.8 -16-6.9 -6-3.9 -6.8-5.6 -17.7-22 -11.1-10 -6.5-4 -7.9-3.3 -6-1.3 -8 .1 -9.5 2.5 -11.3 6 -46.6 34 -8 8 -11 18 -6.4 8 -11.2 9.1 -12 6.2 -12 4 -12 2.2 -14 .9 -12-.7 -12-2.2 -12-3.8 -10-4.8 -9.7-6.9 -7.5-8 -5.6-10 -2.4-8 -3.8-20 -3-7.4 -11.3-22.6 -4-12 -2.5-12 -2.4-28 .1-48 2.6-26 4.6-18 5.2-12 6.4-10 9.2-10 10.1-7.6 14-6.9 14-4.1 14-2 28-1.9 10-2.5 6.7-5 11.1-16 6.2-6.6 8-5.6z"/>
<path fill="url(#pb2)" d="M282.1 539l8.5-.9 8 1 8 3.1 6.6 4.8 4.9 6 3.5 8 1 6 .8 16 2.2 6 3.3 4 5.7 3.9 6 2.5 8 1.9 12 .6 14-2.2 13.4-4.7 28.6-13 22-8 24-5.7 24-2.7 36-.9 30 2.4 10 2.4 10 3.8 8 4.4 8 5.9 7.3 7.4 5.9 8 5.3 10 3.8 10 3 12 1.8 12 1.5 32 -.4 40 -1.2 14 -2.2 14 -3.9 14 -10 26 -3.7 8 -5.6 8 -7.6 6.9 -10 5.9 -12 4.5 -14 3.2 -16 2.1 -18 .7 -18-.8 -16-2.2 -20-5.5 -14-7.1 -10-8 -20.9-21.7 -7.2-6 -8.9-6 -13-5.7 -6-1.1 -6-.1 -10 2.2 -10.1 4.7 -33.9 23.4 -25.8 16.6 -7.5 8 -8.9 16 -6.1 8 -9.7 8.2 -12 6.2 -10 3.1 -10 1.9 -12 .7 -12-.8 -10-2 -10-3.4 -8-4 -8-5.6 -7.5-8.3 -4.2-8 -1.8-6 -2.5-16.9 -2-7.1 -14.8-28 -4.3-12 -2.7-12 -1.5-12 -.9-16 .2-46 2.5-24 4.9-18 5.8-12 5.5-8 7.5-8 9.8-7.3 12-5.9 14-4 14-1.8 30-1.9 6.6-1.1 5.4-2 4-2.7 3-3.3 8.4-14 6.6-7.8 8-5.5z"/>
<path fill="url(#pb3)" d="M282.1 551l6.5-1.4 6 .5 6 2.3 3.6 2.6 3.3 4 2.7 6 2 20 1.5 4 2.6 4 6.3 5.3 8 4.3 8 2.8 10 2 14 .2 12-2.1 13.5-4.5 24.5-10.6 24-8.4 22-5.3 24-3.2 36-1.4 30 2.2 10 2.2 8 2.9 8 4.1 6 4.1 6.1 5.4 6.7 8 5.9 10 4 10 2.8 10 2.1 12 1.7 30 -.5 42 -1.3 14 -2.1 12 -3.5 12 -4.9 12 -8 16 -7 10.8 -6 6.3 -8 5.6 -10 4.6 -12 3.4 -14 2.2 -16 1.1 -16-.4 -16-2 -18-4.7 -14-6.7 -10-7.2 -26.6-23 -17.6-12 -7.8-3.7 -7.5-2.3 -6.5-.8 -6 .3 -9.5 2.5 -8.5 4 -38 25 -30.5 17 -4.6 4 -3.1 4 -8 16 -5.7 8 -8.1 7.1 -8.8 4.9 -9.2 3.2 -8 1.7 -10 .8 -10-.4 -10-1.8 -8-2.6 -8-3.9 -6-4.3 -6-6.3 -3.8-6.4 -2.5-8 -1.9-16 -1.5-6 -2.8-6 -14.6-24 -3.9-10 -3.4-14 -2.4-26 .1-44 2.2-22 4.8-18 4.6-10 6.8-10 8-8 8.3-5.8 12-5.5 12-3 18-1.9 30-1.6 12-2.8 4-2.2 4-3.6 12-19.1 4-3.6z"/>
<path fill="url(#pb4)" d="M477.9 581l22.7-1.7 24 0 22 2 12 2.8 12 5.6 10 7.7 8 9.6 6.4 12 5.3 18 2.5 22 .3 44 -1.9 26 -3.5 16 -6.5 16 -12.4 20 -10.2 11 -8 5.3 -8 3.6 -20 4.6 -12 1.1 -14 0 -12-1 -12-2.2 -14-4.4 -12-6 -45-32 -13.1-8 -13.9-5.3 -12-.9 -10 2.1 -9.3 4.1 -42.7 26.7 -36 17.3 -4.8 4 -3.1 4 -6.9 16 -5.2 8 -6.7 6 -7.3 4.2 -8 2.8 -8 1.5 -10 .4 -8-.8 -8-2 -8-3.5 -6-4.1 -4.5-4.5 -2.8-4 -2.5-6 -2.6-20 -1.8-6 -3.3-6 -13.1-18 -7-14 -3.9-14 -2.2-18 -.4-48 1.1-16 1.9-12 3.4-12 4.6-10 5.3-8 7.8-8.1 12-7.9 14-4.9 20-2.6 34-1.2 12-1.1 10-2.2 14-5.2 4-.7 6 1.8 17.6 14.1 16.4 8 10 3.5 10 2.2 8 .7 10-.2 10-1.7 9.1-2.5 28.9-11.4 28-9.2 20-4.6z"/>
<path fill="url(#pb5)" d="M484.8 587l21.8-1.3 20 .3 18 1.9 12 2.9 10 4.7 9.7 7.5 8 10 5.1 10 4.7 16 2.4 20 .4 44 -1.9 24 -3.6 16 -6 14 -9.4 14 -11.4 12 -6 4.3 -8 4 -18 4.6 -12 1.1 -12 .1 -12-.9 -10-1.6 -14-4.2 -14-6.5 -20-11.8 -30-19.3 -12-6.6 -12-4.1 -12-.7 -8 1.5 -10 3.9 -46 27.6 -14 6.4 -22.6 8.2 -9.4 4.7 -4.2 3.3 -3.1 4 -6.1 16 -3.5 6 -5.1 5.2 -6 3.6 -12 3.5 -12-.2 -6-1.4 -6-2.5 -8-6.3 -2.7-3.9 -2.3-6 -1.8-16 -2.9-8 -4.4-6 -14.2-16 -8.1-14 -4.5-14 -2.2-14 -.9-18 0-30 .9-16 1.7-12 3.3-12 4.5-10 5.6-8.3 7.8-7.7 6.2-4.3 8-3.8 8-2.5 10-1.7 22-1.5 48-.1 10 .9 8 1.7 46 15.3 12 1.8 12 0 10-1.4 9.5-2.4 32.5-11.8 30-9.1 20-4.2z"/>
<path fill="url(#pb6)" d="M497.5 593l19.1-.5 18 1.2 14 2.3 10 3.5 8.9 5.5 8 8 6.2 10 4.6 12 3.3 18 1 22 -.5 36 -3 22 -5.6 16 -7.6 12 -11.3 11.6 -12 7.5 -14 4.4 -16 2.2 -18-.3 -18-3 -16-5.2 -22-10 -16-8.6 -24-14.7 -10-5.1 -12-3.8 -12-.6 -10 2.1 -10 4.2 -38 22.5 -16 7.9 -14 5.1 -26.9 7.8 -10.5 4 -6.9 4 -4.2 4 -5.5 10.6 -4 4.7 -4 1.9 -6 .6 -6-1.6 -2.8-2.2 -2.3-4 -2.8-10 -2.2-4 -3.7-4 -16.2-12.2 -8-7.1 -7.2-8.7 -4.5-8 -5.2-16 -2.4-18 -.3-40 1.8-22 4.2-16 6.2-12 9.1-10 10.3-6.5 12-3.9 18-2.3 20-.6 28 1.2 14 1.4 12 2.1 48 13.1 12 1.5 10-.1 10-1.2 11.7-2.7 32.3-11 36-10 24-4.5z"/>
<path fill="url(#pb7)" d="M491.8 601l18.8-1 16 .5 14 1.8 12 3.2 8 4.3 8 7.2 5.6 8 4.4 10 3.4 14 1.7 20 -.1 36 -2.4 22 -4.3 14 -6.3 11.2 -10 10.4 -10 6.1 -16 4.9 -16 2.1 -16-.4 -18-3 -20-5.8 -18-7.2 -16-8.1 -24-14.1 -10-4.8 -10-3.2 -8-1 -12 1.3 -12 4.2 -44 24.9 -20 8.8 -24 6.7 -34 5.8 -10 .5 -10-1 -12-2.9 -10-3.8 -8-4.9 -6-5.2 -6-7.4 -4-7.4 -4.6-14.7 -1.9-16 -.3-38 1.8-20 3.8-14 5.2-10.4 8-9.1 10-6.4 10-3.1 16-2.5 18-.6 20 .9 18 1.9 16 2.8 50 12.4 10 1.2 10 0 10-1 12-2.5 34-10.6 38-10.3 20-4z"/>
<path fill="url(#pb8)" d="M503.1 609l13.5-.2 12 .8 12 2.1 10 3.2 6.8 4.1 6.1 6 5.1 8 3.2 8 3 14 1.2 18 -.2 32 -2.1 18 -3.6 12 -5.5 10 -7.7 8 -8.3 4.9 -16 4.6 -16 1.7 -18-.8 -20-3.6 -16-4.6 -16-6.3 -15.5-7.9 -22.5-13.2 -10-4.8 -10-3.3 -8-1.2 -12 .8 -14 4.7 -44.9 25 -21.1 9.5 -20 5.8 -24 4 -14 1 -12-.4 -12-1.8 -12-3.5 -6-3.1 -6.7-5.5 -4.8-6 -4.1-8 -3.5-12 -1.8-16 -.1-34 1.8-18 3.4-12 5.5-10 7.9-8 8.4-4.6 12-3.1 12-1.6 16-.5 16 1 32 5.1 52 13.2 10 1.2 12 .1 12-1.4 12-2.6 60-17.3 22-5.7 20.7-3.8z"/>
<path fill="url(#pb9)" d="M490.2 621l14.4-1.6 12-.1 12 1.1 10 2.3 8 3.1 6 3.9 4.9 5.3 4.4 8 3.4 12 1.6 16 -.1 30 -2 18 -3.2 10 -5 8.6 -6 5.7 -10 4.9 -14 3.4 -18 .8 -18-2 -18-4.4 -14-5.1 -15.7-7.9 -34.3-22.8 -10-5.8 -10-4.2 -10-1.8 -12 1.4 -10 4.1 -10 5.9 -37.4 25.2 -18.5 10 -18.1 6.9 -18 4.4 -14 1.8 -14 .4 -12-1.1 -10-2.3 -10-4.1 -5.3-4 -4.9-6 -3.9-8 -2.8-12 -1.1-13.5 0-26.5 1.7-16 2.9-10 5.4-9.4 6-5.6 8-4 10.8-3 13.2-1.6 14 0 16 1.7 16 3.2 16 4.3 50 17.3 14 2.6 12 .4 8-.8 10-2.3 72-27.3 18.3-5.5z"/>
<path fill="url(#pb10)" d="M501 635l9.6-.8 8 .2 8 1.4 8 2.7 6 3.5 5.4 5 3.8 6 2.1 6 1.8 12 .3 22 -.7 12 -2.1 10 -2.7 6 -5 6 -6.9 4.9 -8 3.2 -10 1.9 -12 0 -12.3-2 -13.7-4.5 -10.4-5.5 -10-8 -6.3-8 -3.4-8 -1.5-10 .3-18 2-8 4.6-8 8.7-8 10.1-6 11.9-4.7zM217.2 647l9.4-1.3 10 0 10 1.3 10 2.4 10 3.6 8 4 8.6 6 5.7 6 3.3 6 2 8 .4 14 -.6 8 -1.5 6 -2.9 6 -4.6 6 -6.7 6 -9.7 6 -12 4.9 -12 3 -12 1.2 -12-.8 -9.1-2.3 -8-4 -6.9-6.2 -4.2-7.8 -2.4-12 -.4-26 1.5-14 3.5-9.2 5.8-6.8 8.2-5.2z"/>
</g><path d="M291 512h0m-42 21h0m89 0h0m104 12h0m32 0h0m33 1h0m40 0h0m-39 1h0m2 0h0m26 0h0m-122 5h0m-276 13h0m207 3h0m57 0h0m213 1h0m-451 1h0m-28 2h0m242 10h0m6 2h0m242 23h0m8 12h0m-532 40h0m536 14h0m-532 9h0m3 4h0m525 3h0m4 2h0m-530 8h0m-4 19h0m530 6h0m1 0h0m-529 2h0m534 3h0m-528 27h0m-6 1h0m-1 9h0m258 11h0m2 3h0m25 17h0m229 2h0m6 4h0m2 3h0m-245 4h0m227 5h0m-8 3h0m-464 18h0m378 1h0m-375 1h0m353 1h0m-350 2h0m397 0h0m-95 4h0m-164 12h0" stroke="#ff7f50" stroke-width="2.4" stroke-linecap="round" fill="none"/></g>
<rect x="90.6" y="503" width="562.3" height="365.4" fill="none" stroke="#000" stroke-width="3.6"/>
<text x="90.6" y="900.1" text-anchor="middle" style="font-family:'DejaVu Sans', sans-serif;font-size:26.6px" fill="#000">−2</text>
<text x="40.33" y="878.1" style="font-family:'DejaVu Sans', sans-serif;font-size:26.6px;" fill="#000">−2</text>
<text x="231.17" y="900.1" text-anchor="middle" style="font-family:'DejaVu Sans', sans-serif;font-size:26.6px" fill="#000">−1</text>
<text x="40.06" y="786.75" style="font-family:'DejaVu Sans', sans-serif;font-size:26.6px;" fill="#000">−1</text>
<text x="371.75" y="900.1" text-anchor="middle" style="font-family:'DejaVu Sans', sans-serif;font-size:26.6px" fill="#000">0</text>
<text x="61.74" y="695.4" style="font-family:'DejaVu Sans', sans-serif;font-size:26.6px;" fill="#000">0</text>
<text x="512.32" y="900.1" text-anchor="middle" style="font-family:'DejaVu Sans', sans-serif;font-size:26.6px" fill="#000">1</text>
<text x="62.4" y="604.05" style="font-family:'DejaVu Sans', sans-serif;font-size:26.6px;" fill="#000">1</text>
<text x="652.9" y="900.1" text-anchor="middle" style="font-family:'DejaVu Sans', sans-serif;font-size:26.6px" fill="#000">2</text>
<text x="62.67" y="512.7" style="font-family:'DejaVu Sans', sans-serif;font-size:26.6px;" fill="#000">2</text>
<path d="M90.6 870.2V874.9M88.8 868.4H84.1M231.17 870.2V874.9M88.8 777.05H84.1M371.75 870.2V874.9M88.8 685.7H84.1M512.32 870.2V874.9M88.8 594.35H84.1M652.9 870.2V874.9M88.8 503H84.1" stroke="#222" stroke-width="1.3" fill="none"/>
<defs><clipPath id="clip_pd"><rect x="786.9" y="504.3" width="560.0999999999999" height="362.9"/></clipPath><filter id="soft_pd" x="0" y="0" width="1" height="1"><feGaussianBlur stdDeviation="0.45"/></filter></defs><g filter="url(#soft_pd)"><g clip-path="url(#clip_pd)">
<path fill="url(#pd0)" d="M1238.1 504.5l5-2 18.5 0 7.5 3.6 6 4.9 5.1 5.5 10.9 14.6 15.7 17.4 5.7 8 8.1 16 5.8 20 2.3 14 1.4 18 0 52 -1.3 18 -2.2 14 -2.9 12 -6.5 20 -1.5 8 .3 8 2.7 14 0 8 -1.5 6 -3.1 6 -5 6 -8 6.6 -12 6.8 -12 4.9 -16 4.5 -14 2.6 -16 1.8 -18 .5 -18-.8 -16-2 -24-5.8 -12-4.5 -10-5 -8.2-5.6 -6.5-6 -4.7-6 -7.6-12 -3.6-4 -7.4-4 -10-1.2 -10 1.9 -10.8 5.3 -47.2 37.2 -12 7.4 -10 4.5 -14 4 -16 2.4 -24 1.6 -26 .1 -30-2.3 -10-2.1 -12-4.2 -10-5.1 -10-6.9 -9.1-8.6 -8-10 -6-10 -6.2-14 -5.2-18 -2.9-16 -1.7-18 -.8-20 0-40 1.1-24 1.7-16 2.6-14 3.9-14 5.6-14 5.5-10 7.1-10 7.4-8 9-7.4 10-6.2 12-5.2 10-2.8 12-2 22-1.4 26 .1 22 1.4 16 2.7 14 4.9 12 7.3 14 12.8 22 26.4 8 8.4 4 3.3 6 3.2 8 1.1 7.8-2.6 7.8-6 8.4-9.1 19.6-24.9 8.4-9.3 12-10.2 10-6 14-5.2 12-2.4 18-1.7 34-1.3 6.4-1.9z"/>
<path fill="url(#pd1)" d="M1244.3 508.5l8.8-1.4 8 1.6 8 4.5 7 7.3 13 21 13.3 17 6.1 10 7.1 18 4.1 20 1.8 22 .2 34 -.9 22 -2.2 18 -4.6 18 -8.8 22 -2.3 8 -.6 8 .9 14 -1.1 8 -2.7 6 -2.8 4 -9.5 8.4 -10 5.6 -12 4.7 -14 3.7 -12 2 -14 1.3 -16 .2 -14-.9 -14-2.1 -20-5.3 -16-7.3 -6.4-4.3 -6.7-6 -4.8-6 -8.1-13.1 -6-6 -5.1-2.9 -5.9-2 -13-1.1 -12 2.2 -10.7 4.9 -47.3 34.6 -12 7.1 -12 5.2 -14 3.9 -18 2.6 -24 1.5 -24 .1 -28-2.3 -10-2.2 -10-3.6 -10-5.2 -10-7.3 -8-8 -6.4-8.4 -6.8-12 -5.6-14 -3.7-14 -2.7-16 -1.5-18 -.6-22 .2-36 1.3-22 2.2-16 2.6-12 3.7-12 4.2-10 5.5-10 7.4-10 8-8 8.2-6.3 10-5.5 10-3.9 12-2.9 12-1.3 20-1 22 .3 20 1.4 16 2.8 14 4.7 12 7 14 12.2 22 25 8 7.9 8.9 5.6 5.1 1.3 4 0 6-1.8 8.2-5.5 9.8-10.1 26-31 12-10.3 10-6.1 12-4.9 14-3.2 16-1.8 32-1.2 8-1.1 6-2.7 12-8.2z"/>
<path fill="url(#pd2)" d="M1245 514.5l8.1-1.4 8 1.9 6 3.8 6.8 7.7 11.2 21.9 12.4 18.1 6.4 12 5.9 18 2.9 18 1.2 22 -.1 34 -1.2 18 -2.6 16 -5.6 18 -14.2 30 -1.3 6 -1.6 16 -1.9 6 -5.4 8 -7.3 6 -7.6 4.2 -10 3.9 -12 3.1 -12 1.8 -12 .8 -14-.2 -12-1.3 -12-2.3 -16-5.4 -14-8.2 -6.9-6.4 -14.4-18 -9.5-8 -9.2-4.1 -12-2 -8 .1 -8 1.2 -13.2 4.8 -10 6 -18.8 13.8 -20 13.2 -18 9.7 -10 3.7 -10 2.6 -24 3.5 -24 1.3 -22-.1 -20-1.6 -14-2.8 -12-4.7 -12-7.7 -9.5-8.9 -7.5-10 -5.5-10 -4.8-12 -3.8-14 -2.6-16 -1.4-18 -.5-22 .2-32 1.3-20 1.6-12 2.9-14 3.8-12 4.4-10 5.9-10 6.2-8 7.3-7.1 8-5.9 10-5.2 10-3.5 8-1.7 16-1.7 20-.7 20 .6 18 1.6 14 2.5 14 4.7 12 6.7 14 11.7 22.2 24 7.8 7.2 8 4.8 6 1.5 4-.2 6-1.8 8.3-5.5 9.7-9.7 26-29.9 10-8.5 12-7.3 14-5.4 14-2.9 16-1.7 30-1.1 8-1.1 6-2.6 12-9.5z"/>
<path fill="url(#pd3)" d="M1246.3 520.5l6.8-1.1 6 1.4 6 3.8 6.3 7.9 9.7 22.3 13.4 21.7 5.3 12 4.6 18 2.2 22 .3 32 -.7 20 -2 16 -3.4 14 -6.8 16 -17.3 28 -7.9 22 -4.2 6 -7.5 6.2 -7.3 3.8 -6.7 2.4 -18 3.4 -20 .1 -18-3.3 -12-4.6 -8-4.7 -6.3-5.3 -13.4-14 -14.2-10 -16.1-8 -14-2.6 -16 1.1 -8 2 -8 3.3 -8 4.4 -22 15 -20 12.1 -20 9.8 -20 5.8 -24 3.3 -22 1.3 -20-.1 -18-1.4 -14-2.5 -12-4.5 -10-6.2 -9.7-8.8 -7.6-10 -5.4-10 -4.6-12 -3.5-14 -2.2-14 -1.3-18 -.3-20 .2-28 1.2-20 4.2-24 3.9-12 3.5-8 5.6-9.7 6-7.8 6.7-6.5 7.3-5.4 8-4.3 10-3.7 10-1.9 16-1.6 18-.5 20 .7 16 1.6 14 2.6 16 5.5 14 8.4 12 10.4 22 22.6 8 6.4 8 3.8 8 .4 8-2.9 6-4.2 8.3-7.9 27.7-30.7 10-8.2 10-6.1 14-5.6 16-3.5 22-2.2 28-1 6-1.1 6-3.1 12-10.5z"/>
<path fill="url(#pd4)" d="M1250.8 526.5l4.3 .2 4 1.5 4 3.1 4 5.1 3.1 6.1 6.9 18.4 11.7 19.6 5.3 12 3.7 14 2.1 16 .7 18 -.2 30 -1.3 16 -2.5 14 -3.7 12 -4.7 10 -9.1 13.2 -16.8 18.8 -11.2 13.7 -4.3 4.3 -5.7 4.1 -9.3 3.9 -10.7 2.1 -12 .1 -12-2 -12-4.9 -19.6-13.3 -11.2-6 -34.2-14 -7-1.8 -8-.9 -16 1.2 -16 5.1 -8.5 4.4 -21.5 13.8 -20 11.3 -22 10.3 -20 5.6 -26 3.6 -22 1.3 -20-.2 -16-1.5 -14-2.8 -10-4.1 -10-6.6 -8.7-8.7 -7-10 -4.9-10 -4-12 -2.7-12 -1.7-12 -1.2-20 -.2-26 1.7-36 4.1-22 3.3-10 4.6-10 5-8 5.7-6.9 6-5.6 8-5.5 8-3.8 10-3 26-2.8 34 .7 16 1.9 12 2.3 14 4.7 12 6.3 14 10.8 28.2 26.9 9.8 5.5 8 1 8-2.1 8-5.2 8-7.3 28-30.2 10-7.9 12-6.9 14-5.1 16-3.3 20-2 28-.9 8-1.4 6-3.1 14-12.3z"/>
<path fill="url(#pd5)" d="M1246.7 536.5l4.4-.9 4 .6 4 2.2 3.6 4.1 3.2 6 7 18 12.8 22 3.8 10 2.5 10 2 14 .7 14 0 28 -.9 16 -2 14 -4.1 14 -5.8 12 -7.5 10 -11.3 10.6 -12 8.1 -10 4.8 -14 4.6 -10 1.5 -12-.2 -20-4.3 -42-11.9 -26-8.4 -10-1.3 -11.2 .5 -10.8 2.2 -12 4.4 -10.4 5.4 -21.6 13.1 -26 13.2 -16 6.5 -14 4 -16 2.9 -18 2.1 -20 1 -16-.1 -14-1.2 -12-2.1 -8-2.5 -8-4 -8-5.9 -6.7-7 -6.7-10 -3.9-8 -4-12 -2.3-10 -1.9-14 -1-18 -.1-28 1.8-32 4.1-20 3.5-10 3.9-8 5.2-8 5.1-6 6.9-6 6.1-3.9 8-3.6 8-2.2 12-1.8 16-1.1 16 .1 18 1.2 14 1.9 12 2.6 14 5 14 8 10 7.9 22 20.6 8 6.2 8 3.9 8 .8 8-2.2 8-5.1 8-7.2 28-29.2 10-7.7 12-6.7 14-5.1 18-3.7 22-2.1 28-.8 6-1.1 6-2.7 10-8.6z"/>
<path fill="url(#pd6)" d="M1243.3 550.5l3.8-1.5 4 0 6 3.3 3 4.2 7 14 10.2 16 4.8 10 3.1 10 2.2 12 1.1 12 -.2 44 -1.6 14 -2.9 12 -5 12 -6.6 10 -9.1 9 -10 6.4 -10 4 -14 3.2 -14 1.4 -14-.2 -20-2.4 -24-4.4 -18-4.3 -22.7-6.7 -9.3-.8 -10 .7 -10 2.1 -12 4.3 -34 18.6 -26 12 -16 6.2 -14 3.9 -16 3.1 -18 2.3 -18 1.1 -14 0 -14-1 -14-2.4 -8-2.5 -8-4.2 -7-5.4 -7-8 -5-8 -3.7-8 -3.2-10 -3.7-22 -1-18 -.1-26 1.7-30 4.3-20 6.9-16 3.9-6 5.9-6.8 6-5.1 6-3.7 8-3.3 8-1.9 12-1.7 14-.9 30 1.3 26 4.5 16 5.6 14 7.8 12 9.3 21.1 18.9 6.9 4.9 8 3.5 8 .7 8-2.3 8-5 8-7.1 20-20.8 10-9.2 10-7 12-6.2 16-5.3 18-3.4 20-1.8 34-1.2 6-1.8z"/>
<path fill="url(#pd7)" d="M1242.1 564.5l5.1 0 5.9 2.8 8 8.7 10.5 14.5 4 8 3.4 10 2.3 12 1.1 12 -.2 40 -1.7 14 -2.4 10 -3.9 10 -6.3 10 -8 8 -8.8 5.5 -8 3 -14 2.9 -14 1.3 -16-.2 -20-1.9 -22-3.6 -16-3.5 -24-6.6 -8-.7 -10 .7 -10 2.2 -12 4.2 -34 17.7 -30 12.6 -14 5.1 -16 4.5 -16 3.1 -18 2.4 -16 1.1 -26-.9 -12-2 -10-3.1 -8-4.5 -6.3-5.3 -5.7-6.9 -5.2-9.1 -3.2-8 -2.7-10 -2.8-20 -.6-42 1.9-26 4.3-18 6.4-14 4.2-6 5.7-6 10-6.7 8-3 10-2.1 24-1.9 28 1.7 24 4.6 14 4.9 14 7.3 10 7.1 24 20.2 8 5.5 8 3.2 6 .6 8-1.7 8-4.4 10-8.2 20-20.3 10-8.9 12-7.9 14-6.6 16-4.8 22-3.6 20-1.4 28-.1z"/>
<path fill="url(#pd8)" d="M1190.2 574.5l26.9-.6 18 1.4 10 1.8 6 3 8 6.9 6 7.9 4.9 9.6 3.8 14 1.7 16 .1 30 -1.6 18 -3.7 14 -4.9 10 -6.5 8 -9.8 7 -10 3.6 -12 2.3 -14 1.1 -16-.2 -18-1.8 -20-3.3 -42-10.6 -14-.1 -10 2 -10 3.3 -40 19.2 -48 17.7 -30 7.3 -16 2.3 -16 1.3 -24-.8 -10-1.7 -10-2.9 -6-3 -6.2-4.7 -5.8-6.6 -4.5-7.4 -5.7-16 -2.8-18 -.8-38 1.4-24 3.3-16 5.8-14 7.3-10 10-7.7 6-2.5 10-2.6 22-2.3 26 1.5 24 4.6 16 5.3 14 7.1 12 8.2 23 18.4 7 4.8 8 3.4 8 .8 8-1.8 10-5.7 8-6.6 28-26.6 8-5.8 10-5.8 12-5.3 14-4.3 14-2.9z"/>
<path fill="url(#pd9)" d="M1203.3 582.5l11.8 .1 12 1.2 10 2.1 8 2.9 6 3.8 6 6.4 4.5 7.5 3 8 2.5 12 1 16 -.3 24 -1.9 16 -3 10 -5.5 10 -6.3 6.5 -8 4.7 -10 3.2 -12 2 -14 .7 -14-.8 -16-2 -18-3.7 -40-11.5 -8-.9 -8 .6 -16 4.3 -40.9 18.9 -59.1 21 -28 7.2 -14 2.2 -14 1.1 -12-.1 -10-1 -10-2.2 -8-2.8 -6-3.3 -6-5.6 -4-5.4 -3.6-7.1 -4.3-14 -2.1-18 -.3-34 1.7-20 3.5-14 5.1-10.9 7.6-9.1 8.4-5.2 16-4.7 20-1.5 22 1.8 22 4.8 16 5.8 14 7.3 14 9.5 22 17.1 8 5.1 8 3 8 .5 8-1.9 10-5.6 8-6.4 30-27.6 10-6.8 12-6.5 14-5.8 16-4.5 18-3.1z"/>
<path fill="url(#pd10)" d="M1192.1 594.5l11-1 12 .1 10 1.4 8 2.2 7.6 3.3 5.7 4 4.7 5.6 3.2 6.4 2.8 10 1.3 12 0 24 -1.5 14 -3 10 -4.8 8 -6 5.4 -8 4 -12 3.4 -16 1.2 -18-1.5 -18-3.9 -19.6-6.6 -17.3-8 -23.2-14 -2.2-2 -2.4-4 -.8-4 .1-8 2.8-10 7.6-12 11.7-12 13.5-10 14.9-8 16.9-6.1zM910.1 610.5l11-1.3 10 0 22 3.2 12 3.4 10 3.9 9.8 4.8 10.2 6.3 10.1 7.7 10.9 10 11.2 12 7.5 10 3 6 1.2 8 -.5 8 -2.9 6 -3.8 4 -7.9 6 -27 16 -21.8 9.8 -20 6.2 -20 3.3 -18-.1 -15.1-3.2 -12-6 -4.9-4.6 -4-6.1 -3.1-7.3 -2.5-10 -1.3-12 -.4-14 .2-18 1.2-14 3.9-14.8 2.5-5.2 4.2-6 3.3-3.1 6-3.8 7.4-3.1z"/>
<path fill="url(#pd11)" d="M1196.6 610.5l14.5-1 7.3 1 6.7 2.1 6 3.3 4 3.4 3.8 5.2 2.6 6 1.9 10 .3 14 -.6 10 -1.9 8 -3 6 -5.1 5.9 -6 4 -5.4 2.1 -8.6 1.7 -8 .2 -10-1.3 -10-2.9 -8-3.7 -8.3-6 -5.1-6 -2.9-6 -1.6-8 0-14 1.4-8 2.7-6 4.7-6 7.5-6 9.6-4.7zM917 626.5l10.1-.7 10 1 10 2.6 10 4.3 8 5.1 8 7.6 4.2 6.1 3.1 8 1.5 10 -.2 16 -1.5 8 -3.5 8 -6.5 8 -7.6 6 -9.5 5.1 -10 3.5 -8 1.7 -10 .6 -8-.7 -8-2.2 -6-3.1 -6-4.9 -4.4-6 -3.6-8.9 -1.9-13.1 -.2-18 .8-12 2.2-10 4.1-8 5.3-6 7.7-4.9z"/>
</g><path d="M1229 507h0m-324 14h0m-55 3h0m450 5h0m5 1h0m-490 17h0m6 13h0m1 7h0m-1 2h0m270 4h0m234 0h0m-509 1h0m222 2h0m-241 3h0m262 10h0m-249 6h0m-8 35h0m-2 46h0m535 23h0m-5 4h0m-4 34h0m-521 7h0m526 20h0m-257 10h0m252 3h0m-249 2h0m33 6h0m206 2h0m5 0h0m-282 10h0m-9 12h0m255 3h0m-458 4h0m339 4h0m23 4h0m-363 3h0m361 0h0m-339 1h0m338 1h0m10 1h0m-322 1h0m271 2h0m110 0h0m-110 1h0m-148 1h0m216 2h0" stroke="#2e8b57" stroke-width="2.4" stroke-linecap="round" fill="none"/></g>
<rect x="785.1" y="502.5" width="563.7" height="366.5" fill="none" stroke="#000" stroke-width="3.6"/>
<text x="785.1" y="900.7" text-anchor="middle" style="font-family:'DejaVu Sans', sans-serif;font-size:26.6px" fill="#000">−2</text>
<text x="734.82" y="878.7" style="font-family:'DejaVu Sans', sans-serif;font-size:26.6px;" fill="#000">−2</text>
<text x="926.02" y="900.7" text-anchor="middle" style="font-family:'DejaVu Sans', sans-serif;font-size:26.6px" fill="#000">−1</text>
<text x="734.56" y="787.07" style="font-family:'DejaVu Sans', sans-serif;font-size:26.6px;" fill="#000">−1</text>
<text x="1066.95" y="900.7" text-anchor="middle" style="font-family:'DejaVu Sans', sans-serif;font-size:26.6px" fill="#000">0</text>
<text x="756.24" y="695.45" style="font-family:'DejaVu Sans', sans-serif;font-size:26.6px;" fill="#000">0</text>
<text x="1207.88" y="900.7" text-anchor="middle" style="font-family:'DejaVu Sans', sans-serif;font-size:26.6px" fill="#000">1</text>
<text x="756.9" y="603.82" style="font-family:'DejaVu Sans', sans-serif;font-size:26.6px;" fill="#000">1</text>
<text x="1348.8" y="900.7" text-anchor="middle" style="font-family:'DejaVu Sans', sans-serif;font-size:26.6px" fill="#000">2</text>
<text x="757.17" y="512.2" style="font-family:'DejaVu Sans', sans-serif;font-size:26.6px;" fill="#000">2</text>
<path d="M785.1 870.8V875.5M783.3 869H778.6M926.02 870.8V875.5M783.3 777.38H778.6M1066.95 870.8V875.5M783.3 685.75H778.6M1207.88 870.8V875.5M783.3 594.12H778.6M1348.8 870.8V875.5M783.3 502.5H778.6" stroke="#222" stroke-width="1.3" fill="none"/>
<defs><clipPath id="clipC"><rect x="789.3" y="35.6" width="556.9" height="360.2"/></clipPath></defs><g clip-path="url(#clipC)">
<path d="M811 377h0M820.41 378.28h0M829.07 379.46h0M837.06 380.41h0M844.43 381h0M851.24 381h0M857.5 380.63h0M863.19 379.86h0M868.36 378.66h0" stroke="#000" stroke-width="2.6" stroke-linecap="round" fill="none"/>
<path d="M873 377.5C874 377.08 876.97 375.82 879 375C881.03 374.18 883.37 373.27 885.2 372.6C887.03 371.93 888.37 371.32 890 371C891.63 370.68 893.33 370.62 895 370.7C896.67 370.78 898.38 371.18 900 371.5C901.62 371.82 903.03 372.22 904.7 372.6C906.37 372.98 908.12 373.57 910 373.8C911.88 374.03 915 373.97 916 374" stroke="#000" stroke-width="2.5" stroke-linecap="round" stroke-linejoin="round" fill="none"/>
<path d="M896.7 377C898.08 376.75 902.43 376 905 375.5C907.57 375 909.6 374.33 912.1 374C914.6 373.67 916.75 373.93 920 373.5C923.25 373.07 928.27 372.57 931.6 371.4C934.93 370.23 937.15 368.33 940 366.5C942.85 364.67 945.87 362.82 948.7 360.4C951.53 357.98 954.15 354.85 957 352C959.85 349.15 962.88 346.55 965.8 343.3C968.72 340.05 971.65 336.15 974.5 332.5C977.35 328.85 980.4 325.23 982.9 321.4C985.4 317.57 987.47 313.57 989.5 309.5C991.53 305.43 993.77 300.75 995.1 297C996.43 293.25 997.1 290.27 997.5 287C997.9 283.73 997.83 280.23 997.5 277.4C997.17 274.57 996.32 272.43 995.5 270C994.68 267.57 993.68 265.47 992.6 262.8C991.52 260.13 990.22 256.85 989 254C987.78 251.15 986.47 248.53 985.3 245.7C984.13 242.87 983.02 239.85 982 237C980.98 234.15 980.28 231.52 979.2 228.6C978.12 225.68 976.92 222.35 975.5 219.5C974.08 216.65 972.45 213.58 970.7 211.5C968.95 209.42 967.03 208.22 965 207C962.97 205.78 961 205.12 958.5 204.2C956 203.28 952.85 202.23 950 201.5C947.15 200.77 944.48 200.18 941.4 199.8C938.32 199.42 934.77 199.28 931.5 199.2C928.23 199.12 925.05 199.17 921.8 199.3C918.55 199.43 915.25 199.67 912 200C908.75 200.33 905.22 200.72 902.3 201.3C899.38 201.88 896.93 202.62 894.5 203.5C892.07 204.38 889.53 205.18 887.7 206.6C885.87 208.02 884.52 209.97 883.5 212C882.48 214.03 881.85 216.63 881.6 218.8C881.35 220.97 881.6 222.97 882 225C882.4 227.03 883.17 229.33 884 231C884.83 232.67 885.98 233.77 887 235C888.02 236.23 888.93 237.65 890.1 238.4C891.27 239.15 892.77 239.48 894 239.5C895.23 239.52 896.42 239.17 897.5 238.5C898.58 237.83 899.83 236.75 900.5 235.5C901.17 234.25 901.58 232.58 901.5 231C901.42 229.42 900.83 227.25 900 226C899.17 224.75 897.67 223.83 896.5 223.5C895.33 223.17 893.92 223.33 893 224C892.08 224.67 891.17 226.25 891 227.5C890.83 228.75 891.33 230.58 892 231.5C892.67 232.42 894.08 233 895 233C895.92 233 897.17 232.25 897.5 231.5C897.83 230.75 897.08 229 897 228.5" stroke="#808080" stroke-width="3" stroke-linecap="round" stroke-linejoin="round" fill="none"/>
<circle cx="896" cy="230" r="5" fill="#808080"/>
<path d="M812.8 55.7h0M813.97 60.04h0M815.12 64.29h0M816.24 68.44h0M817.35 72.5h0M818.57 76.42h0M819.76 80.26h0M820.93 84.01h0M822.06 87.67h0M823.27 91.22h0M824.55 94.66h0M825.79 98.03h0M827.01 101.31h0M828.21 104.52h0M829.46 107.63h0M830.68 110.67h0M831.87 113.64h0M833.03 116.54h0M834.43 119.25h0M835.97 121.81h0M837.48 124.32h0M838.95 126.76h0M840.46 129.11h0M842.1 131.3h0M843.7 133.43h0M845.26 135.52h0" stroke="#ff0000" stroke-width="2.6" stroke-linecap="round" fill="none"/>
<path d="M846.6 137.3C847.58 138.58 850.52 142.47 852.5 145C854.48 147.53 857.05 150.33 858.5 152.5C859.95 154.67 860.65 156.18 861.2 158C861.75 159.82 861.92 161.57 861.8 163.4C861.68 165.23 861.05 167.18 860.5 169C859.95 170.82 859.17 172.38 858.5 174.3C857.83 176.22 857.03 178.33 856.5 180.5C855.97 182.67 855.58 184.72 855.3 187.3C855.02 189.88 854.77 192.78 854.8 196C854.83 199.22 855.1 203.6 855.5 206.6C855.9 209.6 856.28 211.43 857.2 214C858.12 216.57 859.45 219 861 222C862.55 225 864.5 228.5 866.5 232C868.5 235.5 870.83 239.67 873 243C875.17 246.33 877.33 249.33 879.5 252C881.67 254.67 884 257.25 886 259C888 260.75 889.42 262.17 891.5 262.5C893.58 262.83 896.42 262 898.5 261C900.58 260 902.25 258.5 904 256.5C905.75 254.5 907.67 251.58 909 249C910.33 246.42 911.33 243.67 912 241C912.67 238.33 912.92 235.5 913 233C913.08 230.5 913 228.08 912.5 226C912 223.92 911.08 222 910 220.5C908.92 219 906.67 217.58 906 217" stroke="#ff0000" stroke-width="2.6" stroke-linecap="round" stroke-linejoin="round" fill="none"/>
<path d="M813.2 215.2h0M816.5 217.47h0M819.7 219.67h0M822.82 221.81h0M825.85 223.89h0M828.72 226.02h0M831.51 228.09h0M834.22 230.1h0M836.86 232.06h0M839.42 233.97h0M841.89 235.85h0M844.29 237.68h0M846.62 239.45h0M848.81 241.28h0M850.81 243.2h0M852.75 245.07h0M854.64 246.89h0" stroke="#008000" stroke-width="2.6" stroke-linecap="round" fill="none"/>
<path d="M855.9 248.1C856.92 249.42 859.97 253.15 862 256C864.03 258.85 866.27 262.37 868.1 265.2C869.93 268.03 871.37 270.55 873 273C874.63 275.45 876.48 278.32 877.9 279.9C879.32 281.48 880.28 281.95 881.5 282.5C882.72 283.05 883.62 283.32 885.2 283.2C886.78 283.08 888.97 282.57 891 281.8C893.03 281.03 895.07 280.48 897.4 278.6C899.73 276.72 902.55 273.55 905 270.5C907.45 267.45 910.02 263.8 912.1 260.3C914.18 256.8 915.88 253.15 917.5 249.5C919.12 245.85 920.8 241.65 921.8 238.4C922.8 235.15 923.28 232.65 923.5 230C923.72 227.35 923.55 224.75 923.1 222.5C922.65 220.25 921.82 218.25 920.8 216.5C919.78 214.75 918.63 213.12 917 212C915.37 210.88 913.05 210.28 911 209.8C908.95 209.32 906.87 209.1 904.7 209.1C902.53 209.1 900.03 209.4 898 209.8C895.97 210.2 894.05 210.72 892.5 211.5C890.95 212.28 889.72 213.28 888.7 214.5C887.68 215.72 886.85 217.3 886.4 218.8C885.95 220.3 885.78 221.87 886 223.5C886.22 225.13 887.03 227.18 887.7 228.6C888.37 230.02 889.2 230.98 890 232C890.8 233.02 891.5 234.12 892.5 234.7C893.5 235.28 894.92 235.62 896 235.5C897.08 235.38 898.25 234.75 899 234C899.75 233.25 900.42 232 900.5 231C900.58 230 900.17 228.67 899.5 228C898.83 227.33 897.33 226.92 896.5 227C895.67 227.08 894.83 228.25 894.5 228.5" stroke="#008000" stroke-width="2.7" stroke-linecap="round" stroke-linejoin="round" fill="none"/>
<path d="M896.6 55C895.17 55.92 890.53 58.4 888 60.5C885.47 62.6 883.73 64.85 881.4 67.6C879.07 70.35 876.37 73.73 874 77C871.63 80.27 869.28 83.7 867.2 87.2C865.12 90.7 863.12 94.37 861.5 98C859.88 101.63 858.2 105.83 857.5 109C856.8 112.17 857.13 114.47 857.3 117C857.47 119.53 857.88 121.7 858.5 124.2C859.12 126.7 860.08 129.47 861 132C861.92 134.53 862.75 136.9 864 139.4C865.25 141.9 867.23 144.45 868.5 147C869.77 149.55 871.27 152.45 871.6 154.7C871.93 156.95 871.05 158.7 870.5 160.5C869.95 162.3 869.47 163.58 868.3 165.5C867.13 167.42 864.95 169.82 863.5 172C862.05 174.18 860.68 176.43 859.6 178.6C858.52 180.77 857.62 182.37 857 185C856.38 187.63 856 191.4 855.9 194.4C855.8 197.4 855.98 200.15 856.4 203C856.82 205.85 857.38 208.5 858.4 211.5C859.42 214.5 860.88 217.75 862.5 221C864.12 224.25 866.18 227.67 868.1 231C870.02 234.33 871.97 237.73 874 241C876.03 244.27 878.3 247.93 880.3 250.6C882.3 253.27 883.97 255.3 886 257C888.03 258.7 890.42 260.33 892.5 260.8C894.58 261.27 896.67 260.7 898.5 259.8C900.33 258.9 901.92 257.28 903.5 255.4C905.08 253.52 906.78 250.93 908 248.5C909.22 246.07 910.17 243.38 910.8 240.8C911.43 238.22 911.67 235.43 911.8 233C911.93 230.57 911.98 228.2 911.6 226.2C911.22 224.2 910.43 222.43 909.5 221C908.57 219.57 907.33 218.5 906 217.6C904.67 216.7 902.93 216 901.5 215.6C900.07 215.2 898.73 215.08 897.4 215.2C896.07 215.32 894.72 215.7 893.5 216.3C892.28 216.9 891.02 217.77 890.1 218.8C889.18 219.83 888.4 221.07 888 222.5C887.6 223.93 887.53 225.98 887.7 227.4C887.87 228.82 888.4 229.98 889 231C889.6 232.02 890.38 232.88 891.3 233.5C892.22 234.12 893.48 234.5 894.5 234.7C895.52 234.9 896.57 235.07 897.4 234.7C898.23 234.33 899.07 233.45 899.5 232.5C899.93 231.55 900.25 230 900 229C899.75 228 898.83 226.92 898 226.5C897.17 226.08 895.67 226.08 895 226.5C894.33 226.92 894.17 228.58 894 229" stroke="#0000ff" stroke-width="2.7" stroke-linecap="round" stroke-linejoin="round" fill="none"/>
<path d="M1237.5 53.5C1235.32 53.68 1228.75 54.05 1224.4 54.6C1220.05 55.15 1215.02 56.08 1211.4 56.8C1207.78 57.52 1205.97 57.45 1202.7 58.9C1199.43 60.35 1194.75 63.4 1191.8 65.5C1188.85 67.6 1187.18 69.33 1185 71.5C1182.82 73.67 1181.03 75.75 1178.7 78.5C1176.37 81.25 1173.53 84.73 1171 88C1168.47 91.27 1165.83 94.85 1163.5 98.1C1161.17 101.35 1159.17 104.23 1157 107.5C1154.83 110.77 1152.42 114.37 1150.5 117.7C1148.58 121.03 1146.95 124.23 1145.5 127.5C1144.05 130.77 1142.75 134.38 1141.8 137.3C1140.85 140.22 1140.17 142.47 1139.8 145C1139.43 147.53 1139.4 149.83 1139.6 152.5C1139.8 155.17 1140.28 158.1 1141 161C1141.72 163.9 1142.82 166.98 1143.9 169.9C1144.98 172.82 1146.05 175.6 1147.5 178.5C1148.95 181.4 1150.93 183.97 1152.6 187.3C1154.27 190.63 1155.87 194.87 1157.5 198.5C1159.13 202.13 1160.65 206.27 1162.4 209.1C1164.15 211.93 1166 213.68 1168 215.5C1170 217.32 1171.98 218.5 1174.4 220C1176.82 221.5 1179.6 223.23 1182.5 224.5C1185.4 225.77 1188.63 226.72 1191.8 227.6C1194.97 228.48 1198.23 229.27 1201.5 229.8C1204.77 230.33 1208.32 230.8 1211.4 230.8C1214.48 230.8 1217.1 230.33 1220 229.8C1222.9 229.27 1226.05 228.4 1228.8 227.6C1231.55 226.8 1233.97 225.92 1236.5 225C1239.03 224.08 1241.92 223.27 1244 222.1C1246.08 220.93 1247.55 219.45 1249 218C1250.45 216.55 1251.82 215.07 1252.7 213.4C1253.58 211.73 1254.12 209.82 1254.3 208C1254.48 206.18 1254.27 204.42 1253.8 202.5C1253.33 200.58 1252.4 198.3 1251.5 196.5C1250.6 194.7 1249.57 192.95 1248.4 191.7C1247.23 190.45 1245.77 189.55 1244.5 189C1243.23 188.45 1241.97 188.15 1240.8 188.4C1239.63 188.65 1238.42 189.57 1237.5 190.5C1236.58 191.43 1235.63 192.67 1235.3 194C1234.97 195.33 1235.13 197.25 1235.5 198.5C1235.87 199.75 1236.58 200.83 1237.5 201.5C1238.42 202.17 1240 202.67 1241 202.5C1242 202.33 1243.17 201.33 1243.5 200.5C1243.83 199.67 1243.5 198.17 1243 197.5C1242.5 196.83 1240.92 196.67 1240.5 196.5" stroke="#ffdab9" stroke-width="3.6" stroke-linecap="round" stroke-linejoin="round" fill="none"/>
<path d="M1237.5 53.5C1235.32 53.68 1228.75 54.05 1224.4 54.6C1220.05 55.15 1215.02 56.08 1211.4 56.8C1207.78 57.52 1205.97 57.45 1202.7 58.9C1199.43 60.35 1194.75 63.4 1191.8 65.5C1188.85 67.6 1187.18 69.33 1185 71.5C1182.82 73.67 1181.03 75.75 1178.7 78.5C1176.37 81.25 1173.53 84.73 1171 88C1168.47 91.27 1165.83 94.85 1163.5 98.1C1161.17 101.35 1159.17 104.23 1157 107.5C1154.83 110.77 1152.42 114.37 1150.5 117.7C1148.58 121.03 1146.95 124.23 1145.5 127.5C1144.05 130.77 1142.75 134.38 1141.8 137.3C1140.85 140.22 1140.17 142.47 1139.8 145C1139.43 147.53 1139.4 149.83 1139.6 152.5C1139.8 155.17 1140.28 158.1 1141 161C1141.72 163.9 1142.82 166.98 1143.9 169.9C1144.98 172.82 1146.05 175.6 1147.5 178.5C1148.95 181.4 1150.93 183.97 1152.6 187.3C1154.27 190.63 1155.87 194.87 1157.5 198.5C1159.13 202.13 1160.65 206.27 1162.4 209.1C1164.15 211.93 1166 213.68 1168 215.5C1170 217.32 1171.98 218.5 1174.4 220C1176.82 221.5 1179.6 223.23 1182.5 224.5C1185.4 225.77 1188.63 226.72 1191.8 227.6C1194.97 228.48 1198.23 229.27 1201.5 229.8C1204.77 230.33 1208.32 230.8 1211.4 230.8C1214.48 230.8 1217.1 230.33 1220 229.8C1222.9 229.27 1226.05 228.4 1228.8 227.6C1231.55 226.8 1233.97 225.92 1236.5 225C1239.03 224.08 1241.92 223.27 1244 222.1C1246.08 220.93 1247.55 219.45 1249 218C1250.45 216.55 1251.82 215.07 1252.7 213.4C1253.58 211.73 1254.12 209.82 1254.3 208C1254.48 206.18 1254.27 204.42 1253.8 202.5C1253.33 200.58 1252.4 198.3 1251.5 196.5C1250.6 194.7 1249.57 192.95 1248.4 191.7C1247.23 190.45 1245.77 189.55 1244.5 189C1243.23 188.45 1241.97 188.15 1240.8 188.4C1239.63 188.65 1238.42 189.57 1237.5 190.5C1236.58 191.43 1235.63 192.67 1235.3 194C1234.97 195.33 1235.13 197.25 1235.5 198.5C1235.87 199.75 1236.58 200.83 1237.5 201.5C1238.42 202.17 1240 202.67 1241 202.5C1242 202.33 1243.17 201.33 1243.5 200.5C1243.83 199.67 1243.5 198.17 1243 197.5C1242.5 196.83 1240.92 196.67 1240.5 196.5" stroke="#ffc0cb" stroke-width="2.6" stroke-linecap="round" stroke-linejoin="round" fill="none"/>
<path d="M1319.1 52.8h0M1309.65 51.89h0M1301.2 50.67h0M1293.54 50.2h0M1286.65 50.2h0M1280.47 50.66h0M1274.96 51.43h0" stroke="#ffff00" stroke-width="2.8" stroke-linecap="round" fill="none"/>
<path d="M1270.1 52.4C1269.02 52.68 1266.13 53.37 1263.6 54.1C1261.07 54.83 1257.43 55.92 1254.9 56.8C1252.37 57.68 1250.58 58.62 1248.4 59.4C1246.22 60.18 1243.98 61.5 1241.8 61.5C1239.62 61.5 1237.47 60.05 1235.3 59.4C1233.13 58.75 1231.35 58.03 1228.8 57.6C1226.25 57.17 1222.9 56.93 1220 56.8C1217.1 56.67 1212.83 56.8 1211.4 56.8" stroke="#ffff00" stroke-width="2.6" stroke-linecap="round" stroke-linejoin="round" fill="none"/>
<path d="M1322.3 214.5h0M1317.12 211.47h0M1312.2 208.59h0M1307.62 205.69h0M1303.43 202.69h0M1299.44 199.83h0M1295.65 197.11h0M1292.16 194.39h0M1288.92 191.69h0M1285.84 189.13h0M1282.91 186.69h0" stroke="#800080" stroke-width="2.6" stroke-linecap="round" fill="none"/>
<path d="M1281 185.1C1280.08 183.83 1277.32 180.03 1275.5 177.5C1273.68 174.97 1271.77 172.4 1270.1 169.9C1268.43 167.4 1266.95 164.85 1265.5 162.5C1264.05 160.15 1262.82 157.55 1261.4 155.8C1259.98 154.05 1258.45 152.92 1257 152C1255.55 151.08 1254.37 150.58 1252.7 150.3C1251.03 150.02 1248.82 149.93 1247 150.3C1245.18 150.67 1243.63 151.47 1241.8 152.5C1239.97 153.53 1237.8 155.05 1236 156.5C1234.2 157.95 1232.58 159.37 1231 161.2C1229.42 163.03 1227.95 165.32 1226.5 167.5C1225.05 169.68 1223.63 171.72 1222.3 174.3C1220.97 176.88 1219.6 180.1 1218.5 183C1217.4 185.9 1216.32 188.78 1215.7 191.7C1215.08 194.62 1214.8 197.6 1214.8 200.5C1214.8 203.4 1215.08 206.6 1215.7 209.1C1216.32 211.6 1217.4 213.68 1218.5 215.5C1219.6 217.32 1220.63 218.87 1222.3 220C1223.97 221.13 1226.33 221.95 1228.5 222.3C1230.67 222.65 1233.22 222.4 1235.3 222.1C1237.38 221.8 1239.18 221.22 1241 220.5C1242.82 219.78 1244.78 218.97 1246.2 217.8C1247.62 216.63 1248.6 214.95 1249.5 213.5C1250.4 212.05 1251.18 210.77 1251.6 209.1C1252.02 207.43 1252.18 205.32 1252 203.5C1251.82 201.68 1251.25 199.7 1250.5 198.2C1249.75 196.7 1248.58 195.42 1247.5 194.5C1246.42 193.58 1245.17 192.87 1244 192.7C1242.83 192.53 1241.58 192.87 1240.5 193.5C1239.42 194.13 1238.17 195.33 1237.5 196.5C1236.83 197.67 1236.42 199.17 1236.5 200.5C1236.58 201.83 1237.17 203.67 1238 204.5C1238.83 205.33 1240.58 205.75 1241.5 205.5C1242.42 205.25 1243.17 203.42 1243.5 203" stroke="#800080" stroke-width="2.7" stroke-linecap="round" stroke-linejoin="round" fill="none"/>
<path d="M1322.6 375h0M1320.88 369.25h0M1319.25 363.82h0M1317.77 358.68h0M1316.38 353.81h0M1315.09 349.22h0M1313.87 344.87h0M1312.72 340.77h0M1311.8 336.85h0M1310.97 333.14h0" stroke="#ffa500" stroke-width="2.6" stroke-linecap="round" fill="none"/>
<path d="M1310.6 331.5C1310.08 330 1308.58 325.4 1307.5 322.5C1306.42 319.6 1305.35 316.6 1304.1 314.1C1302.85 311.6 1301.45 309.68 1300 307.5C1298.55 305.32 1296.9 303.17 1295.4 301C1293.9 298.83 1292.45 296.67 1291 294.5C1289.55 292.33 1288.2 290 1286.7 288C1285.2 286 1283.45 284.32 1282 282.5C1280.55 280.68 1279 278.77 1278 277.1C1277 275.43 1276.37 273.95 1276 272.5C1275.63 271.05 1275.72 269.98 1275.8 268.4C1275.88 266.82 1276.13 264.82 1276.5 263C1276.87 261.18 1277.45 259.33 1278 257.5C1278.55 255.67 1279.27 253.82 1279.8 252C1280.33 250.18 1280.8 248.43 1281.2 246.6C1281.6 244.77 1282.02 242.82 1282.2 241C1282.38 239.18 1282.42 237.53 1282.3 235.7C1282.18 233.87 1281.97 231.78 1281.5 230C1281.03 228.22 1279.83 225.83 1279.5 225" stroke="#ffa500" stroke-width="2.6" stroke-linecap="round" stroke-linejoin="round" fill="none"/>
<path d="M1238.8 373.9C1239.25 373.25 1240.42 371.08 1241.5 370C1242.58 368.92 1243.55 368.65 1245.3 367.4C1247.05 366.15 1249.82 364.13 1252 362.5C1254.18 360.87 1256.4 359.43 1258.4 357.6C1260.4 355.77 1262.2 353.68 1264 351.5C1265.8 349.32 1267.62 346.92 1269.2 344.5C1270.78 342.08 1272.22 339.53 1273.5 337C1274.78 334.47 1275.98 331.88 1276.9 329.3C1277.82 326.72 1278.47 324.03 1279 321.5C1279.53 318.97 1279.97 316.43 1280.1 314.1C1280.23 311.77 1280.15 309.68 1279.8 307.5C1279.45 305.32 1278.8 303 1278 301C1277.2 299 1276.1 297.32 1275 295.5C1273.9 293.68 1272.48 291.93 1271.4 290.1C1270.32 288.27 1269.4 286.32 1268.5 284.5C1267.6 282.68 1266.63 280.87 1266 279.2C1265.37 277.53 1264.88 275.95 1264.7 274.5C1264.52 273.05 1264.6 272.08 1264.9 270.5C1265.2 268.92 1265.78 266.8 1266.5 265C1267.22 263.2 1268.2 261.45 1269.2 259.7C1270.2 257.95 1271.4 256.13 1272.5 254.5C1273.6 252.87 1274.8 251.65 1275.8 249.9C1276.8 248.15 1277.7 246 1278.5 244C1279.3 242 1280.3 240.07 1280.6 237.9C1280.9 235.73 1280.65 233.18 1280.3 231C1279.95 228.82 1279.22 226.97 1278.5 224.8C1277.78 222.63 1276.82 220.17 1276 218C1275.18 215.83 1274.93 214.73 1273.6 211.8C1272.27 208.87 1269.85 204.03 1268 200.4C1266.15 196.77 1264.32 193.27 1262.5 190C1260.68 186.73 1258.77 183.38 1257.1 180.8C1255.43 178.22 1253.95 176.13 1252.5 174.5C1251.05 172.87 1249.65 171.75 1248.4 171C1247.15 170.25 1246.1 170 1245 170C1243.9 170 1243.13 170.33 1241.8 171C1240.47 171.67 1238.45 172.73 1237 174C1235.55 175.27 1234.43 176.68 1233.1 178.6C1231.77 180.52 1230.08 182.97 1229 185.5C1227.92 188.03 1227.13 191.3 1226.6 193.8C1226.07 196.3 1225.8 198.32 1225.8 200.5C1225.8 202.68 1225.98 204.98 1226.6 206.9C1227.22 208.82 1228.42 210.55 1229.5 212C1230.58 213.45 1231.77 214.8 1233.1 215.6C1234.43 216.4 1236.05 216.8 1237.5 216.8C1238.95 216.8 1240.38 216.23 1241.8 215.6C1243.22 214.97 1244.72 214.08 1246 213C1247.28 211.92 1248.7 210.52 1249.5 209.1C1250.3 207.68 1250.63 205.95 1250.8 204.5C1250.97 203.05 1250.97 201.73 1250.5 200.4C1250.03 199.07 1249 197.4 1248 196.5C1247 195.6 1245.67 195.08 1244.5 195C1243.33 194.92 1241.83 195.25 1241 196C1240.17 196.75 1239.5 198.42 1239.5 199.5C1239.5 200.58 1240.33 202.08 1241 202.5C1241.67 202.92 1243.08 202.08 1243.5 202" stroke="#a52a2a" stroke-width="2.7" stroke-linecap="round" stroke-linejoin="round" fill="none"/>
<circle cx="1242" cy="200" r="4.5" fill="#a52a2a"/>
<path d="M789 215.5H1346.5" stroke="#000080" stroke-opacity="0.46" stroke-width="2.6" stroke-dasharray="9.4 4.1" fill="none" stroke-dashoffset="5.7"/>
<path d="M897.2 396V35.5" stroke="#000080" stroke-opacity="0.46" stroke-width="2.6" stroke-dasharray="9.4 4.1" fill="none"/>
<path d="M1240 396V35.5" stroke="#000080" stroke-opacity="0.46" stroke-width="2.6" stroke-dasharray="9.4 4.1" fill="none"/>
</g>
<rect x="931.4" y="65.8" width="177.6" height="113.5" fill="#fff"/>
<rect x="938.8" y="178.4" width="4.06" height="0.5" fill="#ff7f50"/>
<rect x="942.86" y="178.4" width="4.06" height="0.5" fill="#2e8b57"/>
<rect x="949.04" y="175.8" width="4.06" height="3.1" fill="#ff7f50"/>
<rect x="953.1" y="175.5" width="4.06" height="3.4" fill="#2e8b57"/>
<rect x="959.28" y="171.5" width="4.06" height="7.4" fill="#ff7f50"/>
<rect x="963.34" y="171.3" width="4.06" height="7.6" fill="#2e8b57"/>
<rect x="969.52" y="160" width="4.06" height="18.9" fill="#ff7f50"/>
<rect x="973.58" y="161.8" width="4.06" height="17.1" fill="#2e8b57"/>
<rect x="979.76" y="143.4" width="4.06" height="35.5" fill="#ff7f50"/>
<rect x="983.82" y="143.7" width="4.06" height="35.2" fill="#2e8b57"/>
<rect x="990" y="119" width="4.06" height="59.9" fill="#ff7f50"/>
<rect x="994.06" y="122.4" width="4.06" height="56.5" fill="#2e8b57"/>
<rect x="1000.24" y="96.4" width="4.06" height="82.5" fill="#ff7f50"/>
<rect x="1004.3" y="96.8" width="4.06" height="82.1" fill="#2e8b57"/>
<rect x="1010.48" y="77.5" width="4.06" height="101.4" fill="#ff7f50"/>
<rect x="1014.54" y="81.6" width="4.06" height="97.3" fill="#2e8b57"/>
<rect x="1020.72" y="75.7" width="4.06" height="103.2" fill="#ff7f50"/>
<rect x="1024.78" y="71.5" width="4.06" height="107.4" fill="#2e8b57"/>
<rect x="1030.96" y="83.8" width="4.06" height="95.1" fill="#ff7f50"/>
<rect x="1035.02" y="84.5" width="4.06" height="94.4" fill="#2e8b57"/>
<rect x="1041.2" y="108.5" width="4.06" height="70.4" fill="#ff7f50"/>
<rect x="1045.26" y="106.4" width="4.06" height="72.5" fill="#2e8b57"/>
<rect x="1051.44" y="128.9" width="4.06" height="50" fill="#ff7f50"/>
<rect x="1055.5" y="128.6" width="4.06" height="50.3" fill="#2e8b57"/>
<rect x="1061.68" y="150.6" width="4.06" height="28.3" fill="#ff7f50"/>
<rect x="1065.74" y="149.1" width="4.06" height="29.8" fill="#2e8b57"/>
<rect x="1071.92" y="164.5" width="4.06" height="14.4" fill="#ff7f50"/>
<rect x="1075.98" y="163.9" width="4.06" height="15" fill="#2e8b57"/>
<rect x="1082.16" y="172.6" width="4.06" height="6.3" fill="#ff7f50"/>
<rect x="1086.22" y="172.6" width="4.06" height="6.3" fill="#2e8b57"/>
<rect x="1092.4" y="176.2" width="4.06" height="2.7" fill="#ff7f50"/>
<rect x="1096.46" y="176.6" width="4.06" height="2.3" fill="#2e8b57"/>
<rect x="931.4" y="65.8" width="177.6" height="113.5" fill="none" stroke="#808080" stroke-width="1.6"/>
<text transform="translate(937.63 97.68) scale(1.049 1)" style="font-family:'Liberation Sans', Arial, sans-serif;font-size:22.31px;" fill="#000">Noise</text>
<g transform="translate(910.2 141.4) rotate(-90)"><text transform="translate(-1.79 17.4) scale(0.886 1)" style="font-family:'Liberation Sans', Arial, sans-serif;font-size:25.22px;" fill="#000">PDF</text></g>
<text transform="translate(917.57 87.23) scale(1.135 1)" style="font-family:'DejaVu Sans', sans-serif;font-size:17.99px;" fill="#444">5</text>
<text transform="translate(917.83 180.13) scale(1.105 1)" style="font-family:'DejaVu Sans', sans-serif;font-size:17.75px;" fill="#444">0</text>
<text transform="translate(927.72 196.6) scale(0.995 1)" style="font-family:'DejaVu Sans', sans-serif;font-size:19.87px;" fill="#444">−0.2</text>
<text transform="translate(1008.31 196.6) scale(1.000 1)" style="font-family:'DejaVu Sans', sans-serif;font-size:19.87px;" fill="#444">0.0</text>
<text transform="translate(1076.28 196.6) scale(1.024 1)" style="font-family:'DejaVu Sans', sans-serif;font-size:19.87px;" fill="#444">0.2</text>
<rect x="1081.2" y="37.9" width="55.4" height="137.7" rx="3" fill="#fff" fill-opacity="0.8" stroke="#dcdcdc" stroke-width="1.2"/>
<g transform="translate(1089.4 122.1) rotate(-90)"><text transform="translate(-0.35 12.52) scale(0.973 1)" style="font-family:'Liberation Sans', Arial, sans-serif;font-size:18.14px;" fill="#000">True</text></g>
<g transform="translate(1114.1 121.3) rotate(-90)"><text transform="translate(-1.48 13.32) scale(1.010 1)" style="font-family:'Liberation Sans', Arial, sans-serif;font-size:18.37px;" fill="#000">Predicted</text></g>
<rect x="1090.2" y="136.1" width="11.5" height="32.9" fill="#ff7f50"/>
<rect x="1114.4" y="136.1" width="11.5" height="32.9" fill="#2e8b57"/>
<rect x="787.5" y="33.8" width="560.5" height="363.8" fill="none" stroke="#000" stroke-width="3.6"/>
<text x="811.45" y="429.4" text-anchor="middle" style="font-family:'DejaVu Sans', sans-serif;font-size:25.8px">−1.5</text>
<text x="897.17" y="429.4" text-anchor="middle" style="font-family:'DejaVu Sans', sans-serif;font-size:25.8px">−1.0</text>
<text x="982.88" y="429.4" text-anchor="middle" style="font-family:'DejaVu Sans', sans-serif;font-size:25.8px">−0.5</text>
<text x="1068.6" y="429.4" text-anchor="middle" style="font-family:'DejaVu Sans', sans-serif;font-size:25.8px">0.0</text>
<text x="1154.31" y="429.4" text-anchor="middle" style="font-family:'DejaVu Sans', sans-serif;font-size:25.8px">0.5</text>
<text x="1240.03" y="429.4" text-anchor="middle" style="font-family:'DejaVu Sans', sans-serif;font-size:25.8px">1.0</text>
<text x="1325.74" y="429.4" text-anchor="middle" style="font-family:'DejaVu Sans', sans-serif;font-size:25.8px">1.5</text>
<text x="713.41" y="387.26" style="font-family:'DejaVu Sans', sans-serif;font-size:25.8px;" fill="#000">−1.0</text>
<text x="713.93" y="306.11" style="font-family:'DejaVu Sans', sans-serif;font-size:25.8px;" fill="#000">−0.5</text>
<text x="734.95" y="224.96" style="font-family:'DejaVu Sans', sans-serif;font-size:25.8px;" fill="#000">0.0</text>
<text x="735.47" y="143.81" style="font-family:'DejaVu Sans', sans-serif;font-size:25.8px;" fill="#000">0.5</text>
<text x="734.95" y="62.66" style="font-family:'DejaVu Sans', sans-serif;font-size:25.8px;" fill="#000">1.0</text>
<path d="M811.45 399.4V404.1M897.17 399.4V404.1M982.88 399.4V404.1M1068.6 399.4V404.1M1154.31 399.4V404.1M1240.03 399.4V404.1M1325.74 399.4V404.1M785.7 377.86H781M785.7 296.71H781M785.7 215.56H781M785.7 134.41H781M785.7 53.26H781" stroke="#222" stroke-width="1.3" fill="none"/>
<rect x="1492.08" y="388.27" width="7.78" height="12.33" fill="#2e8b57"/>
<rect x="1511.54" y="388.27" width="7.78" height="12.33" fill="#2e8b57"/>
<rect x="1667.22" y="338.93" width="7.78" height="61.67" fill="#2e8b57"/>
<rect x="1706.15" y="388.27" width="7.78" height="12.33" fill="#2e8b57"/>
<rect x="1717.82" y="375.93" width="7.78" height="24.67" fill="#ff7f50"/>
<rect x="1725.61" y="326.6" width="7.78" height="74" fill="#2e8b57"/>
<rect x="1745.07" y="388.27" width="7.78" height="12.33" fill="#2e8b57"/>
<rect x="1756.74" y="338.93" width="7.78" height="61.67" fill="#ff7f50"/>
<rect x="1764.53" y="264.93" width="7.78" height="135.67" fill="#2e8b57"/>
<rect x="1776.2" y="326.6" width="7.78" height="74" fill="#ff7f50"/>
<rect x="1783.99" y="314.27" width="7.78" height="86.33" fill="#2e8b57"/>
<rect x="1795.66" y="363.6" width="7.78" height="37" fill="#ff7f50"/>
<rect x="1803.45" y="351.27" width="7.78" height="49.33" fill="#2e8b57"/>
<rect x="1815.12" y="277.27" width="7.78" height="123.33" fill="#ff7f50"/>
<rect x="1822.91" y="301.93" width="7.78" height="98.67" fill="#2e8b57"/>
<rect x="1834.58" y="289.6" width="7.78" height="111" fill="#ff7f50"/>
<rect x="1842.37" y="314.27" width="7.78" height="86.33" fill="#2e8b57"/>
<rect x="1854.04" y="227.93" width="7.78" height="172.67" fill="#ff7f50"/>
<rect x="1861.83" y="166.27" width="7.78" height="234.33" fill="#2e8b57"/>
<rect x="1873.51" y="264.93" width="7.78" height="135.67" fill="#ff7f50"/>
<rect x="1881.29" y="351.27" width="7.78" height="49.33" fill="#2e8b57"/>
<rect x="1892.97" y="252.6" width="7.78" height="148" fill="#ff7f50"/>
<rect x="1900.75" y="338.93" width="7.78" height="61.67" fill="#2e8b57"/>
<rect x="1912.43" y="289.6" width="7.78" height="111" fill="#ff7f50"/>
<rect x="1920.21" y="363.6" width="7.78" height="37" fill="#2e8b57"/>
<rect x="1931.89" y="375.93" width="7.78" height="24.67" fill="#ff7f50"/>
<rect x="1939.67" y="363.6" width="7.78" height="37" fill="#2e8b57"/>
<rect x="1951.35" y="338.93" width="7.78" height="61.67" fill="#ff7f50"/>
<rect x="1959.13" y="363.6" width="7.78" height="37" fill="#2e8b57"/>
<rect x="1970.81" y="326.6" width="7.78" height="74" fill="#ff7f50"/>
<rect x="1978.59" y="314.27" width="7.78" height="86.33" fill="#2e8b57"/>
<rect x="1990.27" y="388.27" width="7.78" height="12.33" fill="#ff7f50"/>
<rect x="1998.05" y="375.93" width="7.78" height="24.67" fill="#2e8b57"/>
<rect x="2009.73" y="363.6" width="7.78" height="37" fill="#ff7f50"/>
<rect x="2017.51" y="388.27" width="7.78" height="12.33" fill="#2e8b57"/>
<rect x="2029.19" y="388.27" width="7.78" height="12.33" fill="#ff7f50"/>
<rect x="2036.97" y="388.27" width="7.78" height="12.33" fill="#2e8b57"/>
<rect x="1482.6" y="32.5" width="567.4" height="368.8" fill="none" stroke="#000" stroke-width="3.4"/>
<text x="1531" y="430.7" text-anchor="middle" style="font-family:'DejaVu Sans', sans-serif;font-size:24px">6</text>
<text x="1628.3" y="430.7" text-anchor="middle" style="font-family:'DejaVu Sans', sans-serif;font-size:24px">12</text>
<text x="1725.61" y="430.7" text-anchor="middle" style="font-family:'DejaVu Sans', sans-serif;font-size:24px">18</text>
<text x="1822.91" y="430.7" text-anchor="middle" style="font-family:'DejaVu Sans', sans-serif;font-size:24px">24</text>
<text x="1920.21" y="430.7" text-anchor="middle" style="font-family:'DejaVu Sans', sans-serif;font-size:24px">30</text>
<text x="2017.51" y="430.7" text-anchor="middle" style="font-family:'DejaVu Sans', sans-serif;font-size:24px">36</text>
<text x="1416.56" y="409.4" style="font-family:'DejaVu Sans', sans-serif;font-size:24px;" fill="#000">0.00</text>
<text x="1417.04" y="335.4" style="font-family:'DejaVu Sans', sans-serif;font-size:24px;" fill="#000">0.05</text>
<text x="1416.56" y="261.4" style="font-family:'DejaVu Sans', sans-serif;font-size:24px;" fill="#000">0.10</text>
<text x="1417.04" y="187.4" style="font-family:'DejaVu Sans', sans-serif;font-size:24px;" fill="#000">0.15</text>
<text x="1416.56" y="113.4" style="font-family:'DejaVu Sans', sans-serif;font-size:24px;" fill="#000">0.20</text>
<path d="M1531 403V407.8M1628.3 403V407.8M1725.61 403V407.8M1822.91 403V407.8M1920.21 403V407.8M2017.51 403V407.8M1480.9 400.6H1476.1M1480.9 326.6H1476.1M1480.9 252.6H1476.1M1480.9 178.6H1476.1M1480.9 104.6H1476.1" stroke="#000" stroke-width="1.4" fill="none"/>
<text x="1368.63" y="250.6" transform="rotate(-90 1400.75 238.85)" style="font-family:'DejaVu Sans', sans-serif;font-size:32.2px;" fill="#000">PDF</text>
<text x="1702.42" y="465.2" style="font-family:'DejaVu Sans', sans-serif;font-size:30.8px;" fill="#000">Number</text>
<rect x="1671.8" y="43.6" width="367" height="108.3" rx="4" ry="4" fill="#fff" fill-opacity="0.8" stroke="#d0d0d0" stroke-width="1.4"/>
<text x="1682.3" y="71.1" style="font-family:'DejaVu Sans', sans-serif;font-size:22.8px;" fill="#000">Average number of transitions</text>
<rect x="1747" y="88.2" width="46.4" height="15.6" fill="#ff7f50"/>
<rect x="1747" y="121.5" width="46.4" height="16.5" fill="#2e8b57"/>
<text x="1812.11" y="103.8" style="font-family:'DejaVu Sans', sans-serif;font-size:22.8px;" fill="#000">True: 27</text>
<text x="1809.72" y="138" style="font-family:'DejaVu Sans', sans-serif;font-size:22.8px;" fill="#000">Predicted: 25</text>
<rect x="1484.88" y="656.09" width="8.73" height="215.11" fill="#ff7f50"/>
<rect x="1493.61" y="660.72" width="8.73" height="210.48" fill="#2e8b57"/>
<rect x="1506.7" y="638.05" width="8.73" height="233.15" fill="#ff7f50"/>
<rect x="1515.42" y="640.83" width="8.73" height="230.37" fill="#2e8b57"/>
<rect x="1528.51" y="712.99" width="8.73" height="158.21" fill="#ff7f50"/>
<rect x="1537.24" y="725.02" width="8.73" height="146.18" fill="#2e8b57"/>
<rect x="1550.33" y="765.26" width="8.73" height="105.94" fill="#ff7f50"/>
<rect x="1559.05" y="765.73" width="8.73" height="105.47" fill="#2e8b57"/>
<rect x="1572.14" y="807.36" width="8.73" height="63.84" fill="#ff7f50"/>
<rect x="1580.87" y="796.26" width="8.73" height="74.94" fill="#2e8b57"/>
<rect x="1593.96" y="823.09" width="8.73" height="48.11" fill="#ff7f50"/>
<rect x="1602.68" y="830.03" width="8.73" height="41.17" fill="#2e8b57"/>
<rect x="1615.77" y="832.99" width="8.73" height="38.21" fill="#ff7f50"/>
<rect x="1624.5" y="843.21" width="8.73" height="27.99" fill="#2e8b57"/>
<rect x="1637.59" y="851.77" width="8.73" height="19.43" fill="#ff7f50"/>
<rect x="1646.31" y="849" width="8.73" height="22.2" fill="#2e8b57"/>
<rect x="1659.4" y="857.51" width="8.73" height="13.69" fill="#ff7f50"/>
<rect x="1668.13" y="853.71" width="8.73" height="17.49" fill="#2e8b57"/>
<rect x="1681.22" y="862.09" width="8.73" height="9.11" fill="#ff7f50"/>
<rect x="1689.94" y="859.17" width="8.73" height="12.03" fill="#2e8b57"/>
<rect x="1703.03" y="867.96" width="8.73" height="3.24" fill="#ff7f50"/>
<rect x="1711.76" y="862.18" width="8.73" height="9.02" fill="#2e8b57"/>
<rect x="1724.85" y="866.2" width="8.73" height="5" fill="#ff7f50"/>
<rect x="1733.57" y="867.31" width="8.73" height="3.89" fill="#2e8b57"/>
<rect x="1746.66" y="869.12" width="8.73" height="2.08" fill="#ff7f50"/>
<rect x="1755.39" y="865.19" width="8.73" height="6.01" fill="#2e8b57"/>
<rect x="1768.48" y="870.27" width="8.73" height="0.93" fill="#ff7f50"/>
<rect x="1777.2" y="866.11" width="8.73" height="5.09" fill="#2e8b57"/>
<rect x="1799.02" y="869.03" width="8.73" height="2.17" fill="#2e8b57"/>
<rect x="1842.65" y="870.27" width="8.73" height="0.93" fill="#2e8b57"/>
<rect x="1482.7" y="503.4" width="567.6" height="368.3" fill="none" stroke="#000" stroke-width="3.4"/>
<text x="1482.7" y="901.5" text-anchor="middle" style="font-family:'DejaVu Sans', sans-serif;font-size:24px">0</text>
<text x="1613.59" y="901.5" text-anchor="middle" style="font-family:'DejaVu Sans', sans-serif;font-size:24px">3</text>
<text x="1744.48" y="901.5" text-anchor="middle" style="font-family:'DejaVu Sans', sans-serif;font-size:24px">6</text>
<text x="1875.37" y="901.5" text-anchor="middle" style="font-family:'DejaVu Sans', sans-serif;font-size:24px">9</text>
<text x="2006.26" y="901.5" text-anchor="middle" style="font-family:'DejaVu Sans', sans-serif;font-size:24px">12</text>
<text x="1416.56" y="880" style="font-family:'DejaVu Sans', sans-serif;font-size:24px;" fill="#000">0.00</text>
<text x="1416.56" y="787.48" style="font-family:'DejaVu Sans', sans-serif;font-size:24px;" fill="#000">0.20</text>
<text x="1416.56" y="694.96" style="font-family:'DejaVu Sans', sans-serif;font-size:24px;" fill="#000">0.40</text>
<text x="1416.56" y="602.44" style="font-family:'DejaVu Sans', sans-serif;font-size:24px;" fill="#000">0.60</text>
<path d="M1482.7 873.4V878.2M1613.59 873.4V878.2M1744.48 873.4V878.2M1875.37 873.4V878.2M2006.26 873.4V878.2M1481 871.2H1476.2M1481 778.68H1476.2M1481 686.16H1476.2M1481 593.64H1476.2" stroke="#000" stroke-width="1.4" fill="none"/>
<text x="1374.03" y="707.15" transform="rotate(-90 1406.15 695.4)" style="font-family:'DejaVu Sans', sans-serif;font-size:32.2px;" fill="#000">PDF</text>
<text x="1733.75" y="936.6" style="font-family:'DejaVu Sans', sans-serif;font-size:30.8px;" fill="#000">Time</text>
<rect x="1750.6" y="514.8" width="288.2" height="107.7" rx="4" ry="4" fill="#fff" fill-opacity="0.8" stroke="#d0d0d0" stroke-width="1.4"/>
<text x="1762.21" y="541.7" style="font-family:'DejaVu Sans', sans-serif;font-size:22.6px;" fill="#000">Average transition time</text>
<rect x="1775.8" y="558.9" width="46.1" height="16.1" fill="#ff7f50"/>
<rect x="1775.8" y="592.3" width="46.1" height="16.3" fill="#2e8b57"/>
<text x="1840.61" y="575.3" style="font-family:'DejaVu Sans', sans-serif;font-size:22.6px;" fill="#000">True: 1.41</text>
<text x="1838.24" y="608.5" style="font-family:'DejaVu Sans', sans-serif;font-size:22.6px;" fill="#000">Predicted: 1.51</text>
<text transform="translate(328.53 477.63) scale(1.100 1)" style="font-family:'Liberation Serif', serif;font-size:39.85px;font-style:italic;stroke:#000;stroke-width:0.9px;" fill="#000">u</text><text transform="translate(353.33 483.1) scale(1.103 1)" style="font-family:'Liberation Serif', serif;font-size:28.38px;" fill="#000">1</text>
<g transform="translate(23.8 242.8) rotate(-90)"><text transform="translate(0.12 18.95) scale(1.100 1)" style="font-family:'Liberation Serif', serif;font-size:41.19px;font-style:italic;stroke:#000;stroke-width:0.9px;" fill="#000">u</text><text transform="translate(26.67 24.6) scale(0.944 1)" style="font-family:'Liberation Serif', serif;font-size:29.33px;" fill="#000">2</text></g>
<text transform="translate(356.94 933.61) scale(1.100 1)" style="font-family:'Liberation Serif', serif;font-size:38.51px;font-style:italic;stroke:#000;stroke-width:0.9px;" fill="#000">u</text><text transform="translate(380.26 938.9) scale(1.048 1)" style="font-family:'Liberation Serif', serif;font-size:27.42px;" fill="#000">1</text>
<g transform="translate(24 704.6) rotate(-90)"><text transform="translate(-0.42 18.64) scale(1.100 1)" style="font-family:'Liberation Serif', serif;font-size:40.52px;font-style:italic;stroke:#000;stroke-width:0.9px;" fill="#000">u</text><text transform="translate(25.03 24.2) scale(0.901 1)" style="font-family:'Liberation Serif', serif;font-size:28.86px;" fill="#000">2</text></g>
<text transform="translate(1052.01 933.61) scale(1.100 1)" style="font-family:'Liberation Serif', serif;font-size:38.51px;font-style:italic;stroke:#000;stroke-width:0.9px;" fill="#000">u</text><text transform="translate(1075.29 938.9) scale(1.045 1)" style="font-family:'Liberation Serif', serif;font-size:27.42px;" fill="#000">1</text>
<g transform="translate(724.1 705.8) rotate(-90)"><text transform="translate(-0.19 18.02) scale(1.100 1)" style="font-family:'Liberation Serif', serif;font-size:39.18px;font-style:italic;stroke:#000;stroke-width:0.9px;" fill="#000">u</text><text transform="translate(24.69 23.4) scale(0.919 1)" style="font-family:'Liberation Serif', serif;font-size:27.9px;" fill="#000">2</text></g>
<text transform="translate(1051.85 465.71) scale(1.100 1)" style="font-family:'Liberation Serif', serif;font-size:38.51px;font-style:italic;stroke:#000;stroke-width:0.9px;" fill="#000">u</text><text transform="translate(1075.06 471) scale(1.039 1)" style="font-family:'Liberation Serif', serif;font-size:27.42px;" fill="#000">1</text>
<g transform="translate(700.2 232.8) rotate(-90)"><text transform="translate(-0.14 18.33) scale(1.100 1)" style="font-family:'Liberation Serif', serif;font-size:39.85px;font-style:italic;stroke:#000;stroke-width:0.9px;" fill="#000">u</text><text transform="translate(25.24 23.8) scale(0.924 1)" style="font-family:'Liberation Serif', serif;font-size:28.38px;" fill="#000">2</text></g>
<text x="-4.2" y="25.8" style="font-family:'Liberation Sans', Arial, sans-serif;font-size:50px;font-weight:bold;" fill="#000">a</text>
<text x="-3.25" y="502.9" style="font-family:'Liberation Sans', Arial, sans-serif;font-size:50px;font-weight:bold;" fill="#000">b</text>
<text x="684.4" y="29.2" style="font-family:'Liberation Sans', Arial, sans-serif;font-size:50px;font-weight:bold;" fill="#000">c</text>
<text x="686.5" y="502.5" style="font-family:'Liberation Sans', Arial, sans-serif;font-size:50px;font-weight:bold;" fill="#000">d</text>
<text x="1376.1" y="32.2" style="font-family:'Liberation Sans', Arial, sans-serif;font-size:50px;font-weight:bold;" fill="#000">e</text>
<text x="1381.45" y="508.7" style="font-family:'Liberation Sans', Arial, sans-serif;font-size:50px;font-weight:bold;" fill="#000">f</text></svg></body></html>
